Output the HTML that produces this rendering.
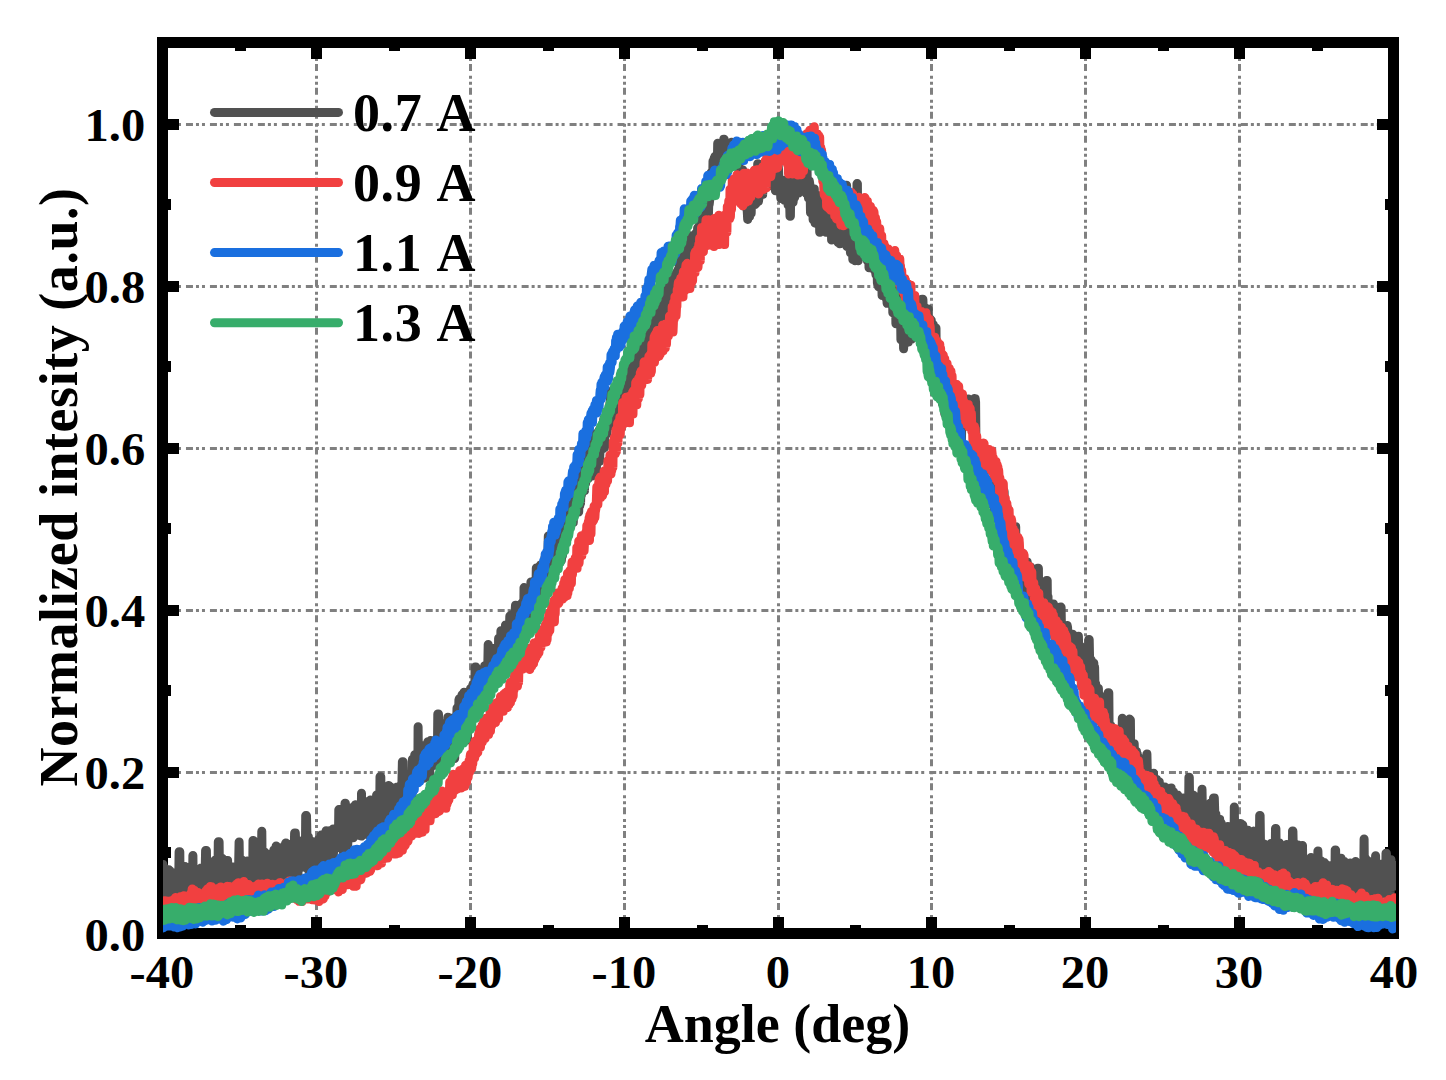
<!DOCTYPE html><html><head><meta charset="utf-8"><title>Normalized intesity vs Angle</title>
<style>html,body{margin:0;padding:0;background:#fff}svg{display:block}text{font-kerning:none;font-family:"Liberation Serif","Times New Roman",serif;font-weight:bold;fill:#000}.tk{font-size:46.5px}.tt{font-size:54px}</style></head><body>
<svg width="1446" height="1080" viewBox="0 0 1446 1080">
<rect width="1446" height="1080" fill="#fff"/>
<g stroke="#808080" stroke-width="3" stroke-dasharray="7 3 3 3 3 4.975" fill="none"><line x1="316.5" y1="934" x2="316.5" y2="42"/><line x1="470.5" y1="934" x2="470.5" y2="42"/><line x1="624.5" y1="934" x2="624.5" y2="42"/><line x1="778.5" y1="934" x2="778.5" y2="42"/><line x1="931.5" y1="934" x2="931.5" y2="42"/><line x1="1085.5" y1="934" x2="1085.5" y2="42"/><line x1="1239.5" y1="934" x2="1239.5" y2="42"/><line x1="162" y1="772.5" x2="1394" y2="772.5"/><line x1="162" y1="610.5" x2="1394" y2="610.5"/><line x1="162" y1="448.5" x2="1394" y2="448.5"/><line x1="162" y1="286.5" x2="1394" y2="286.5"/><line x1="162" y1="124.5" x2="1394" y2="124.5"/></g>
<rect x="162.5" y="42.5" width="1231.0" height="891.0" fill="none" stroke="#000" stroke-width="11"/>
<g stroke="#000" stroke-width="11"><line x1="240.5" y1="933.5" x2="240.5" y2="925.0"/><line x1="240.5" y1="42.5" x2="240.5" y2="51.0"/><line x1="316.5" y1="933.5" x2="316.5" y2="917.0"/><line x1="316.5" y1="42.5" x2="316.5" y2="59.0"/><line x1="394.5" y1="933.5" x2="394.5" y2="925.0"/><line x1="394.5" y1="42.5" x2="394.5" y2="51.0"/><line x1="470.5" y1="933.5" x2="470.5" y2="917.0"/><line x1="470.5" y1="42.5" x2="470.5" y2="59.0"/><line x1="548.5" y1="933.5" x2="548.5" y2="925.0"/><line x1="548.5" y1="42.5" x2="548.5" y2="51.0"/><line x1="624.5" y1="933.5" x2="624.5" y2="917.0"/><line x1="624.5" y1="42.5" x2="624.5" y2="59.0"/><line x1="702.5" y1="933.5" x2="702.5" y2="925.0"/><line x1="702.5" y1="42.5" x2="702.5" y2="51.0"/><line x1="778.5" y1="933.5" x2="778.5" y2="917.0"/><line x1="778.5" y1="42.5" x2="778.5" y2="59.0"/><line x1="855.5" y1="933.5" x2="855.5" y2="925.0"/><line x1="855.5" y1="42.5" x2="855.5" y2="51.0"/><line x1="931.5" y1="933.5" x2="931.5" y2="917.0"/><line x1="931.5" y1="42.5" x2="931.5" y2="59.0"/><line x1="1009.5" y1="933.5" x2="1009.5" y2="925.0"/><line x1="1009.5" y1="42.5" x2="1009.5" y2="51.0"/><line x1="1085.5" y1="933.5" x2="1085.5" y2="917.0"/><line x1="1085.5" y1="42.5" x2="1085.5" y2="59.0"/><line x1="1163.5" y1="933.5" x2="1163.5" y2="925.0"/><line x1="1163.5" y1="42.5" x2="1163.5" y2="51.0"/><line x1="1239.5" y1="933.5" x2="1239.5" y2="917.0"/><line x1="1239.5" y1="42.5" x2="1239.5" y2="59.0"/><line x1="1317.5" y1="933.5" x2="1317.5" y2="925.0"/><line x1="1317.5" y1="42.5" x2="1317.5" y2="51.0"/><line x1="162.5" y1="852.5" x2="171.0" y2="852.5"/><line x1="1393.5" y1="852.5" x2="1385.0" y2="852.5"/><line x1="162.5" y1="772.5" x2="179.0" y2="772.5"/><line x1="1393.5" y1="772.5" x2="1377.0" y2="772.5"/><line x1="162.5" y1="690.5" x2="171.0" y2="690.5"/><line x1="1393.5" y1="690.5" x2="1385.0" y2="690.5"/><line x1="162.5" y1="610.5" x2="179.0" y2="610.5"/><line x1="1393.5" y1="610.5" x2="1377.0" y2="610.5"/><line x1="162.5" y1="528.5" x2="171.0" y2="528.5"/><line x1="1393.5" y1="528.5" x2="1385.0" y2="528.5"/><line x1="162.5" y1="448.5" x2="179.0" y2="448.5"/><line x1="1393.5" y1="448.5" x2="1377.0" y2="448.5"/><line x1="162.5" y1="366.5" x2="171.0" y2="366.5"/><line x1="1393.5" y1="366.5" x2="1385.0" y2="366.5"/><line x1="162.5" y1="286.5" x2="179.0" y2="286.5"/><line x1="1393.5" y1="286.5" x2="1377.0" y2="286.5"/><line x1="162.5" y1="204.5" x2="171.0" y2="204.5"/><line x1="1393.5" y1="204.5" x2="1385.0" y2="204.5"/><line x1="162.5" y1="124.5" x2="179.0" y2="124.5"/><line x1="1393.5" y1="124.5" x2="1377.0" y2="124.5"/></g>
<clipPath id="c"><rect x="163" y="42.5" width="1233" height="892.0"/></clipPath>
<g clip-path="url(#c)"><path d="M162.5,874.4 L162.9,864.4 L163.3,869.7 L163.7,891.5 L164.0,889.3 L164.4,868.1 L164.8,902.4 L165.2,871.7 L165.6,873.4 L166.0,886.8 L166.3,893.8 L166.7,895.3 L167.1,896.6 L167.5,889.6 L167.9,887.7 L168.3,886.3 L168.7,869.7 L169.0,877.9 L169.4,884.8 L169.8,870.8 L170.2,900.6 L170.6,902.7 L171.0,885.2 L171.4,907.1 L171.7,907.4 L172.1,888.7 L172.5,890.4 L172.9,872.8 L173.3,883.7 L173.7,887.9 L174.0,888.3 L174.4,897.7 L174.8,906.7 L175.2,899.5 L175.6,880.0 L176.0,898.6 L176.4,891.7 L176.7,905.4 L177.1,873.2 L177.5,899.0 L177.9,894.6 L178.3,870.8 L178.7,885.1 L179.1,851.8 L179.4,851.8 L179.8,851.8 L180.2,901.0 L180.6,883.6 L181.0,884.6 L181.4,870.4 L181.7,890.0 L182.1,880.7 L182.5,901.4 L182.9,888.7 L183.3,891.3 L183.7,898.0 L184.1,872.4 L184.4,889.4 L184.8,866.4 L185.2,881.5 L185.6,880.9 L186.0,879.6 L186.4,878.0 L186.8,898.3 L187.1,887.1 L187.5,894.8 L187.9,888.6 L188.3,900.6 L188.7,867.3 L189.1,896.7 L189.4,879.4 L189.8,894.0 L190.2,872.0 L190.6,880.2 L191.0,900.6 L191.4,873.2 L191.8,869.6 L192.1,871.4 L192.5,884.4 L192.9,855.5 L193.3,899.1 L193.7,870.9 L194.1,885.6 L194.5,900.2 L194.8,873.3 L195.2,882.7 L195.6,885.5 L196.0,892.8 L196.4,891.3 L196.8,897.7 L197.1,905.3 L197.5,872.8 L197.9,888.5 L198.3,885.3 L198.7,893.9 L199.1,877.1 L199.5,904.9 L199.8,891.2 L200.2,904.2 L200.6,900.6 L201.0,867.9 L201.4,879.8 L201.8,888.5 L202.2,884.6 L202.5,871.0 L202.9,891.2 L203.3,881.7 L203.7,878.1 L204.1,890.7 L204.5,884.3 L204.8,874.8 L205.2,869.1 L205.6,850.4 L206.0,850.4 L206.4,850.4 L206.8,875.2 L207.2,873.0 L207.5,899.0 L207.9,887.8 L208.3,872.2 L208.7,902.8 L209.1,878.7 L209.5,872.0 L209.9,882.5 L210.2,873.9 L210.6,892.8 L211.0,893.6 L211.4,886.8 L211.8,893.6 L212.2,886.8 L212.5,863.2 L212.9,877.4 L213.3,886.1 L213.7,888.4 L214.1,862.0 L214.5,881.2 L214.9,860.3 L215.2,877.9 L215.6,877.6 L216.0,863.0 L216.4,868.8 L216.8,875.0 L217.2,880.8 L217.6,863.1 L217.9,881.0 L218.3,841.7 L218.7,841.7 L219.1,841.7 L219.5,876.4 L219.9,859.9 L220.2,886.9 L220.6,865.4 L221.0,870.3 L221.4,868.6 L221.8,871.8 L222.2,858.5 L222.6,882.9 L222.9,880.3 L223.3,887.8 L223.7,893.7 L224.1,887.4 L224.5,860.3 L224.9,863.4 L225.3,891.7 L225.6,873.0 L226.0,878.0 L226.4,873.9 L226.8,871.7 L227.2,885.4 L227.6,860.4 L227.9,879.7 L228.3,873.7 L228.7,873.9 L229.1,891.7 L229.5,897.0 L229.9,884.0 L230.3,870.9 L230.6,869.3 L231.0,873.0 L231.4,897.2 L231.8,866.8 L232.2,871.3 L232.6,868.5 L233.0,882.2 L233.3,867.2 L233.7,900.6 L234.1,901.1 L234.5,901.3 L234.9,892.2 L235.3,892.3 L235.6,894.5 L236.0,879.6 L236.4,899.5 L236.8,877.8 L237.2,893.7 L237.6,873.6 L238.0,898.7 L238.3,887.2 L238.7,862.6 L239.1,841.9 L239.5,866.7 L239.9,872.5 L240.3,874.1 L240.7,890.2 L241.0,875.3 L241.4,895.8 L241.8,866.4 L242.2,860.3 L242.6,864.1 L243.0,894.9 L243.3,883.7 L243.7,884.4 L244.1,892.1 L244.5,872.2 L244.9,865.5 L245.3,884.0 L245.7,862.5 L246.0,864.8 L246.4,890.5 L246.8,865.8 L247.2,861.1 L247.6,887.3 L248.0,872.7 L248.4,870.0 L248.7,870.8 L249.1,890.4 L249.5,868.5 L249.9,869.6 L250.3,862.1 L250.7,862.7 L251.0,881.0 L251.4,865.6 L251.8,860.1 L252.2,859.0 L252.6,886.8 L253.0,840.4 L253.4,840.4 L253.7,883.9 L254.1,870.1 L254.5,854.9 L254.9,876.3 L255.3,880.6 L255.7,872.3 L256.1,864.1 L256.4,885.1 L256.8,873.8 L257.2,882.7 L257.6,861.8 L258.0,854.7 L258.4,871.8 L258.7,871.5 L259.1,864.5 L259.5,876.5 L259.9,875.0 L260.3,871.7 L260.7,866.9 L261.1,881.6 L261.4,856.0 L261.8,831.2 L262.2,874.0 L262.6,882.9 L263.0,856.9 L263.4,881.4 L263.8,881.4 L264.1,881.6 L264.5,883.7 L264.9,852.3 L265.3,877.0 L265.7,875.8 L266.1,855.8 L266.4,864.2 L266.8,881.0 L267.2,871.5 L267.6,854.2 L268.0,873.6 L268.4,860.4 L268.8,883.6 L269.1,859.0 L269.5,856.8 L269.9,854.6 L270.3,860.1 L270.7,871.5 L271.1,883.1 L271.5,865.5 L271.8,856.3 L272.2,878.0 L272.6,874.9 L273.0,864.4 L273.4,856.0 L273.8,850.0 L274.1,879.6 L274.5,877.4 L274.9,853.7 L275.3,892.6 L275.7,856.8 L276.1,846.1 L276.5,848.2 L276.8,851.7 L277.2,854.1 L277.6,868.7 L278.0,859.1 L278.4,876.4 L278.8,854.0 L279.2,853.8 L279.5,854.9 L279.9,865.1 L280.3,867.5 L280.7,865.8 L281.1,880.6 L281.5,849.3 L281.8,860.7 L282.2,866.3 L282.6,860.0 L283.0,853.1 L283.4,866.1 L283.8,848.9 L284.2,845.7 L284.5,866.3 L284.9,876.0 L285.3,851.9 L285.7,843.0 L286.1,875.6 L286.5,854.1 L286.9,849.9 L287.2,846.4 L287.6,877.3 L288.0,878.6 L288.4,844.2 L288.8,877.7 L289.2,875.4 L289.5,860.2 L289.9,865.2 L290.3,853.4 L290.7,874.8 L291.1,846.8 L291.5,873.4 L291.9,851.8 L292.2,878.3 L292.6,862.5 L293.0,879.2 L293.4,868.2 L293.8,867.8 L294.2,851.7 L294.6,833.0 L294.9,833.0 L295.3,833.0 L295.7,843.0 L296.1,841.5 L296.5,866.8 L296.9,860.9 L297.2,867.0 L297.6,870.6 L298.0,873.7 L298.4,855.3 L298.8,869.6 L299.2,867.3 L299.6,840.9 L299.9,855.2 L300.3,866.6 L300.7,847.8 L301.1,863.1 L301.5,852.9 L301.9,862.2 L302.3,853.2 L302.6,848.9 L303.0,852.4 L303.4,857.8 L303.8,842.4 L304.2,839.2 L304.6,865.5 L304.9,866.8 L305.3,867.6 L305.7,815.6 L306.1,815.6 L306.5,815.6 L306.9,834.6 L307.3,863.9 L307.6,852.5 L308.0,852.9 L308.4,837.0 L308.8,870.9 L309.2,860.8 L309.6,850.2 L310.0,871.0 L310.3,864.9 L310.7,856.6 L311.1,841.3 L311.5,846.6 L311.9,844.5 L312.3,847.7 L312.6,850.4 L313.0,845.4 L313.4,852.2 L313.8,850.3 L314.2,867.2 L314.6,872.5 L315.0,850.0 L315.3,872.6 L315.7,843.7 L316.1,856.1 L316.5,866.1 L316.9,842.4 L317.3,872.2 L317.7,858.0 L318.0,873.7 L318.4,839.5 L318.8,853.7 L319.2,844.3 L319.6,863.6 L320.0,842.8 L320.3,845.8 L320.7,847.3 L321.1,835.1 L321.5,854.6 L321.9,854.9 L322.3,843.7 L322.7,837.9 L323.0,856.8 L323.4,843.6 L323.8,861.0 L324.2,847.5 L324.6,838.9 L325.0,865.6 L325.4,876.4 L325.7,867.1 L326.1,830.8 L326.5,849.4 L326.9,851.5 L327.3,839.5 L327.7,847.1 L328.0,839.2 L328.4,864.0 L328.8,845.4 L329.2,845.3 L329.6,830.7 L330.0,864.8 L330.4,848.7 L330.7,841.4 L331.1,844.0 L331.5,861.7 L331.9,841.4 L332.3,855.1 L332.7,855.5 L333.1,828.9 L333.4,854.5 L333.8,844.4 L334.2,833.0 L334.6,834.3 L335.0,840.0 L335.4,830.1 L335.7,842.7 L336.1,836.5 L336.5,828.6 L336.9,834.0 L337.3,835.3 L337.7,844.2 L338.1,838.2 L338.4,844.4 L338.8,809.6 L339.2,809.6 L339.6,809.6 L340.0,831.9 L340.4,841.8 L340.8,848.4 L341.1,829.8 L341.5,847.0 L341.9,829.0 L342.3,831.2 L342.7,844.0 L343.1,833.8 L343.4,860.0 L343.8,846.4 L344.2,828.4 L344.6,839.0 L345.0,803.3 L345.4,803.3 L345.8,833.8 L346.1,837.0 L346.5,842.5 L346.9,850.8 L347.3,845.7 L347.7,844.8 L348.1,838.6 L348.5,815.7 L348.8,839.3 L349.2,834.5 L349.6,836.4 L350.0,827.2 L350.4,812.0 L350.8,813.0 L351.1,831.3 L351.5,834.2 L351.9,809.4 L352.3,823.3 L352.7,815.1 L353.1,837.7 L353.5,806.7 L353.8,827.1 L354.2,819.3 L354.6,829.9 L355.0,820.8 L355.4,804.8 L355.8,804.7 L356.2,818.1 L356.5,806.9 L356.9,818.8 L357.3,822.2 L357.7,815.8 L358.1,829.1 L358.5,825.0 L358.8,810.4 L359.2,808.2 L359.6,835.6 L360.0,810.1 L360.4,806.9 L360.8,821.3 L361.2,836.1 L361.5,793.3 L361.9,829.6 L362.3,814.7 L362.7,824.9 L363.1,815.0 L363.5,829.2 L363.9,820.8 L364.2,818.8 L364.6,814.6 L365.0,830.8 L365.4,801.6 L365.8,827.1 L366.2,826.1 L366.5,827.6 L366.9,834.6 L367.3,820.7 L367.7,807.2 L368.1,809.6 L368.5,828.9 L368.9,830.9 L369.2,823.6 L369.6,806.2 L370.0,816.7 L370.4,799.9 L370.8,809.9 L371.2,811.0 L371.6,805.1 L371.9,805.5 L372.3,820.6 L372.7,823.5 L373.1,816.3 L373.5,814.0 L373.9,827.1 L374.2,815.6 L374.6,807.9 L375.0,827.1 L375.4,826.8 L375.8,825.2 L376.2,820.9 L376.6,794.9 L376.9,830.5 L377.3,824.4 L377.7,825.1 L378.1,813.1 L378.5,830.6 L378.9,813.6 L379.3,824.7 L379.6,820.5 L380.0,776.7 L380.4,776.7 L380.8,776.7 L381.2,814.6 L381.6,813.9 L381.9,798.5 L382.3,823.1 L382.7,793.7 L383.1,794.4 L383.5,802.6 L383.9,825.8 L384.3,801.9 L384.6,803.9 L385.0,796.8 L385.4,817.6 L385.8,789.0 L386.2,791.1 L386.6,820.1 L387.0,812.2 L387.3,822.8 L387.7,832.5 L388.1,788.6 L388.5,785.5 L388.9,800.0 L389.3,798.0 L389.6,797.4 L390.0,801.5 L390.4,787.0 L390.8,800.2 L391.2,810.6 L391.6,803.9 L392.0,823.0 L392.3,796.1 L392.7,797.5 L393.1,807.9 L393.5,791.4 L393.9,795.0 L394.3,811.0 L394.7,820.9 L395.0,818.7 L395.4,816.6 L395.8,811.9 L396.2,806.1 L396.6,787.3 L397.0,811.4 L397.3,787.0 L397.7,794.6 L398.1,787.3 L398.5,803.9 L398.9,818.4 L399.3,787.8 L399.7,807.8 L400.0,811.1 L400.4,785.5 L400.8,789.5 L401.2,807.4 L401.6,805.0 L402.0,779.1 L402.4,761.7 L402.7,761.7 L403.1,761.7 L403.5,782.0 L403.9,808.2 L404.3,792.9 L404.7,811.1 L405.0,791.5 L405.4,780.2 L405.8,809.1 L406.2,801.7 L406.6,782.8 L407.0,788.6 L407.4,799.4 L407.7,786.7 L408.1,792.5 L408.5,775.8 L408.9,796.0 L409.3,777.0 L409.7,780.2 L410.1,774.8 L410.4,787.4 L410.8,773.2 L411.2,772.9 L411.6,783.5 L412.0,796.0 L412.4,759.2 L412.7,767.4 L413.1,785.3 L413.5,763.8 L413.9,779.5 L414.3,771.0 L414.7,754.8 L415.1,769.2 L415.4,774.2 L415.8,772.7 L416.2,780.7 L416.6,775.0 L417.0,772.7 L417.4,776.0 L417.8,779.7 L418.1,726.7 L418.5,773.0 L418.9,752.9 L419.3,745.6 L419.7,769.6 L420.1,757.8 L420.4,759.9 L420.8,776.1 L421.2,774.2 L421.6,745.5 L422.0,761.0 L422.4,748.4 L422.8,776.2 L423.1,756.3 L423.5,745.9 L423.9,745.8 L424.3,778.2 L424.7,758.6 L425.1,764.4 L425.5,749.7 L425.8,775.8 L426.2,768.5 L426.6,747.8 L427.0,760.6 L427.4,761.3 L427.8,741.8 L428.1,766.3 L428.5,776.6 L428.9,763.0 L429.3,771.6 L429.7,774.1 L430.1,755.4 L430.5,740.6 L430.8,754.4 L431.2,751.5 L431.6,763.5 L432.0,754.0 L432.4,746.7 L432.8,752.4 L433.2,743.8 L433.5,752.7 L433.9,765.5 L434.3,750.4 L434.7,753.5 L435.1,765.1 L435.5,747.5 L435.8,739.6 L436.2,765.0 L436.6,749.1 L437.0,741.6 L437.4,753.6 L437.8,714.0 L438.2,714.0 L438.5,714.0 L438.9,741.0 L439.3,745.0 L439.7,761.2 L440.1,733.7 L440.5,729.0 L440.9,759.5 L441.2,753.4 L441.6,755.7 L442.0,729.5 L442.4,726.5 L442.8,758.8 L443.2,747.4 L443.5,752.1 L443.9,741.2 L444.3,723.6 L444.7,755.2 L445.1,750.8 L445.5,738.4 L445.9,736.6 L446.2,727.6 L446.6,738.7 L447.0,749.4 L447.4,741.2 L447.8,717.3 L448.2,725.7 L448.6,749.2 L448.9,722.7 L449.3,741.0 L449.7,722.8 L450.1,751.1 L450.5,717.9 L450.9,743.8 L451.2,731.9 L451.6,723.1 L452.0,727.9 L452.4,740.1 L452.8,740.2 L453.2,733.8 L453.6,741.6 L453.9,758.5 L454.3,758.5 L454.7,758.5 L455.1,727.5 L455.5,717.8 L455.9,728.3 L456.3,736.7 L456.6,724.8 L457.0,708.0 L457.4,726.1 L457.8,720.0 L458.2,706.3 L458.6,718.8 L458.9,700.1 L459.3,698.6 L459.7,721.1 L460.1,704.6 L460.5,722.4 L460.9,726.3 L461.3,714.7 L461.6,707.9 L462.0,694.8 L462.4,724.0 L462.8,702.4 L463.2,711.1 L463.6,724.0 L464.0,692.3 L464.3,702.6 L464.7,723.7 L465.1,694.3 L465.5,724.4 L465.9,724.8 L466.3,715.9 L466.6,693.3 L467.0,740.0 L467.4,740.0 L467.8,705.2 L468.2,725.2 L468.6,706.0 L469.0,709.8 L469.3,705.7 L469.7,699.0 L470.1,700.9 L470.5,688.6 L470.9,719.6 L471.3,694.5 L471.7,708.9 L472.0,694.2 L472.4,689.5 L472.8,685.0 L473.2,711.3 L473.6,703.3 L474.0,683.9 L474.3,682.6 L474.7,703.1 L475.1,667.0 L475.5,667.0 L475.9,667.0 L476.3,685.7 L476.7,695.6 L477.0,695.6 L477.4,697.0 L477.8,694.3 L478.2,704.2 L478.6,706.2 L479.0,679.3 L479.4,685.5 L479.7,680.6 L480.1,674.8 L480.5,695.4 L480.9,694.5 L481.3,692.0 L481.7,690.2 L482.0,672.3 L482.4,685.9 L482.8,686.9 L483.2,674.3 L483.6,690.1 L484.0,692.0 L484.4,669.0 L484.7,665.7 L485.1,682.0 L485.5,668.5 L485.9,690.3 L486.3,675.8 L486.7,668.6 L487.1,680.1 L487.4,676.1 L487.8,665.8 L488.2,644.4 L488.6,681.9 L489.0,661.0 L489.4,684.1 L489.7,650.8 L490.1,679.0 L490.5,676.6 L490.9,678.3 L491.3,648.7 L491.7,674.8 L492.1,662.7 L492.4,648.2 L492.8,649.5 L493.2,683.0 L493.6,664.5 L494.0,661.0 L494.4,656.8 L494.8,669.6 L495.1,669.2 L495.5,680.5 L495.9,678.5 L496.3,658.4 L496.7,675.1 L497.1,669.5 L497.4,663.4 L497.8,672.1 L498.2,672.7 L498.6,638.3 L499.0,655.6 L499.4,663.1 L499.8,643.3 L500.1,668.2 L500.5,658.4 L500.9,630.8 L501.3,632.4 L501.7,641.3 L502.1,660.7 L502.5,651.9 L502.8,668.5 L503.2,654.2 L503.6,660.7 L504.0,656.2 L504.4,636.7 L504.8,655.6 L505.1,653.0 L505.5,624.9 L505.9,645.5 L506.3,645.0 L506.7,653.6 L507.1,626.7 L507.5,630.5 L507.8,634.6 L508.2,631.3 L508.6,649.8 L509.0,643.2 L509.4,630.5 L509.8,616.1 L510.2,620.4 L510.5,626.1 L510.9,629.9 L511.3,647.7 L511.7,614.6 L512.1,644.6 L512.5,641.8 L512.8,620.2 L513.2,615.0 L513.6,615.2 L514.0,626.8 L514.4,636.4 L514.8,641.0 L515.2,610.2 L515.5,605.2 L515.9,632.1 L516.3,608.9 L516.7,625.6 L517.1,628.6 L517.5,621.0 L517.9,639.1 L518.2,622.8 L518.6,631.7 L519.0,612.9 L519.4,620.5 L519.8,606.9 L520.2,605.6 L520.5,626.9 L520.9,628.2 L521.3,603.7 L521.7,619.8 L522.1,634.7 L522.5,636.7 L522.9,601.7 L523.2,616.8 L523.6,635.7 L524.0,587.6 L524.4,618.5 L524.8,620.7 L525.2,601.3 L525.6,600.9 L525.9,630.6 L526.3,628.6 L526.7,618.0 L527.1,601.1 L527.5,607.7 L527.9,602.8 L528.2,607.4 L528.6,619.8 L529.0,595.9 L529.4,624.1 L529.8,597.3 L530.2,614.2 L530.6,602.2 L530.9,582.0 L531.3,596.6 L531.7,612.7 L532.1,597.3 L532.5,587.2 L532.9,608.0 L533.3,599.4 L533.6,606.8 L534.0,586.6 L534.4,591.5 L534.8,586.3 L535.2,593.2 L535.6,579.0 L535.9,595.9 L536.3,568.1 L536.7,605.0 L537.1,605.0 L537.5,583.0 L537.9,568.3 L538.3,589.0 L538.6,569.8 L539.0,588.4 L539.4,572.4 L539.8,586.7 L540.2,576.9 L540.6,564.9 L541.0,596.6 L541.3,568.6 L541.7,578.0 L542.1,583.5 L542.5,584.0 L542.9,593.6 L543.3,586.1 L543.6,572.3 L544.0,591.2 L544.4,569.8 L544.8,558.5 L545.2,557.0 L545.6,559.7 L546.0,562.1 L546.3,584.7 L546.7,554.8 L547.1,582.1 L547.5,556.5 L547.9,555.1 L548.3,536.0 L548.7,536.0 L549.0,577.9 L549.4,565.6 L549.8,573.6 L550.2,579.1 L550.6,578.6 L551.0,553.5 L551.3,548.3 L551.7,576.2 L552.1,580.4 L552.5,570.8 L552.9,575.2 L553.3,572.7 L553.7,557.8 L554.0,563.3 L554.4,562.9 L554.8,570.8 L555.2,553.6 L555.6,566.8 L556.0,562.0 L556.4,558.6 L556.7,541.7 L557.1,565.0 L557.5,546.7 L557.9,560.8 L558.3,538.4 L558.7,555.7 L559.0,550.8 L559.4,536.1 L559.8,542.3 L560.2,562.1 L560.6,559.1 L561.0,526.6 L561.4,560.2 L561.7,548.6 L562.1,522.8 L562.5,555.4 L562.9,548.4 L563.3,545.1 L563.7,509.9 L564.1,509.9 L564.4,526.7 L564.8,535.0 L565.2,541.0 L565.6,513.9 L566.0,512.8 L566.4,520.3 L566.7,534.4 L567.1,518.6 L567.5,514.4 L567.9,520.7 L568.3,503.9 L568.7,520.2 L569.1,514.9 L569.4,528.6 L569.8,511.5 L570.2,503.7 L570.6,504.6 L571.0,521.3 L571.4,494.2 L571.8,503.8 L572.1,514.3 L572.5,514.4 L572.9,500.9 L573.3,522.4 L573.7,504.8 L574.1,501.2 L574.4,507.7 L574.8,493.8 L575.2,507.5 L575.6,477.2 L576.0,477.2 L576.4,488.0 L576.8,508.6 L577.1,493.6 L577.5,502.7 L577.9,482.2 L578.3,480.4 L578.7,512.0 L579.1,475.4 L579.5,487.8 L579.8,505.3 L580.2,488.3 L580.6,502.9 L581.0,483.3 L581.4,495.0 L581.8,486.9 L582.1,487.7 L582.5,475.5 L582.9,466.2 L583.3,460.7 L583.7,481.4 L584.1,471.4 L584.5,490.7 L584.8,476.5 L585.2,454.3 L585.6,483.5 L586.0,455.2 L586.4,461.9 L586.8,473.9 L587.2,455.6 L587.5,472.5 L587.9,450.0 L588.3,478.5 L588.7,476.4 L589.1,453.1 L589.5,463.5 L589.8,474.0 L590.2,460.6 L590.6,468.1 L591.0,458.9 L591.4,451.7 L591.8,447.6 L592.2,476.0 L592.5,456.3 L592.9,441.8 L593.3,460.4 L593.7,434.1 L594.1,434.1 L594.5,434.1 L594.9,455.1 L595.2,443.4 L595.6,446.1 L596.0,442.4 L596.4,470.8 L596.8,446.1 L597.2,463.7 L597.5,460.1 L597.9,456.6 L598.3,445.5 L598.7,442.5 L599.1,430.1 L599.5,461.4 L599.9,453.4 L600.2,446.1 L600.6,428.6 L601.0,437.1 L601.4,437.2 L601.8,427.2 L602.2,430.0 L602.6,442.1 L602.9,448.7 L603.3,434.6 L603.7,419.0 L604.1,428.4 L604.5,447.3 L604.9,432.8 L605.2,434.0 L605.6,426.4 L606.0,425.7 L606.4,412.1 L606.8,433.6 L607.2,430.5 L607.6,422.4 L607.9,411.8 L608.3,417.3 L608.7,424.7 L609.1,411.2 L609.5,421.7 L609.9,403.1 L610.3,426.1 L610.6,391.5 L611.0,403.9 L611.4,421.9 L611.8,401.3 L612.2,408.7 L612.6,411.3 L612.9,425.5 L613.3,399.6 L613.7,424.6 L614.1,391.9 L614.5,394.2 L614.9,414.1 L615.3,420.0 L615.6,392.4 L616.0,406.4 L616.4,418.5 L616.8,404.6 L617.2,413.1 L617.6,407.0 L618.0,398.5 L618.3,388.4 L618.7,392.1 L619.1,414.3 L619.5,402.5 L619.9,401.6 L620.3,383.5 L620.6,414.9 L621.0,398.9 L621.4,372.3 L621.8,401.2 L622.2,405.4 L622.6,394.0 L623.0,401.5 L623.3,378.9 L623.7,407.9 L624.1,402.7 L624.5,406.2 L624.9,382.9 L625.3,396.8 L625.7,373.9 L626.0,372.8 L626.4,369.9 L626.8,392.6 L627.2,400.1 L627.6,384.5 L628.0,362.3 L628.3,367.9 L628.7,391.6 L629.1,367.4 L629.5,358.1 L629.9,354.5 L630.3,361.7 L630.7,354.8 L631.0,354.0 L631.4,369.4 L631.8,377.2 L632.2,353.6 L632.6,373.3 L633.0,337.0 L633.4,340.7 L633.7,355.3 L634.1,355.9 L634.5,340.4 L634.9,363.6 L635.3,338.1 L635.7,341.0 L636.0,360.2 L636.4,361.1 L636.8,368.0 L637.2,340.0 L637.6,365.9 L638.0,372.3 L638.4,341.3 L638.7,351.6 L639.1,349.4 L639.5,347.4 L639.9,371.9 L640.3,370.2 L640.7,355.8 L641.1,371.3 L641.4,355.1 L641.8,346.7 L642.2,349.0 L642.6,350.1 L643.0,369.7 L643.4,362.2 L643.7,338.1 L644.1,365.0 L644.5,350.0 L644.9,366.6 L645.3,334.6 L645.7,361.0 L646.1,351.8 L646.4,322.8 L646.8,322.8 L647.2,322.8 L647.6,337.7 L648.0,350.6 L648.4,359.3 L648.8,336.5 L649.1,326.1 L649.5,358.7 L649.9,330.7 L650.3,350.4 L650.7,339.2 L651.1,336.2 L651.4,332.1 L651.8,317.8 L652.2,327.4 L652.6,336.8 L653.0,324.2 L653.4,332.0 L653.8,332.9 L654.1,333.2 L654.5,327.2 L654.9,333.1 L655.3,332.8 L655.7,334.8 L656.1,323.0 L656.5,326.7 L656.8,306.5 L657.2,305.2 L657.6,322.2 L658.0,311.7 L658.4,300.8 L658.8,318.7 L659.1,310.7 L659.5,313.7 L659.9,286.5 L660.3,286.5 L660.7,321.4 L661.1,291.0 L661.5,300.4 L661.8,294.9 L662.2,300.0 L662.6,291.0 L663.0,309.7 L663.4,295.6 L663.8,310.5 L664.2,301.0 L664.5,294.1 L664.9,310.1 L665.3,314.4 L665.7,288.3 L666.1,287.2 L666.5,291.7 L666.8,303.3 L667.2,291.1 L667.6,310.9 L668.0,289.9 L668.4,292.3 L668.8,290.6 L669.2,296.1 L669.5,303.2 L669.9,284.9 L670.3,293.4 L670.7,282.9 L671.1,296.1 L671.5,305.5 L671.9,289.4 L672.2,286.3 L672.6,275.2 L673.0,275.6 L673.4,303.8 L673.8,277.9 L674.2,294.9 L674.5,278.8 L674.9,288.8 L675.3,289.5 L675.7,282.7 L676.1,280.2 L676.5,273.1 L676.9,273.9 L677.2,271.5 L677.6,280.8 L678.0,269.8 L678.4,280.3 L678.8,269.8 L679.2,273.6 L679.6,248.5 L679.9,248.5 L680.3,248.5 L680.7,277.2 L681.1,270.3 L681.5,280.5 L681.9,259.5 L682.2,250.2 L682.6,268.3 L683.0,276.3 L683.4,257.7 L683.8,274.2 L684.2,247.3 L684.6,274.0 L684.9,265.5 L685.3,260.5 L685.7,273.1 L686.1,265.5 L686.5,266.8 L686.9,251.4 L687.3,241.8 L687.6,263.6 L688.0,248.6 L688.4,271.2 L688.8,255.9 L689.2,260.6 L689.6,235.7 L689.9,246.8 L690.3,249.4 L690.7,270.7 L691.1,265.3 L691.5,246.9 L691.9,240.5 L692.3,253.1 L692.6,243.2 L693.0,238.5 L693.4,246.2 L693.8,248.8 L694.2,262.5 L694.6,256.1 L695.0,245.8 L695.3,233.8 L695.7,254.0 L696.1,249.0 L696.5,260.1 L696.9,235.2 L697.3,242.1 L697.6,228.0 L698.0,245.6 L698.4,228.8 L698.8,226.2 L699.2,231.5 L699.6,239.4 L700.0,230.4 L700.3,217.1 L700.7,235.0 L701.1,237.2 L701.5,223.0 L701.9,229.8 L702.3,209.1 L702.7,207.6 L703.0,202.2 L703.4,204.8 L703.8,210.7 L704.2,225.8 L704.6,203.0 L705.0,205.7 L705.3,233.9 L705.7,233.9 L706.1,199.5 L706.5,216.9 L706.9,203.0 L707.3,207.2 L707.7,212.1 L708.0,211.0 L708.4,215.3 L708.8,202.0 L709.2,204.3 L709.6,200.7 L710.0,183.9 L710.4,187.8 L710.7,185.4 L711.1,172.6 L711.5,196.4 L711.9,184.0 L712.3,195.6 L712.7,182.5 L713.0,161.1 L713.4,188.8 L713.8,163.7 L714.2,158.0 L714.6,168.2 L715.0,156.4 L715.4,167.0 L715.7,168.7 L716.1,162.5 L716.5,172.3 L716.9,167.8 L717.3,167.2 L717.7,143.2 L718.1,165.4 L718.4,169.4 L718.8,145.7 L719.2,173.8 L719.6,146.0 L720.0,150.5 L720.4,154.4 L720.7,146.4 L721.1,145.2 L721.5,149.5 L721.9,150.9 L722.3,148.5 L722.7,146.9 L723.1,149.6 L723.4,150.5 L723.8,139.2 L724.2,139.2 L724.6,152.9 L725.0,149.8 L725.4,148.5 L725.8,150.7 L726.1,145.8 L726.5,145.7 L726.9,153.5 L727.3,146.0 L727.7,152.0 L728.1,149.0 L728.4,152.4 L728.8,149.7 L729.2,152.7 L729.6,148.2 L730.0,147.2 L730.4,152.2 L730.8,152.8 L731.1,149.6 L731.5,142.3 L731.9,149.5 L732.3,153.8 L732.7,146.6 L733.1,153.9 L733.5,152.2 L733.8,153.9 L734.2,148.2 L734.6,150.2 L735.0,153.4 L735.4,151.3 L735.8,147.6 L736.1,147.6 L736.5,153.9 L736.9,151.3 L737.3,145.3 L737.7,147.3 L738.1,150.2 L738.5,146.6 L738.8,153.2 L739.2,176.7 L739.6,170.8 L740.0,172.5 L740.4,170.8 L740.8,193.2 L741.2,192.1 L741.5,189.1 L741.9,191.4 L742.3,176.5 L742.7,169.9 L743.1,182.1 L743.5,205.9 L743.8,198.3 L744.2,182.1 L744.6,179.3 L745.0,192.2 L745.4,201.9 L745.8,202.7 L746.2,194.2 L746.5,187.4 L746.9,206.2 L747.3,212.3 L747.7,219.4 L748.1,214.9 L748.5,190.5 L748.9,198.3 L749.2,185.3 L749.6,216.4 L750.0,205.5 L750.4,189.9 L750.8,193.6 L751.2,213.1 L751.5,200.6 L751.9,191.8 L752.3,189.6 L752.7,197.0 L753.1,174.4 L753.5,174.4 L753.9,194.3 L754.2,184.7 L754.6,190.0 L755.0,204.5 L755.4,198.3 L755.8,203.6 L756.2,198.5 L756.6,197.5 L756.9,189.4 L757.3,192.4 L757.7,163.7 L758.1,174.4 L758.5,201.1 L758.9,197.9 L759.2,173.4 L759.6,182.2 L760.0,184.6 L760.4,189.6 L760.8,179.4 L761.2,189.6 L761.6,167.3 L761.9,167.7 L762.3,184.5 L762.7,194.4 L763.1,164.2 L763.5,184.0 L763.9,171.2 L764.3,163.6 L764.6,165.0 L765.0,161.9 L765.4,174.0 L765.8,161.1 L766.2,173.5 L766.6,179.5 L766.9,171.4 L767.3,175.9 L767.7,160.9 L768.1,158.5 L768.5,181.9 L768.9,180.7 L769.3,172.8 L769.6,170.3 L770.0,153.3 L770.4,153.6 L770.8,152.7 L771.2,160.7 L771.6,162.3 L772.0,176.4 L772.3,173.2 L772.7,186.2 L773.1,158.1 L773.5,177.9 L773.9,185.3 L774.3,178.0 L774.6,178.6 L775.0,165.5 L775.4,190.7 L775.8,183.6 L776.2,151.0 L776.6,151.0 L777.0,151.0 L777.3,174.9 L777.7,186.8 L778.1,164.9 L778.5,169.4 L778.9,178.7 L779.3,191.5 L779.7,190.4 L780.0,185.6 L780.4,188.2 L780.8,198.4 L781.2,187.3 L781.6,186.9 L782.0,193.1 L782.3,190.3 L782.7,192.8 L783.1,192.1 L783.5,184.6 L783.9,189.4 L784.3,200.1 L784.7,180.3 L785.0,190.8 L785.4,193.4 L785.8,185.0 L786.2,183.7 L786.6,180.5 L787.0,182.0 L787.4,187.0 L787.7,185.4 L788.1,205.1 L788.5,186.5 L788.9,201.7 L789.3,201.4 L789.7,205.7 L790.0,216.3 L790.4,216.3 L790.8,185.2 L791.2,181.2 L791.6,179.4 L792.0,201.1 L792.4,182.6 L792.7,175.1 L793.1,202.1 L793.5,196.4 L793.9,193.9 L794.3,187.1 L794.7,197.0 L795.1,184.1 L795.4,189.9 L795.8,178.1 L796.2,181.5 L796.6,175.3 L797.0,189.5 L797.4,172.7 L797.7,171.1 L798.1,170.9 L798.5,192.9 L798.9,162.3 L799.3,174.7 L799.7,184.6 L800.1,178.7 L800.4,175.4 L800.8,174.7 L801.2,183.3 L801.6,181.8 L802.0,177.6 L802.4,162.5 L802.8,174.0 L803.1,188.0 L803.5,174.1 L803.9,183.0 L804.3,190.0 L804.7,157.4 L805.1,152.7 L805.4,152.7 L805.8,181.8 L806.2,193.4 L806.6,165.6 L807.0,165.7 L807.4,192.7 L807.8,186.1 L808.1,189.3 L808.5,198.2 L808.9,183.1 L809.3,180.9 L809.7,183.7 L810.1,188.7 L810.5,212.8 L810.8,206.7 L811.2,198.0 L811.6,192.5 L812.0,204.4 L812.4,203.3 L812.8,190.7 L813.1,219.7 L813.5,212.1 L813.9,212.4 L814.3,188.9 L814.7,216.1 L815.1,223.2 L815.5,211.2 L815.8,203.3 L816.2,220.6 L816.6,196.8 L817.0,218.9 L817.4,201.3 L817.8,220.0 L818.2,195.4 L818.5,219.2 L818.9,201.5 L819.3,198.6 L819.7,232.2 L820.1,232.2 L820.5,209.3 L820.8,212.8 L821.2,214.1 L821.6,204.0 L822.0,215.4 L822.4,214.8 L822.8,215.6 L823.2,217.1 L823.5,219.2 L823.9,228.2 L824.3,223.9 L824.7,225.5 L825.1,226.5 L825.5,208.7 L825.9,232.3 L826.2,229.8 L826.6,219.0 L827.0,226.6 L827.4,229.5 L827.8,225.3 L828.2,221.3 L828.5,215.7 L828.9,205.8 L829.3,210.6 L829.7,225.6 L830.1,225.2 L830.5,226.8 L830.9,233.3 L831.2,209.2 L831.6,240.1 L832.0,236.0 L832.4,220.9 L832.8,223.7 L833.2,234.5 L833.6,211.9 L833.9,230.2 L834.3,223.8 L834.7,203.9 L835.1,203.9 L835.5,203.9 L835.9,230.3 L836.2,213.4 L836.6,211.4 L837.0,212.6 L837.4,215.3 L837.8,235.8 L838.2,242.7 L838.6,228.3 L838.9,241.8 L839.3,210.8 L839.7,243.8 L840.1,232.7 L840.5,236.9 L840.9,243.5 L841.3,226.9 L841.6,241.9 L842.0,213.6 L842.4,221.4 L842.8,233.0 L843.2,217.0 L843.6,219.0 L843.9,235.5 L844.3,217.9 L844.7,215.6 L845.1,226.7 L845.5,236.5 L845.9,217.8 L846.3,185.2 L846.6,185.2 L847.0,246.6 L847.4,219.6 L847.8,227.0 L848.2,242.7 L848.6,231.8 L849.0,212.4 L849.3,212.4 L849.7,241.3 L850.1,246.9 L850.5,252.9 L850.9,243.4 L851.3,221.9 L851.6,249.7 L852.0,242.1 L852.4,225.1 L852.8,259.5 L853.2,250.4 L853.6,233.2 L854.0,259.5 L854.3,231.6 L854.7,235.9 L855.1,260.7 L855.5,245.6 L855.9,247.2 L856.3,242.6 L856.7,256.3 L857.0,183.6 L857.4,183.6 L857.8,256.9 L858.2,260.8 L858.6,235.2 L859.0,235.3 L859.3,252.9 L859.7,240.9 L860.1,247.5 L860.5,254.2 L860.9,251.1 L861.3,228.9 L861.7,249.7 L862.0,240.7 L862.4,227.2 L862.8,249.4 L863.2,231.5 L863.6,255.5 L864.0,233.9 L864.4,231.4 L864.7,230.7 L865.1,226.2 L865.5,219.2 L865.9,219.2 L866.3,251.5 L866.7,243.8 L867.0,255.5 L867.4,260.9 L867.8,249.4 L868.2,240.6 L868.6,239.8 L869.0,267.8 L869.4,237.2 L869.7,263.1 L870.1,263.1 L870.5,245.6 L870.9,244.5 L871.3,251.0 L871.7,266.2 L872.1,262.9 L872.4,250.8 L872.8,268.4 L873.2,253.7 L873.6,255.2 L874.0,266.9 L874.4,252.6 L874.7,270.8 L875.1,258.6 L875.5,263.1 L875.9,274.6 L876.3,268.0 L876.7,265.7 L877.1,268.2 L877.4,283.1 L877.8,245.9 L878.2,245.9 L878.6,286.9 L879.0,256.2 L879.4,271.4 L879.8,286.2 L880.1,262.9 L880.5,277.3 L880.9,268.6 L881.3,265.9 L881.7,277.3 L882.1,295.6 L882.4,270.0 L882.8,275.6 L883.2,269.0 L883.6,292.1 L884.0,275.0 L884.4,272.7 L884.8,291.7 L885.1,290.6 L885.5,293.8 L885.9,265.7 L886.3,298.6 L886.7,295.2 L887.1,303.3 L887.5,280.4 L887.8,292.4 L888.2,287.7 L888.6,297.8 L889.0,295.1 L889.4,281.4 L889.8,291.5 L890.1,287.3 L890.5,293.9 L890.9,290.1 L891.3,279.2 L891.7,302.5 L892.1,295.0 L892.5,290.4 L892.8,312.8 L893.2,283.6 L893.6,300.9 L894.0,311.1 L894.4,294.5 L894.8,294.0 L895.2,301.9 L895.5,293.3 L895.9,323.7 L896.3,309.7 L896.7,303.7 L897.1,298.9 L897.5,310.3 L897.8,313.2 L898.2,322.0 L898.6,316.6 L899.0,318.2 L899.4,306.7 L899.8,310.3 L900.2,314.4 L900.5,308.6 L900.9,339.8 L901.3,316.3 L901.7,328.5 L902.1,319.5 L902.5,336.7 L902.9,304.8 L903.2,320.1 L903.6,348.8 L904.0,340.5 L904.4,334.0 L904.8,321.6 L905.2,342.2 L905.5,322.7 L905.9,343.0 L906.3,340.8 L906.7,331.8 L907.1,328.3 L907.5,320.2 L907.9,320.1 L908.2,342.1 L908.6,324.0 L909.0,327.0 L909.4,334.8 L909.8,320.1 L910.2,314.8 L910.6,328.5 L910.9,312.2 L911.3,339.3 L911.7,337.3 L912.1,315.7 L912.5,331.6 L912.9,321.6 L913.2,324.6 L913.6,336.9 L914.0,315.5 L914.4,315.7 L914.8,336.2 L915.2,331.6 L915.6,311.8 L915.9,307.5 L916.3,308.7 L916.7,321.7 L917.1,326.5 L917.5,323.9 L917.9,333.7 L918.3,323.0 L918.6,332.9 L919.0,335.5 L919.4,328.0 L919.8,339.3 L920.2,324.8 L920.6,316.5 L920.9,317.9 L921.3,306.4 L921.7,309.4 L922.1,299.3 L922.5,299.3 L922.9,299.3 L923.3,313.3 L923.6,331.7 L924.0,323.4 L924.4,307.5 L924.8,320.8 L925.2,323.9 L925.6,313.5 L926.0,329.8 L926.3,311.2 L926.7,339.8 L927.1,332.3 L927.5,334.7 L927.9,332.6 L928.3,309.0 L928.6,342.1 L929.0,333.1 L929.4,324.0 L929.8,320.4 L930.2,319.0 L930.6,334.1 L931.0,341.2 L931.3,320.2 L931.7,347.2 L932.1,350.7 L932.5,346.4 L932.9,338.9 L933.3,324.8 L933.7,334.4 L934.0,342.2 L934.4,345.8 L934.8,341.6 L935.2,346.0 L935.6,358.4 L936.0,328.0 L936.3,367.8 L936.7,349.7 L937.1,357.5 L937.5,354.1 L937.9,382.9 L938.3,354.6 L938.7,374.7 L939.0,357.3 L939.4,371.0 L939.8,374.8 L940.2,367.3 L940.6,376.0 L941.0,376.1 L941.4,396.1 L941.7,381.8 L942.1,392.1 L942.5,403.8 L942.9,403.5 L943.3,392.7 L943.7,401.8 L944.0,385.2 L944.4,409.1 L944.8,414.0 L945.2,380.0 L945.6,405.3 L946.0,399.1 L946.4,411.1 L946.7,412.3 L947.1,406.4 L947.5,393.4 L947.9,420.8 L948.3,393.2 L948.7,388.6 L949.1,404.7 L949.4,412.5 L949.8,417.7 L950.2,420.0 L950.6,415.1 L951.0,396.5 L951.4,427.1 L951.7,399.5 L952.1,404.1 L952.5,436.1 L952.9,436.1 L953.3,402.9 L953.7,405.6 L954.1,418.8 L954.4,399.6 L954.8,423.3 L955.2,416.1 L955.6,427.8 L956.0,409.4 L956.4,430.0 L956.8,427.4 L957.1,407.1 L957.5,417.3 L957.9,412.3 L958.3,410.7 L958.7,416.3 L959.1,431.9 L959.4,414.8 L959.8,436.7 L960.2,432.2 L960.6,426.8 L961.0,439.7 L961.4,441.2 L961.8,422.7 L962.1,407.9 L962.5,404.3 L962.9,398.7 L963.3,400.0 L963.7,403.2 L964.1,407.4 L964.5,407.8 L964.8,405.4 L965.2,406.9 L965.6,399.2 L966.0,403.2 L966.4,402.9 L966.8,400.4 L967.1,403.8 L967.5,403.8 L967.9,407.7 L968.3,398.9 L968.7,401.2 L969.1,399.9 L969.5,400.4 L969.8,401.4 L970.2,401.9 L970.6,407.6 L971.0,401.5 L971.4,403.0 L971.8,399.9 L972.2,400.4 L972.5,400.4 L972.9,403.8 L973.3,401.2 L973.7,401.0 L974.1,403.4 L974.5,398.4 L974.8,406.7 L975.2,398.8 L975.6,402.3 L976.0,451.3 L976.4,468.5 L976.8,478.4 L977.2,479.1 L977.5,481.4 L977.9,474.5 L978.3,489.5 L978.7,484.0 L979.1,485.1 L979.5,478.1 L979.9,493.9 L980.2,500.9 L980.6,498.5 L981.0,495.1 L981.4,470.6 L981.8,475.9 L982.2,474.8 L982.5,485.9 L982.9,498.4 L983.3,485.6 L983.7,471.5 L984.1,484.8 L984.5,480.8 L984.9,490.6 L985.2,499.2 L985.6,482.6 L986.0,488.3 L986.4,493.9 L986.8,497.8 L987.2,482.8 L987.6,497.5 L987.9,488.9 L988.3,501.4 L988.7,484.5 L989.1,499.1 L989.5,496.0 L989.9,480.5 L990.2,489.0 L990.6,489.0 L991.0,503.9 L991.4,486.2 L991.8,503.1 L992.2,482.0 L992.6,486.1 L992.9,495.2 L993.3,489.4 L993.7,500.1 L994.1,493.6 L994.5,516.1 L994.9,485.5 L995.3,475.0 L995.6,475.0 L996.0,514.0 L996.4,502.3 L996.8,496.0 L997.2,518.9 L997.6,490.1 L997.9,513.1 L998.3,490.4 L998.7,500.2 L999.1,510.7 L999.5,515.8 L999.9,525.7 L1000.3,526.1 L1000.6,506.8 L1001.0,502.0 L1001.4,497.9 L1001.8,518.4 L1002.2,498.4 L1002.6,522.2 L1003.0,499.3 L1003.3,500.7 L1003.7,529.1 L1004.1,491.6 L1004.5,510.6 L1004.9,511.2 L1005.3,506.7 L1005.6,518.3 L1006.0,519.8 L1006.4,525.3 L1006.8,507.8 L1007.2,507.3 L1007.6,535.4 L1008.0,514.3 L1008.3,533.6 L1008.7,538.2 L1009.1,538.7 L1009.5,525.9 L1009.9,537.4 L1010.3,540.0 L1010.7,546.5 L1011.0,539.5 L1011.4,524.5 L1011.8,553.3 L1012.2,537.6 L1012.6,534.7 L1013.0,556.3 L1013.3,549.0 L1013.7,528.2 L1014.1,526.4 L1014.5,533.2 L1014.9,559.5 L1015.3,539.1 L1015.7,526.8 L1016.0,563.5 L1016.4,553.5 L1016.8,538.6 L1017.2,541.7 L1017.6,560.9 L1018.0,574.0 L1018.4,544.4 L1018.7,542.3 L1019.1,560.8 L1019.5,572.3 L1019.9,561.8 L1020.3,557.2 L1020.7,565.9 L1021.0,571.4 L1021.4,575.9 L1021.8,574.9 L1022.2,584.8 L1022.6,578.2 L1023.0,553.5 L1023.4,589.0 L1023.7,563.5 L1024.1,562.0 L1024.5,576.9 L1024.9,570.7 L1025.3,585.2 L1025.7,569.7 L1026.1,569.2 L1026.4,569.2 L1026.8,578.8 L1027.2,561.9 L1027.6,566.4 L1028.0,577.9 L1028.4,574.6 L1028.7,590.4 L1029.1,566.5 L1029.5,578.3 L1029.9,569.6 L1030.3,592.2 L1030.7,567.0 L1031.1,599.4 L1031.4,584.4 L1031.8,600.3 L1032.2,597.8 L1032.6,577.0 L1033.0,603.1 L1033.4,591.9 L1033.8,599.3 L1034.1,575.2 L1034.5,604.1 L1034.9,595.4 L1035.3,576.7 L1035.7,583.6 L1036.1,583.7 L1036.4,573.8 L1036.8,610.3 L1037.2,587.3 L1037.6,568.2 L1038.0,568.2 L1038.4,568.2 L1038.8,613.9 L1039.1,614.4 L1039.5,589.7 L1039.9,596.5 L1040.3,610.2 L1040.7,620.3 L1041.1,601.8 L1041.5,619.0 L1041.8,595.8 L1042.2,611.5 L1042.6,595.0 L1043.0,622.2 L1043.4,608.1 L1043.8,623.3 L1044.1,598.9 L1044.5,607.8 L1044.9,620.6 L1045.3,594.2 L1045.7,604.9 L1046.1,618.0 L1046.5,580.4 L1046.8,580.4 L1047.2,580.4 L1047.6,621.1 L1048.0,596.3 L1048.4,631.0 L1048.8,606.7 L1049.2,623.6 L1049.5,619.0 L1049.9,611.7 L1050.3,634.1 L1050.7,627.8 L1051.1,632.6 L1051.5,609.5 L1051.8,628.9 L1052.2,619.0 L1052.6,625.7 L1053.0,629.5 L1053.4,603.9 L1053.8,620.3 L1054.2,615.7 L1054.5,614.5 L1054.9,610.8 L1055.3,632.1 L1055.7,639.5 L1056.1,625.6 L1056.5,637.2 L1056.9,643.3 L1057.2,610.7 L1057.6,622.2 L1058.0,630.7 L1058.4,641.7 L1058.8,619.3 L1059.2,628.6 L1059.5,642.7 L1059.9,613.2 L1060.3,614.8 L1060.7,607.1 L1061.1,607.1 L1061.5,632.2 L1061.9,641.3 L1062.2,628.7 L1062.6,647.6 L1063.0,630.9 L1063.4,651.7 L1063.8,654.2 L1064.2,628.7 L1064.6,643.1 L1064.9,630.5 L1065.3,628.1 L1065.7,626.6 L1066.1,635.3 L1066.5,627.4 L1066.9,634.9 L1067.2,625.6 L1067.6,627.7 L1068.0,660.2 L1068.4,652.8 L1068.8,649.1 L1069.2,655.0 L1069.6,658.7 L1069.9,633.6 L1070.3,665.9 L1070.7,660.8 L1071.1,640.3 L1071.5,660.9 L1071.9,660.2 L1072.3,634.3 L1072.6,642.4 L1073.0,654.4 L1073.4,666.4 L1073.8,661.9 L1074.2,635.8 L1074.6,643.2 L1074.9,670.3 L1075.3,646.9 L1075.7,659.6 L1076.1,647.2 L1076.5,663.4 L1076.9,670.0 L1077.3,674.6 L1077.6,665.0 L1078.0,644.7 L1078.4,636.2 L1078.8,652.6 L1079.2,651.1 L1079.6,672.7 L1080.0,667.8 L1080.3,648.7 L1080.7,646.5 L1081.1,667.9 L1081.5,656.6 L1081.9,651.9 L1082.3,650.6 L1082.6,677.7 L1083.0,665.3 L1083.4,676.0 L1083.8,674.0 L1084.2,674.9 L1084.6,682.2 L1085.0,692.3 L1085.3,664.8 L1085.7,667.6 L1086.1,662.2 L1086.5,687.9 L1086.9,684.7 L1087.3,671.2 L1087.7,658.2 L1088.0,675.4 L1088.4,685.3 L1088.8,639.4 L1089.2,639.4 L1089.6,659.7 L1090.0,658.5 L1090.3,676.8 L1090.7,682.5 L1091.1,659.9 L1091.5,663.3 L1091.9,661.3 L1092.3,679.0 L1092.7,683.6 L1093.0,686.0 L1093.4,663.5 L1093.8,662.9 L1094.2,684.8 L1094.6,667.3 L1095.0,687.5 L1095.4,686.8 L1095.7,684.0 L1096.1,698.7 L1096.5,698.8 L1096.9,700.7 L1097.3,702.8 L1097.7,695.0 L1098.0,712.3 L1098.4,688.4 L1098.8,712.6 L1099.2,704.0 L1099.6,698.3 L1100.0,718.8 L1100.4,710.4 L1100.7,706.3 L1101.1,708.2 L1101.5,696.8 L1101.9,702.2 L1102.3,728.2 L1102.7,702.5 L1103.1,714.1 L1103.4,710.4 L1103.8,730.9 L1104.2,720.2 L1104.6,712.6 L1105.0,709.9 L1105.4,710.5 L1105.7,733.6 L1106.1,711.7 L1106.5,722.9 L1106.9,720.4 L1107.3,714.6 L1107.7,732.6 L1108.1,692.7 L1108.4,692.7 L1108.8,692.7 L1109.2,738.5 L1109.6,734.4 L1110.0,749.5 L1110.4,729.0 L1110.8,725.8 L1111.1,754.9 L1111.5,734.5 L1111.9,737.9 L1112.3,764.1 L1112.7,732.4 L1113.1,750.3 L1113.4,759.4 L1113.8,769.5 L1114.2,741.9 L1114.6,759.5 L1115.0,753.8 L1115.4,766.5 L1115.8,751.6 L1116.1,760.0 L1116.5,744.8 L1116.9,750.4 L1117.3,748.3 L1117.7,765.9 L1118.1,772.8 L1118.5,741.7 L1118.8,739.4 L1119.2,750.1 L1119.6,739.5 L1120.0,747.5 L1120.4,751.0 L1120.8,758.0 L1121.1,760.3 L1121.5,755.2 L1121.9,765.3 L1122.3,718.3 L1122.7,754.5 L1123.1,772.5 L1123.5,758.6 L1123.8,762.7 L1124.2,749.4 L1124.6,742.5 L1125.0,749.9 L1125.4,748.1 L1125.8,749.9 L1126.2,763.4 L1126.5,758.9 L1126.9,741.3 L1127.3,737.2 L1127.7,766.0 L1128.1,772.4 L1128.5,736.4 L1128.8,740.4 L1129.2,750.2 L1129.6,719.0 L1130.0,719.5 L1130.4,720.1 L1130.8,765.5 L1131.2,758.5 L1131.5,750.5 L1131.9,768.5 L1132.3,750.4 L1132.7,768.2 L1133.1,752.0 L1133.5,749.2 L1133.9,764.4 L1134.2,743.7 L1134.6,758.3 L1135.0,754.6 L1135.4,783.5 L1135.8,781.1 L1136.2,759.4 L1136.5,751.6 L1136.9,764.3 L1137.3,754.3 L1137.7,787.2 L1138.1,756.3 L1138.5,757.4 L1138.9,767.7 L1139.2,776.3 L1139.6,766.9 L1140.0,785.5 L1140.4,770.8 L1140.8,771.0 L1141.2,778.0 L1141.6,789.9 L1141.9,800.8 L1142.3,794.3 L1142.7,770.8 L1143.1,795.1 L1143.5,800.7 L1143.9,794.7 L1144.2,784.8 L1144.6,782.8 L1145.0,772.4 L1145.4,774.0 L1145.8,770.3 L1146.2,774.1 L1146.6,790.9 L1146.9,753.9 L1147.3,771.5 L1147.7,799.1 L1148.1,783.8 L1148.5,797.2 L1148.9,776.1 L1149.3,799.5 L1149.6,791.2 L1150.0,799.1 L1150.4,775.0 L1150.8,784.5 L1151.2,784.6 L1151.6,797.0 L1151.9,802.8 L1152.3,777.4 L1152.7,781.3 L1153.1,782.7 L1153.5,773.2 L1153.9,790.2 L1154.3,805.1 L1154.6,789.1 L1155.0,802.0 L1155.4,794.0 L1155.8,796.6 L1156.2,793.1 L1156.6,779.6 L1157.0,783.9 L1157.3,828.3 L1157.7,828.3 L1158.1,782.5 L1158.5,786.1 L1158.9,795.0 L1159.3,782.1 L1159.6,797.8 L1160.0,812.8 L1160.4,806.7 L1160.8,792.3 L1161.2,803.1 L1161.6,801.9 L1162.0,803.2 L1162.3,811.7 L1162.7,815.9 L1163.1,818.0 L1163.5,794.7 L1163.9,808.6 L1164.3,804.4 L1164.7,787.0 L1165.0,799.3 L1165.4,792.9 L1165.8,795.1 L1166.2,788.0 L1166.6,821.9 L1167.0,810.0 L1167.3,788.7 L1167.7,807.3 L1168.1,789.1 L1168.5,818.1 L1168.9,823.0 L1169.3,791.2 L1169.7,809.5 L1170.0,805.8 L1170.4,789.5 L1170.8,816.7 L1171.2,788.0 L1171.6,809.6 L1172.0,815.2 L1172.4,815.7 L1172.7,805.1 L1173.1,807.4 L1173.5,791.9 L1173.9,824.3 L1174.3,825.1 L1174.7,821.7 L1175.0,805.1 L1175.4,799.0 L1175.8,811.1 L1176.2,806.8 L1176.6,806.4 L1177.0,846.9 L1177.4,822.9 L1177.7,795.0 L1178.1,821.0 L1178.5,798.1 L1178.9,816.1 L1179.3,826.9 L1179.7,835.8 L1180.1,827.9 L1180.4,824.1 L1180.8,819.5 L1181.2,818.9 L1181.6,814.9 L1182.0,817.5 L1182.4,834.1 L1182.7,824.7 L1183.1,798.0 L1183.5,833.5 L1183.9,806.3 L1184.3,815.9 L1184.7,806.9 L1185.1,821.0 L1185.4,819.3 L1185.8,813.3 L1186.2,798.1 L1186.6,820.1 L1187.0,829.1 L1187.4,830.7 L1187.8,798.4 L1188.1,820.1 L1188.5,827.6 L1188.9,777.3 L1189.3,777.3 L1189.7,809.4 L1190.1,826.6 L1190.4,817.1 L1190.8,822.7 L1191.2,832.2 L1191.6,796.1 L1192.0,815.5 L1192.4,827.8 L1192.8,799.0 L1193.1,795.1 L1193.5,801.6 L1193.9,823.1 L1194.3,825.5 L1194.7,813.0 L1195.1,811.0 L1195.5,800.0 L1195.8,796.7 L1196.2,799.0 L1196.6,820.8 L1197.0,811.8 L1197.4,829.7 L1197.8,814.8 L1198.1,832.1 L1198.5,830.5 L1198.9,830.2 L1199.3,823.6 L1199.7,823.5 L1200.1,808.7 L1200.5,833.1 L1200.8,832.2 L1201.2,811.8 L1201.6,811.6 L1202.0,789.3 L1202.4,810.3 L1202.8,812.6 L1203.2,817.0 L1203.5,809.9 L1203.9,835.2 L1204.3,830.3 L1204.7,810.1 L1205.1,831.3 L1205.5,818.6 L1205.8,829.2 L1206.2,823.0 L1206.6,807.9 L1207.0,814.5 L1207.4,822.9 L1207.8,829.5 L1208.2,809.3 L1208.5,815.0 L1208.9,823.4 L1209.3,807.2 L1209.7,814.0 L1210.1,803.2 L1210.5,815.6 L1210.9,807.0 L1211.2,820.6 L1211.6,814.9 L1212.0,810.4 L1212.4,839.6 L1212.8,825.3 L1213.2,820.8 L1213.5,798.0 L1213.9,798.0 L1214.3,798.0 L1214.7,810.7 L1215.1,833.1 L1215.5,830.3 L1215.9,814.2 L1216.2,834.3 L1216.6,818.8 L1217.0,835.3 L1217.4,839.3 L1217.8,842.2 L1218.2,845.3 L1218.6,837.7 L1218.9,849.0 L1219.3,824.2 L1219.7,819.3 L1220.1,853.5 L1220.5,855.7 L1220.9,858.1 L1221.2,822.9 L1221.6,856.0 L1222.0,833.0 L1222.4,847.6 L1222.8,851.8 L1223.2,850.1 L1223.6,833.3 L1223.9,859.2 L1224.3,827.1 L1224.7,838.7 L1225.1,851.9 L1225.5,853.3 L1225.9,836.4 L1226.3,837.4 L1226.6,849.3 L1227.0,848.6 L1227.4,843.5 L1227.8,826.4 L1228.2,840.8 L1228.6,829.3 L1228.9,837.1 L1229.3,840.3 L1229.7,843.1 L1230.1,836.0 L1230.5,843.4 L1230.9,834.4 L1231.3,855.2 L1231.6,849.7 L1232.0,828.4 L1232.4,846.6 L1232.8,829.2 L1233.2,825.4 L1233.6,839.2 L1234.0,857.5 L1234.3,806.9 L1234.7,835.9 L1235.1,850.3 L1235.5,828.3 L1235.9,842.7 L1236.3,858.9 L1236.6,858.4 L1237.0,852.0 L1237.4,837.3 L1237.8,829.2 L1238.2,856.5 L1238.6,859.3 L1239.0,836.2 L1239.3,844.6 L1239.7,843.4 L1240.1,829.1 L1240.5,825.4 L1240.9,823.6 L1241.3,830.8 L1241.7,860.8 L1242.0,855.3 L1242.4,876.0 L1242.8,825.0 L1243.2,858.9 L1243.6,842.7 L1244.0,847.7 L1244.3,847.7 L1244.7,853.4 L1245.1,853.9 L1245.5,855.7 L1245.9,861.5 L1246.3,844.7 L1246.7,849.3 L1247.0,839.2 L1247.4,842.3 L1247.8,830.3 L1248.2,854.0 L1248.6,833.3 L1249.0,852.6 L1249.4,842.2 L1249.7,836.9 L1250.1,852.6 L1250.5,850.9 L1250.9,843.8 L1251.3,864.0 L1251.7,848.1 L1252.0,865.2 L1252.4,860.5 L1252.8,845.4 L1253.2,832.0 L1253.6,831.1 L1254.0,859.6 L1254.4,864.2 L1254.7,850.2 L1255.1,853.6 L1255.5,856.5 L1255.9,842.1 L1256.3,844.9 L1256.7,851.0 L1257.1,849.0 L1257.4,850.8 L1257.8,847.5 L1258.2,838.2 L1258.6,837.8 L1259.0,836.8 L1259.4,841.5 L1259.7,815.4 L1260.1,815.4 L1260.5,845.0 L1260.9,864.0 L1261.3,852.4 L1261.7,873.9 L1262.1,868.6 L1262.4,861.4 L1262.8,874.2 L1263.2,860.7 L1263.6,868.2 L1264.0,844.1 L1264.4,865.0 L1264.8,862.8 L1265.1,846.8 L1265.5,856.1 L1265.9,875.7 L1266.3,869.3 L1266.7,854.3 L1267.1,870.1 L1267.4,868.2 L1267.8,853.9 L1268.2,858.9 L1268.6,867.5 L1269.0,856.3 L1269.4,853.2 L1269.8,875.9 L1270.1,866.7 L1270.5,865.3 L1270.9,843.4 L1271.3,875.1 L1271.7,863.6 L1272.1,869.6 L1272.5,850.5 L1272.8,846.1 L1273.2,875.4 L1273.6,844.7 L1274.0,851.3 L1274.4,869.8 L1274.8,843.1 L1275.1,867.2 L1275.5,828.5 L1275.9,828.5 L1276.3,861.2 L1276.7,859.5 L1277.1,844.8 L1277.5,847.5 L1277.8,858.9 L1278.2,878.3 L1278.6,864.1 L1279.0,866.4 L1279.4,842.9 L1279.8,855.2 L1280.2,865.9 L1280.5,867.5 L1280.9,851.8 L1281.3,877.5 L1281.7,849.9 L1282.1,855.6 L1282.5,864.7 L1282.8,854.3 L1283.2,866.6 L1283.6,876.7 L1284.0,866.4 L1284.4,880.6 L1284.8,879.3 L1285.2,865.6 L1285.5,850.7 L1285.9,874.5 L1286.3,863.0 L1286.7,844.6 L1287.1,850.3 L1287.5,847.3 L1287.9,856.0 L1288.2,859.4 L1288.6,859.9 L1289.0,859.5 L1289.4,864.8 L1289.8,868.9 L1290.2,873.6 L1290.5,880.1 L1290.9,868.0 L1291.3,852.3 L1291.7,860.3 L1292.1,874.9 L1292.5,831.0 L1292.9,831.0 L1293.2,845.1 L1293.6,855.9 L1294.0,859.7 L1294.4,865.3 L1294.8,849.7 L1295.2,881.4 L1295.6,881.3 L1295.9,862.0 L1296.3,870.7 L1296.7,866.8 L1297.1,861.7 L1297.5,880.9 L1297.9,845.1 L1298.2,857.2 L1298.6,880.0 L1299.0,856.1 L1299.4,864.7 L1299.8,859.7 L1300.2,858.5 L1300.6,849.6 L1300.9,884.0 L1301.3,851.1 L1301.7,871.7 L1302.1,845.4 L1302.5,845.4 L1302.9,878.2 L1303.3,858.4 L1303.6,873.3 L1304.0,891.5 L1304.4,867.0 L1304.8,875.9 L1305.2,864.1 L1305.6,894.1 L1305.9,863.0 L1306.3,862.1 L1306.7,896.2 L1307.1,878.1 L1307.5,891.6 L1307.9,875.7 L1308.3,892.2 L1308.6,861.2 L1309.0,887.8 L1309.4,868.9 L1309.8,869.1 L1310.2,881.5 L1310.6,885.0 L1311.0,857.6 L1311.3,890.9 L1311.7,882.4 L1312.1,879.5 L1312.5,869.5 L1312.9,877.8 L1313.3,887.7 L1313.6,870.0 L1314.0,864.0 L1314.4,864.8 L1314.8,873.4 L1315.2,880.7 L1315.6,892.4 L1316.0,872.6 L1316.3,869.2 L1316.7,876.7 L1317.1,857.0 L1317.5,886.4 L1317.9,850.9 L1318.3,867.3 L1318.7,860.8 L1319.0,860.2 L1319.4,887.2 L1319.8,861.2 L1320.2,881.5 L1320.6,871.3 L1321.0,861.1 L1321.3,875.2 L1321.7,876.1 L1322.1,896.1 L1322.5,876.0 L1322.9,889.8 L1323.3,884.4 L1323.7,885.1 L1324.0,862.5 L1324.4,875.9 L1324.8,872.9 L1325.2,894.5 L1325.6,889.6 L1326.0,867.6 L1326.4,896.9 L1326.7,864.7 L1327.1,884.6 L1327.5,885.7 L1327.9,880.5 L1328.3,882.8 L1328.7,881.4 L1329.0,882.8 L1329.4,871.7 L1329.8,887.9 L1330.2,891.9 L1330.6,881.5 L1331.0,894.7 L1331.4,880.6 L1331.7,878.5 L1332.1,867.1 L1332.5,892.9 L1332.9,881.4 L1333.3,866.2 L1333.7,882.9 L1334.1,863.4 L1334.4,867.8 L1334.8,893.9 L1335.2,849.9 L1335.6,849.9 L1336.0,875.6 L1336.4,870.1 L1336.7,858.1 L1337.1,870.4 L1337.5,875.5 L1337.9,864.1 L1338.3,880.0 L1338.7,896.2 L1339.1,886.0 L1339.4,873.5 L1339.8,859.6 L1340.2,872.7 L1340.6,885.4 L1341.0,858.3 L1341.4,881.5 L1341.8,888.4 L1342.1,876.2 L1342.5,884.6 L1342.9,893.9 L1343.3,871.0 L1343.7,872.2 L1344.1,861.6 L1344.4,894.1 L1344.8,864.4 L1345.2,868.8 L1345.6,889.9 L1346.0,881.3 L1346.4,875.7 L1346.8,888.1 L1347.1,896.4 L1347.5,868.7 L1347.9,894.8 L1348.3,882.3 L1348.7,884.5 L1349.1,866.5 L1349.5,879.5 L1349.8,884.6 L1350.2,863.1 L1350.6,914.9 L1351.0,872.2 L1351.4,890.9 L1351.8,870.4 L1352.1,870.3 L1352.5,867.1 L1352.9,880.2 L1353.3,890.2 L1353.7,874.2 L1354.1,863.3 L1354.5,886.2 L1354.8,897.0 L1355.2,890.5 L1355.6,861.4 L1356.0,897.1 L1356.4,895.1 L1356.8,893.5 L1357.2,863.2 L1357.5,882.8 L1357.9,871.1 L1358.3,870.7 L1358.7,881.2 L1359.1,869.9 L1359.5,880.3 L1359.8,877.3 L1360.2,886.5 L1360.6,898.3 L1361.0,875.5 L1361.4,888.0 L1361.8,887.7 L1362.2,864.5 L1362.5,884.5 L1362.9,894.4 L1363.3,874.1 L1363.7,877.4 L1364.1,839.0 L1364.5,884.3 L1364.9,873.8 L1365.2,886.3 L1365.6,858.8 L1366.0,865.8 L1366.4,877.0 L1366.8,861.0 L1367.2,894.9 L1367.5,887.6 L1367.9,861.0 L1368.3,876.7 L1368.7,889.8 L1369.1,874.5 L1369.5,868.4 L1369.9,873.4 L1370.2,895.0 L1370.6,895.5 L1371.0,881.4 L1371.4,896.8 L1371.8,894.5 L1372.2,873.3 L1372.6,881.5 L1372.9,895.3 L1373.3,865.1 L1373.7,885.0 L1374.1,865.6 L1374.5,876.7 L1374.9,876.6 L1375.2,884.5 L1375.6,855.8 L1376.0,891.8 L1376.4,891.5 L1376.8,868.1 L1377.2,894.3 L1377.6,887.5 L1377.9,873.8 L1378.3,889.9 L1378.7,888.7 L1379.1,867.9 L1379.5,895.1 L1379.9,893.7 L1380.3,868.9 L1380.6,892.6 L1381.0,890.5 L1381.4,869.2 L1381.8,890.5 L1382.2,864.1 L1382.6,870.6 L1382.9,869.3 L1383.3,893.1 L1383.7,893.2 L1384.1,872.3 L1384.5,868.9 L1384.9,891.5 L1385.3,891.8 L1385.6,890.2 L1386.0,853.3 L1386.4,853.3 L1386.8,879.2 L1387.2,874.1 L1387.6,895.9 L1388.0,890.3 L1388.3,892.9 L1388.7,886.7 L1389.1,889.8 L1389.5,861.0 L1389.9,882.7 L1390.3,891.7 L1390.6,871.4 L1391.0,859.8 L1391.4,866.8 L1391.8,872.5 L1392.2,883.1 L1392.6,882.5 L1393.0,886.6 L1393.3,867.2 L1393.7,867.3 L1394.1,879.5 L1394.5,865.2" fill="none" stroke="#515151" stroke-width="9" stroke-linejoin="round" stroke-linecap="round"/><path d="M162.5,908.7 L162.9,904.8 L163.3,915.4 L163.7,912.3 L164.0,900.8 L164.4,916.1 L164.8,914.8 L165.2,901.8 L165.6,904.3 L166.0,908.0 L166.3,900.9 L166.7,912.8 L167.1,916.3 L167.5,901.5 L167.9,904.6 L168.3,910.0 L168.7,905.6 L169.0,914.8 L169.4,910.6 L169.8,905.9 L170.2,900.9 L170.6,910.5 L171.0,915.0 L171.4,914.4 L171.7,910.4 L172.1,904.5 L172.5,903.0 L172.9,903.2 L173.3,899.8 L173.7,903.3 L174.0,903.3 L174.4,904.6 L174.8,903.2 L175.2,902.0 L175.6,897.4 L176.0,911.9 L176.4,903.3 L176.7,912.7 L177.1,911.2 L177.5,897.9 L177.9,907.4 L178.3,904.4 L178.7,911.0 L179.1,905.4 L179.4,914.1 L179.8,903.7 L180.2,896.8 L180.6,901.6 L181.0,902.0 L181.4,904.1 L181.7,908.4 L182.1,900.1 L182.5,907.1 L182.9,907.9 L183.3,903.8 L183.7,895.8 L184.1,900.0 L184.4,900.8 L184.8,910.5 L185.2,897.7 L185.6,904.5 L186.0,900.3 L186.4,901.3 L186.8,897.0 L187.1,910.8 L187.5,909.5 L187.9,905.8 L188.3,907.0 L188.7,897.7 L189.1,907.5 L189.4,907.5 L189.8,899.0 L190.2,907.1 L190.6,893.4 L191.0,901.6 L191.4,901.8 L191.8,896.2 L192.1,889.1 L192.5,901.8 L192.9,902.9 L193.3,900.3 L193.7,893.0 L194.1,890.3 L194.5,904.7 L194.8,907.0 L195.2,902.0 L195.6,901.9 L196.0,894.2 L196.4,895.9 L196.8,895.1 L197.1,902.1 L197.5,901.8 L197.9,892.6 L198.3,909.5 L198.7,910.4 L199.1,910.9 L199.5,896.4 L199.8,902.2 L200.2,899.0 L200.6,899.7 L201.0,896.6 L201.4,901.6 L201.8,905.2 L202.2,909.1 L202.5,903.5 L202.9,907.3 L203.3,893.5 L203.7,896.3 L204.1,904.8 L204.5,900.3 L204.8,900.7 L205.2,897.9 L205.6,891.1 L206.0,903.1 L206.4,896.4 L206.8,897.9 L207.2,889.0 L207.5,902.2 L207.9,893.9 L208.3,904.1 L208.7,895.6 L209.1,887.8 L209.5,892.0 L209.9,904.4 L210.2,886.4 L210.6,894.5 L211.0,893.5 L211.4,886.7 L211.8,893.2 L212.2,899.8 L212.5,895.8 L212.9,889.7 L213.3,896.2 L213.7,900.5 L214.1,896.5 L214.5,901.9 L214.9,902.2 L215.2,901.8 L215.6,894.7 L216.0,898.0 L216.4,900.5 L216.8,889.9 L217.2,892.2 L217.6,888.4 L217.9,900.7 L218.3,892.1 L218.7,898.7 L219.1,894.3 L219.5,895.2 L219.9,892.7 L220.2,893.2 L220.6,886.9 L221.0,892.6 L221.4,897.7 L221.8,889.4 L222.2,901.0 L222.6,889.4 L222.9,893.1 L223.3,898.9 L223.7,889.8 L224.1,901.7 L224.5,903.3 L224.9,899.1 L225.3,894.8 L225.6,892.5 L226.0,898.5 L226.4,893.8 L226.8,886.5 L227.2,886.3 L227.6,891.4 L227.9,899.0 L228.3,895.6 L228.7,889.2 L229.1,887.6 L229.5,886.5 L229.9,897.0 L230.3,898.1 L230.6,898.3 L231.0,890.1 L231.4,887.0 L231.8,894.3 L232.2,896.6 L232.6,892.4 L233.0,897.0 L233.3,894.0 L233.7,900.9 L234.1,902.2 L234.5,896.2 L234.9,898.5 L235.3,900.4 L235.6,885.1 L236.0,889.9 L236.4,895.4 L236.8,883.9 L237.2,900.0 L237.6,895.1 L238.0,884.7 L238.3,882.7 L238.7,885.6 L239.1,896.6 L239.5,889.2 L239.9,898.1 L240.3,898.0 L240.7,882.8 L241.0,898.6 L241.4,896.8 L241.8,896.6 L242.2,885.5 L242.6,887.0 L243.0,894.9 L243.3,891.5 L243.7,881.6 L244.1,895.5 L244.5,898.3 L244.9,887.8 L245.3,898.2 L245.7,890.1 L246.0,896.1 L246.4,900.4 L246.8,889.1 L247.2,887.6 L247.6,895.9 L248.0,899.2 L248.4,884.4 L248.7,898.2 L249.1,898.4 L249.5,896.3 L249.9,898.9 L250.3,899.0 L250.7,886.4 L251.0,902.1 L251.4,888.2 L251.8,893.9 L252.2,903.3 L252.6,901.2 L253.0,891.9 L253.4,893.5 L253.7,899.3 L254.1,898.3 L254.5,886.4 L254.9,889.8 L255.3,891.1 L255.7,886.1 L256.1,898.8 L256.4,896.9 L256.8,887.4 L257.2,894.6 L257.6,894.4 L258.0,887.5 L258.4,884.0 L258.7,885.9 L259.1,888.0 L259.5,893.8 L259.9,888.8 L260.3,897.5 L260.7,896.9 L261.1,897.8 L261.4,888.9 L261.8,884.0 L262.2,887.6 L262.6,896.8 L263.0,889.4 L263.4,895.0 L263.8,886.0 L264.1,892.2 L264.5,896.5 L264.9,895.6 L265.3,899.2 L265.7,893.9 L266.1,894.2 L266.4,892.0 L266.8,888.2 L267.2,883.2 L267.6,885.2 L268.0,889.8 L268.4,893.8 L268.8,897.4 L269.1,889.6 L269.5,899.5 L269.9,899.7 L270.3,888.9 L270.7,897.9 L271.1,885.4 L271.5,888.8 L271.8,891.7 L272.2,884.2 L272.6,899.4 L273.0,896.5 L273.4,893.0 L273.8,884.6 L274.1,901.1 L274.5,891.5 L274.9,885.6 L275.3,899.9 L275.7,889.4 L276.1,889.5 L276.5,895.4 L276.8,892.0 L277.2,884.3 L277.6,892.8 L278.0,892.7 L278.4,890.6 L278.8,900.4 L279.2,886.0 L279.5,900.1 L279.9,882.7 L280.3,882.6 L280.7,885.0 L281.1,883.4 L281.5,888.6 L281.8,894.3 L282.2,888.7 L282.6,887.3 L283.0,897.4 L283.4,885.8 L283.8,894.7 L284.2,891.0 L284.5,895.6 L284.9,895.4 L285.3,884.4 L285.7,886.5 L286.1,899.4 L286.5,886.0 L286.9,882.7 L287.2,886.5 L287.6,886.5 L288.0,894.2 L288.4,885.9 L288.8,891.6 L289.2,881.1 L289.5,885.0 L289.9,891.8 L290.3,881.1 L290.7,882.9 L291.1,893.3 L291.5,893.0 L291.9,896.6 L292.2,882.5 L292.6,895.1 L293.0,891.6 L293.4,883.2 L293.8,891.4 L294.2,892.0 L294.6,896.3 L294.9,896.9 L295.3,887.6 L295.7,896.3 L296.1,881.5 L296.5,899.5 L296.9,894.5 L297.2,897.4 L297.6,884.6 L298.0,887.8 L298.4,900.0 L298.8,901.3 L299.2,901.1 L299.6,889.2 L299.9,889.2 L300.3,891.5 L300.7,894.2 L301.1,894.6 L301.5,892.4 L301.9,901.5 L302.3,888.8 L302.6,889.2 L303.0,890.9 L303.4,898.8 L303.8,898.9 L304.2,884.4 L304.6,884.9 L304.9,888.4 L305.3,887.4 L305.7,893.3 L306.1,885.2 L306.5,888.5 L306.9,892.9 L307.3,888.1 L307.6,899.1 L308.0,893.2 L308.4,884.8 L308.8,891.5 L309.2,890.0 L309.6,889.9 L310.0,882.7 L310.3,896.5 L310.7,887.6 L311.1,892.0 L311.5,896.1 L311.9,899.7 L312.3,889.3 L312.6,897.3 L313.0,890.0 L313.4,892.9 L313.8,893.6 L314.2,884.8 L314.6,900.0 L315.0,891.4 L315.3,894.4 L315.7,899.5 L316.1,895.2 L316.5,886.6 L316.9,899.1 L317.3,890.1 L317.7,897.8 L318.0,893.1 L318.4,892.6 L318.8,901.5 L319.2,887.8 L319.6,895.7 L320.0,898.6 L320.3,898.5 L320.7,883.9 L321.1,884.5 L321.5,893.0 L321.9,896.4 L322.3,887.6 L322.7,899.2 L323.0,883.5 L323.4,898.6 L323.8,897.0 L324.2,891.0 L324.6,888.1 L325.0,896.0 L325.4,890.2 L325.7,876.8 L326.1,880.1 L326.5,892.9 L326.9,877.1 L327.3,884.3 L327.7,874.3 L328.0,886.4 L328.4,886.0 L328.8,878.8 L329.2,882.0 L329.6,885.7 L330.0,881.0 L330.4,878.9 L330.7,885.1 L331.1,875.6 L331.5,877.1 L331.9,877.1 L332.3,878.8 L332.7,886.9 L333.1,877.9 L333.4,887.7 L333.8,888.4 L334.2,881.5 L334.6,887.8 L335.0,888.6 L335.4,879.9 L335.7,872.7 L336.1,890.1 L336.5,882.9 L336.9,889.8 L337.3,881.7 L337.7,881.3 L338.1,883.2 L338.4,891.9 L338.8,879.6 L339.2,883.4 L339.6,882.3 L340.0,880.5 L340.4,876.0 L340.8,884.8 L341.1,875.9 L341.5,889.6 L341.9,884.5 L342.3,889.5 L342.7,885.6 L343.1,875.3 L343.4,873.6 L343.8,882.6 L344.2,885.9 L344.6,884.4 L345.0,872.7 L345.4,880.7 L345.8,884.4 L346.1,871.6 L346.5,877.1 L346.9,878.1 L347.3,868.7 L347.7,871.3 L348.1,884.7 L348.5,866.6 L348.8,876.1 L349.2,881.1 L349.6,867.2 L350.0,876.4 L350.4,871.6 L350.8,870.5 L351.1,881.3 L351.5,866.7 L351.9,875.0 L352.3,884.8 L352.7,876.2 L353.1,886.3 L353.5,868.4 L353.8,874.6 L354.2,880.3 L354.6,872.5 L355.0,872.8 L355.4,874.7 L355.8,883.6 L356.2,886.2 L356.5,871.6 L356.9,870.5 L357.3,880.3 L357.7,879.1 L358.1,878.1 L358.5,879.8 L358.8,866.5 L359.2,873.5 L359.6,869.4 L360.0,870.8 L360.4,879.9 L360.8,879.8 L361.2,877.9 L361.5,870.9 L361.9,867.8 L362.3,860.2 L362.7,861.3 L363.1,863.7 L363.5,869.8 L363.9,869.9 L364.2,862.7 L364.6,869.2 L365.0,861.0 L365.4,861.5 L365.8,872.9 L366.2,859.8 L366.5,873.2 L366.9,868.8 L367.3,856.1 L367.7,862.0 L368.1,857.9 L368.5,856.2 L368.9,868.5 L369.2,858.1 L369.6,865.8 L370.0,871.5 L370.4,870.4 L370.8,869.8 L371.2,859.9 L371.6,859.5 L371.9,855.4 L372.3,865.5 L372.7,856.2 L373.1,865.4 L373.5,864.2 L373.9,857.3 L374.2,862.1 L374.6,850.2 L375.0,863.0 L375.4,864.2 L375.8,851.5 L376.2,851.3 L376.6,864.7 L376.9,861.0 L377.3,857.5 L377.7,865.8 L378.1,860.0 L378.5,852.1 L378.9,852.1 L379.3,863.9 L379.6,860.6 L380.0,861.2 L380.4,853.0 L380.8,863.4 L381.2,846.8 L381.6,863.2 L381.9,854.9 L382.3,851.2 L382.7,846.1 L383.1,852.2 L383.5,847.4 L383.9,853.2 L384.3,858.7 L384.6,854.3 L385.0,850.3 L385.4,851.3 L385.8,845.9 L386.2,850.0 L386.6,852.4 L387.0,849.2 L387.3,848.8 L387.7,858.0 L388.1,851.3 L388.5,846.0 L388.9,842.7 L389.3,847.9 L389.6,841.4 L390.0,845.8 L390.4,848.0 L390.8,850.2 L391.2,839.2 L391.6,836.7 L392.0,840.4 L392.3,850.2 L392.7,840.6 L393.1,844.3 L393.5,836.1 L393.9,853.9 L394.3,838.9 L394.7,844.9 L395.0,837.2 L395.4,842.3 L395.8,854.1 L396.2,840.9 L396.6,844.0 L397.0,849.7 L397.3,851.7 L397.7,846.2 L398.1,843.0 L398.5,844.4 L398.9,853.2 L399.3,850.4 L399.7,839.7 L400.0,842.1 L400.4,838.1 L400.8,844.4 L401.2,847.2 L401.6,836.4 L402.0,847.5 L402.4,850.2 L402.7,843.7 L403.1,841.6 L403.5,845.6 L403.9,830.5 L404.3,844.2 L404.7,845.8 L405.0,834.9 L405.4,844.6 L405.8,841.2 L406.2,838.0 L406.6,840.1 L407.0,832.1 L407.4,841.7 L407.7,831.1 L408.1,840.8 L408.5,830.9 L408.9,822.4 L409.3,825.5 L409.7,821.9 L410.1,829.3 L410.4,836.5 L410.8,831.9 L411.2,823.7 L411.6,835.8 L412.0,824.9 L412.4,831.1 L412.7,819.0 L413.1,829.7 L413.5,830.0 L413.9,830.8 L414.3,825.3 L414.7,816.8 L415.1,824.6 L415.4,820.4 L415.8,824.5 L416.2,833.2 L416.6,823.2 L417.0,823.0 L417.4,822.7 L417.8,828.4 L418.1,828.9 L418.5,827.6 L418.9,833.4 L419.3,830.8 L419.7,828.3 L420.1,823.7 L420.4,815.7 L420.8,819.8 L421.2,823.4 L421.6,819.2 L422.0,824.4 L422.4,832.2 L422.8,819.3 L423.1,818.8 L423.5,819.5 L423.9,815.2 L424.3,816.1 L424.7,814.6 L425.1,829.6 L425.5,810.0 L425.8,817.4 L426.2,816.5 L426.6,815.4 L427.0,821.5 L427.4,820.2 L427.8,808.2 L428.1,813.1 L428.5,805.2 L428.9,819.4 L429.3,811.2 L429.7,810.2 L430.1,820.8 L430.5,808.4 L430.8,812.6 L431.2,811.0 L431.6,815.3 L432.0,806.6 L432.4,804.6 L432.8,799.9 L433.2,800.7 L433.5,797.7 L433.9,797.5 L434.3,802.8 L434.7,810.9 L435.1,805.1 L435.5,813.7 L435.8,803.6 L436.2,808.4 L436.6,803.3 L437.0,798.5 L437.4,811.9 L437.8,795.1 L438.2,811.7 L438.5,802.3 L438.9,807.6 L439.3,811.1 L439.7,802.0 L440.1,806.2 L440.5,809.5 L440.9,794.0 L441.2,805.3 L441.6,791.1 L442.0,797.5 L442.4,802.4 L442.8,808.2 L443.2,792.1 L443.5,807.2 L443.9,793.7 L444.3,798.7 L444.7,800.2 L445.1,807.7 L445.5,800.5 L445.9,808.3 L446.2,792.6 L446.6,793.1 L447.0,804.1 L447.4,795.8 L447.8,801.9 L448.2,790.4 L448.6,800.4 L448.9,800.0 L449.3,796.9 L449.7,782.1 L450.1,784.4 L450.5,792.0 L450.9,783.1 L451.2,791.0 L451.6,793.5 L452.0,778.1 L452.4,794.8 L452.8,778.5 L453.2,774.3 L453.6,791.4 L453.9,774.8 L454.3,775.9 L454.7,790.4 L455.1,781.7 L455.5,785.0 L455.9,782.1 L456.3,781.7 L456.6,781.3 L457.0,789.2 L457.4,783.7 L457.8,783.1 L458.2,775.6 L458.6,774.6 L458.9,773.4 L459.3,775.7 L459.7,770.4 L460.1,777.3 L460.5,782.3 L460.9,788.0 L461.3,773.9 L461.6,777.3 L462.0,785.5 L462.4,778.1 L462.8,769.0 L463.2,775.9 L463.6,781.8 L464.0,771.3 L464.3,779.4 L464.7,786.4 L465.1,784.3 L465.5,765.3 L465.9,782.5 L466.3,767.3 L466.6,782.1 L467.0,773.0 L467.4,775.0 L467.8,772.7 L468.2,776.9 L468.6,769.2 L469.0,760.7 L469.3,764.6 L469.7,771.8 L470.1,756.7 L470.5,754.2 L470.9,761.8 L471.3,762.7 L471.7,768.7 L472.0,766.5 L472.4,759.1 L472.8,763.7 L473.2,744.7 L473.6,750.5 L474.0,756.5 L474.3,749.9 L474.7,757.8 L475.1,741.0 L475.5,749.0 L475.9,744.0 L476.3,754.0 L476.7,746.8 L477.0,740.7 L477.4,746.5 L477.8,752.3 L478.2,742.7 L478.6,734.1 L479.0,740.9 L479.4,729.1 L479.7,737.2 L480.1,729.6 L480.5,747.0 L480.9,733.4 L481.3,735.3 L481.7,737.8 L482.0,725.3 L482.4,741.8 L482.8,732.5 L483.2,735.4 L483.6,720.7 L484.0,723.7 L484.4,735.5 L484.7,736.6 L485.1,738.4 L485.5,734.7 L485.9,718.3 L486.3,719.1 L486.7,720.2 L487.1,728.4 L487.4,726.1 L487.8,723.5 L488.2,717.8 L488.6,734.5 L489.0,730.1 L489.4,720.8 L489.7,729.7 L490.1,712.0 L490.5,730.9 L490.9,710.2 L491.3,725.9 L491.7,725.8 L492.1,720.2 L492.4,714.9 L492.8,706.9 L493.2,717.0 L493.6,707.0 L494.0,706.4 L494.4,703.5 L494.8,716.3 L495.1,713.2 L495.5,722.5 L495.9,714.0 L496.3,714.1 L496.7,718.5 L497.1,702.5 L497.4,714.1 L497.8,716.7 L498.2,716.6 L498.6,718.3 L499.0,702.3 L499.4,707.0 L499.8,706.9 L500.1,709.0 L500.5,696.5 L500.9,709.0 L501.3,706.6 L501.7,701.6 L502.1,696.1 L502.5,697.2 L502.8,696.3 L503.2,711.3 L503.6,694.3 L504.0,696.6 L504.4,707.2 L504.8,696.5 L505.1,692.9 L505.5,697.2 L505.9,696.7 L506.3,693.6 L506.7,691.7 L507.1,692.9 L507.5,707.5 L507.8,703.8 L508.2,705.0 L508.6,696.5 L509.0,704.6 L509.4,693.1 L509.8,684.1 L510.2,682.2 L510.5,702.4 L510.9,687.2 L511.3,698.2 L511.7,681.3 L512.1,698.9 L512.5,696.2 L512.8,690.1 L513.2,696.0 L513.6,680.4 L514.0,689.9 L514.4,677.8 L514.8,671.8 L515.2,681.6 L515.5,680.5 L515.9,667.7 L516.3,682.1 L516.7,668.3 L517.1,671.1 L517.5,685.9 L517.9,678.4 L518.2,667.9 L518.6,682.2 L519.0,663.1 L519.4,660.8 L519.8,663.2 L520.2,661.2 L520.5,665.3 L520.9,659.9 L521.3,666.9 L521.7,667.4 L522.1,660.1 L522.5,665.0 L522.9,668.1 L523.2,669.0 L523.6,664.7 L524.0,665.5 L524.4,656.7 L524.8,655.7 L525.2,654.8 L525.6,653.4 L525.9,664.0 L526.3,663.5 L526.7,652.6 L527.1,667.5 L527.5,655.4 L527.9,659.3 L528.2,655.9 L528.6,654.9 L529.0,655.3 L529.4,664.9 L529.8,669.5 L530.2,647.9 L530.6,648.9 L530.9,657.4 L531.3,653.4 L531.7,666.1 L532.1,657.2 L532.5,653.7 L532.9,650.8 L533.3,661.3 L533.6,663.5 L534.0,643.0 L534.4,645.0 L534.8,659.6 L535.2,644.2 L535.6,643.7 L535.9,657.4 L536.3,642.5 L536.7,651.5 L537.1,651.9 L537.5,654.9 L537.9,643.9 L538.3,642.3 L538.6,643.7 L539.0,652.4 L539.4,635.5 L539.8,645.9 L540.2,646.6 L540.6,637.2 L541.0,647.2 L541.3,629.9 L541.7,635.5 L542.1,631.7 L542.5,641.6 L542.9,639.0 L543.3,642.4 L543.6,641.7 L544.0,637.1 L544.4,627.6 L544.8,633.5 L545.2,625.2 L545.6,641.6 L546.0,636.8 L546.3,642.0 L546.7,620.6 L547.1,639.5 L547.5,627.2 L547.9,623.1 L548.3,633.1 L548.7,614.0 L549.0,613.0 L549.4,629.4 L549.8,630.6 L550.2,617.3 L550.6,619.2 L551.0,616.1 L551.3,614.8 L551.7,606.0 L552.1,609.6 L552.5,619.5 L552.9,608.2 L553.3,614.1 L553.7,600.7 L554.0,611.6 L554.4,621.9 L554.8,599.6 L555.2,613.9 L555.6,600.0 L556.0,603.9 L556.4,599.4 L556.7,598.3 L557.1,593.0 L557.5,593.6 L557.9,597.1 L558.3,603.7 L558.7,598.6 L559.0,602.7 L559.4,600.1 L559.8,596.0 L560.2,595.9 L560.6,598.1 L561.0,597.0 L561.4,596.1 L561.7,598.2 L562.1,588.0 L562.5,599.2 L562.9,594.8 L563.3,596.4 L563.7,583.1 L564.1,593.1 L564.4,597.1 L564.8,579.4 L565.2,588.4 L565.6,579.2 L566.0,590.7 L566.4,589.9 L566.7,584.3 L567.1,595.7 L567.5,573.2 L567.9,593.0 L568.3,573.4 L568.7,578.9 L569.1,575.5 L569.4,588.1 L569.8,570.5 L570.2,578.0 L570.6,580.0 L571.0,584.1 L571.4,583.4 L571.8,565.6 L572.1,561.9 L572.5,574.3 L572.9,565.6 L573.3,565.0 L573.7,568.6 L574.1,567.6 L574.4,564.7 L574.8,568.7 L575.2,557.9 L575.6,564.8 L576.0,561.5 L576.4,568.1 L576.8,547.4 L577.1,568.3 L577.5,551.4 L577.9,551.4 L578.3,557.9 L578.7,541.1 L579.1,563.1 L579.5,555.8 L579.8,552.9 L580.2,544.1 L580.6,544.2 L581.0,540.3 L581.4,535.7 L581.8,555.7 L582.1,541.3 L582.5,544.3 L582.9,536.2 L583.3,539.3 L583.7,542.9 L584.1,550.8 L584.5,542.3 L584.8,538.4 L585.2,540.5 L585.6,539.0 L586.0,531.6 L586.4,539.0 L586.8,525.5 L587.2,537.3 L587.5,534.8 L587.9,534.2 L588.3,521.6 L588.7,528.0 L589.1,517.6 L589.5,540.5 L589.8,515.0 L590.2,532.9 L590.6,513.5 L591.0,533.7 L591.4,511.5 L591.8,515.5 L592.2,512.5 L592.5,518.4 L592.9,516.9 L593.3,521.2 L593.7,520.0 L594.1,506.0 L594.5,511.4 L594.9,517.5 L595.2,512.2 L595.6,510.3 L596.0,507.9 L596.4,499.7 L596.8,486.8 L597.2,494.1 L597.5,489.0 L597.9,504.3 L598.3,488.3 L598.7,483.1 L599.1,479.0 L599.5,485.5 L599.9,487.2 L600.2,477.0 L600.6,497.7 L601.0,479.7 L601.4,480.9 L601.8,480.0 L602.2,488.8 L602.6,495.6 L602.9,493.5 L603.3,479.2 L603.7,488.1 L604.1,471.0 L604.5,491.7 L604.9,472.8 L605.2,480.5 L605.6,484.3 L606.0,484.3 L606.4,480.5 L606.8,478.9 L607.2,481.6 L607.6,481.0 L607.9,460.5 L608.3,473.6 L608.7,467.0 L609.1,463.7 L609.5,472.1 L609.9,455.0 L610.3,470.6 L610.6,471.8 L611.0,474.1 L611.4,466.7 L611.8,470.5 L612.2,454.0 L612.6,454.0 L612.9,467.2 L613.3,441.2 L613.7,445.6 L614.1,449.0 L614.5,437.0 L614.9,446.2 L615.3,453.6 L615.6,435.7 L616.0,429.3 L616.4,451.4 L616.8,437.6 L617.2,443.3 L617.6,423.3 L618.0,442.9 L618.3,422.1 L618.7,436.6 L619.1,423.4 L619.5,420.5 L619.9,417.0 L620.3,434.3 L620.6,421.2 L621.0,429.2 L621.4,427.6 L621.8,425.2 L622.2,424.4 L622.6,402.4 L623.0,411.8 L623.3,419.5 L623.7,412.6 L624.1,423.7 L624.5,418.9 L624.9,407.4 L625.3,405.3 L625.7,407.4 L626.0,397.2 L626.4,397.2 L626.8,401.0 L627.2,410.7 L627.6,402.8 L628.0,416.7 L628.3,399.9 L628.7,416.8 L629.1,396.4 L629.5,422.8 L629.9,401.2 L630.3,408.6 L630.7,399.3 L631.0,406.6 L631.4,397.5 L631.8,400.2 L632.2,401.3 L632.6,392.0 L633.0,414.1 L633.4,390.8 L633.7,400.9 L634.1,394.6 L634.5,394.6 L634.9,401.1 L635.3,396.2 L635.7,382.5 L636.0,394.4 L636.4,381.3 L636.8,405.0 L637.2,388.1 L637.6,383.6 L638.0,390.8 L638.4,398.4 L638.7,377.9 L639.1,378.0 L639.5,387.4 L639.9,394.3 L640.3,372.7 L640.7,373.4 L641.1,371.0 L641.4,370.6 L641.8,385.2 L642.2,374.5 L642.6,378.1 L643.0,379.5 L643.4,378.4 L643.7,371.0 L644.1,361.8 L644.5,376.3 L644.9,379.2 L645.3,371.7 L645.7,370.9 L646.1,376.4 L646.4,368.7 L646.8,367.5 L647.2,364.1 L647.6,379.4 L648.0,364.8 L648.4,370.4 L648.8,356.3 L649.1,362.8 L649.5,356.2 L649.9,355.1 L650.3,370.8 L650.7,373.4 L651.1,353.0 L651.4,371.2 L651.8,344.2 L652.2,349.6 L652.6,355.4 L653.0,347.0 L653.4,361.0 L653.8,345.7 L654.1,336.9 L654.5,362.2 L654.9,334.9 L655.3,351.8 L655.7,349.0 L656.1,333.1 L656.5,336.7 L656.8,347.7 L657.2,330.5 L657.6,356.9 L658.0,338.8 L658.4,342.8 L658.8,331.6 L659.1,356.1 L659.5,347.3 L659.9,342.7 L660.3,354.0 L660.7,337.2 L661.1,331.0 L661.5,328.8 L661.8,350.1 L662.2,339.3 L662.6,325.1 L663.0,351.0 L663.4,332.3 L663.8,343.7 L664.2,325.3 L664.5,333.3 L664.9,324.3 L665.3,347.9 L665.7,331.1 L666.1,335.7 L666.5,344.2 L666.8,334.8 L667.2,324.6 L667.6,328.6 L668.0,327.5 L668.4,336.1 L668.8,328.8 L669.2,329.9 L669.5,315.9 L669.9,316.0 L670.3,327.7 L670.7,324.7 L671.1,329.6 L671.5,320.6 L671.9,331.9 L672.2,306.4 L672.6,321.2 L673.0,332.0 L673.4,322.5 L673.8,302.1 L674.2,319.2 L674.5,315.4 L674.9,296.8 L675.3,300.7 L675.7,311.6 L676.1,315.8 L676.5,307.5 L676.9,306.4 L677.2,289.4 L677.6,298.1 L678.0,285.5 L678.4,282.2 L678.8,284.1 L679.2,296.3 L679.6,295.5 L679.9,289.6 L680.3,284.4 L680.7,278.1 L681.1,277.9 L681.5,291.7 L681.9,278.2 L682.2,287.9 L682.6,275.3 L683.0,297.0 L683.4,271.6 L683.8,275.3 L684.2,291.2 L684.6,287.8 L684.9,285.7 L685.3,279.2 L685.7,267.0 L686.1,264.6 L686.5,275.1 L686.9,289.2 L687.3,263.3 L687.6,263.4 L688.0,288.9 L688.4,271.3 L688.8,270.8 L689.2,270.3 L689.6,267.8 L689.9,288.6 L690.3,279.0 L690.7,277.4 L691.1,267.3 L691.5,282.9 L691.9,276.3 L692.3,278.0 L692.6,280.6 L693.0,267.1 L693.4,274.3 L693.8,265.0 L694.2,272.2 L694.6,253.5 L695.0,272.7 L695.3,251.8 L695.7,254.0 L696.1,267.9 L696.5,260.2 L696.9,259.3 L697.3,256.0 L697.6,248.4 L698.0,267.1 L698.4,261.3 L698.8,244.1 L699.2,261.4 L699.6,238.1 L700.0,251.7 L700.3,260.7 L700.7,237.0 L701.1,251.7 L701.5,227.6 L701.9,228.8 L702.3,228.9 L702.7,227.8 L703.0,251.4 L703.4,251.8 L703.8,239.6 L704.2,238.0 L704.6,237.5 L705.0,231.1 L705.3,224.7 L705.7,224.3 L706.1,219.7 L706.5,227.1 L706.9,220.6 L707.3,243.7 L707.7,245.4 L708.0,232.5 L708.4,219.7 L708.8,235.0 L709.2,243.7 L709.6,243.5 L710.0,240.6 L710.4,221.7 L710.7,238.0 L711.1,222.3 L711.5,219.8 L711.9,224.8 L712.3,220.2 L712.7,240.3 L713.0,241.9 L713.4,240.1 L713.8,246.6 L714.2,218.6 L714.6,240.6 L715.0,227.8 L715.4,238.2 L715.7,230.0 L716.1,232.8 L716.5,223.8 L716.9,239.4 L717.3,236.3 L717.7,240.8 L718.1,234.9 L718.4,219.2 L718.8,215.3 L719.2,244.6 L719.6,219.6 L720.0,223.5 L720.4,244.0 L720.7,242.0 L721.1,221.0 L721.5,241.7 L721.9,219.9 L722.3,231.1 L722.7,217.3 L723.1,231.9 L723.4,243.4 L723.8,228.9 L724.2,233.6 L724.6,244.6 L725.0,221.0 L725.4,217.3 L725.8,214.1 L726.1,222.5 L726.5,222.6 L726.9,232.3 L727.3,206.4 L727.7,211.0 L728.1,210.7 L728.4,207.5 L728.8,200.5 L729.2,213.5 L729.6,218.6 L730.0,189.3 L730.4,216.7 L730.8,207.0 L731.1,197.7 L731.5,209.3 L731.9,198.8 L732.3,179.5 L732.7,185.5 L733.1,185.5 L733.5,201.9 L733.8,188.3 L734.2,197.4 L734.6,189.0 L735.0,189.1 L735.4,188.2 L735.8,191.9 L736.1,178.0 L736.5,188.3 L736.9,174.8 L737.3,192.4 L737.7,199.0 L738.1,192.8 L738.5,177.4 L738.8,193.9 L739.2,179.9 L739.6,184.4 L740.0,198.6 L740.4,201.1 L740.8,203.8 L741.2,193.4 L741.5,185.8 L741.9,197.8 L742.3,176.7 L742.7,205.7 L743.1,181.2 L743.5,199.7 L743.8,173.3 L744.2,201.0 L744.6,175.0 L745.0,191.4 L745.4,194.8 L745.8,202.5 L746.2,196.6 L746.5,191.4 L746.9,174.3 L747.3,173.1 L747.7,200.4 L748.1,184.9 L748.5,201.1 L748.9,198.6 L749.2,182.4 L749.6,185.6 L750.0,174.0 L750.4,173.7 L750.8,196.9 L751.2,181.9 L751.5,176.2 L751.9,176.9 L752.3,182.9 L752.7,184.0 L753.1,181.6 L753.5,186.1 L753.9,181.0 L754.2,170.2 L754.6,186.8 L755.0,183.6 L755.4,183.7 L755.8,170.0 L756.2,189.5 L756.6,183.4 L756.9,173.5 L757.3,184.3 L757.7,169.7 L758.1,179.8 L758.5,193.9 L758.9,185.6 L759.2,192.7 L759.6,183.6 L760.0,186.1 L760.4,187.0 L760.8,171.3 L761.2,168.9 L761.6,172.9 L761.9,172.4 L762.3,168.0 L762.7,166.7 L763.1,189.6 L763.5,166.5 L763.9,189.2 L764.3,184.8 L764.6,167.6 L765.0,187.5 L765.4,160.4 L765.8,160.0 L766.2,187.9 L766.6,166.5 L766.9,156.1 L767.3,167.2 L767.7,166.4 L768.1,164.0 L768.5,164.4 L768.9,162.8 L769.3,158.9 L769.6,149.2 L770.0,176.0 L770.4,170.3 L770.8,176.7 L771.2,173.8 L771.6,168.8 L772.0,145.9 L772.3,163.9 L772.7,154.0 L773.1,162.7 L773.5,141.3 L773.9,166.6 L774.3,159.9 L774.6,160.3 L775.0,164.6 L775.4,168.4 L775.8,157.5 L776.2,163.0 L776.6,168.1 L777.0,140.2 L777.3,157.3 L777.7,167.5 L778.1,147.9 L778.5,151.8 L778.9,144.7 L779.3,154.7 L779.7,161.5 L780.0,145.5 L780.4,153.3 L780.8,138.0 L781.2,155.2 L781.6,158.5 L782.0,159.8 L782.3,157.8 L782.7,158.7 L783.1,149.9 L783.5,155.2 L783.9,136.3 L784.3,161.0 L784.7,137.9 L785.0,157.8 L785.4,153.9 L785.8,139.7 L786.2,146.6 L786.6,142.3 L787.0,156.5 L787.4,164.2 L787.7,153.3 L788.1,153.2 L788.5,173.9 L788.9,172.2 L789.3,145.5 L789.7,152.7 L790.0,149.6 L790.4,170.0 L790.8,145.2 L791.2,166.6 L791.6,171.8 L792.0,164.8 L792.4,165.0 L792.7,174.0 L793.1,148.4 L793.5,147.3 L793.9,168.3 L794.3,156.8 L794.7,146.3 L795.1,161.7 L795.4,157.4 L795.8,166.2 L796.2,159.4 L796.6,164.7 L797.0,148.9 L797.4,170.6 L797.7,175.1 L798.1,147.5 L798.5,170.9 L798.9,159.0 L799.3,154.0 L799.7,166.3 L800.1,147.2 L800.4,166.4 L800.8,170.9 L801.2,174.8 L801.6,147.8 L802.0,169.0 L802.4,146.8 L802.8,160.6 L803.1,144.9 L803.5,171.0 L803.9,145.5 L804.3,140.4 L804.7,147.6 L805.1,164.8 L805.4,135.9 L805.8,141.0 L806.2,158.9 L806.6,133.8 L807.0,161.1 L807.4,158.8 L807.8,161.5 L808.1,142.0 L808.5,147.2 L808.9,156.7 L809.3,143.0 L809.7,130.2 L810.1,154.9 L810.5,136.8 L810.8,151.4 L811.2,140.3 L811.6,145.5 L812.0,147.7 L812.4,156.4 L812.8,138.7 L813.1,143.4 L813.5,135.8 L813.9,152.2 L814.3,126.8 L814.7,158.1 L815.1,152.7 L815.5,138.7 L815.8,155.4 L816.2,151.8 L816.6,144.6 L817.0,137.0 L817.4,134.0 L817.8,152.0 L818.2,141.9 L818.5,162.9 L818.9,136.1 L819.3,143.9 L819.7,137.4 L820.1,160.7 L820.5,153.4 L820.8,147.7 L821.2,173.3 L821.6,150.2 L822.0,157.6 L822.4,158.2 L822.8,181.5 L823.2,165.6 L823.5,175.4 L823.9,191.7 L824.3,194.8 L824.7,174.3 L825.1,191.1 L825.5,197.2 L825.9,196.0 L826.2,187.6 L826.6,206.3 L827.0,207.0 L827.4,193.1 L827.8,186.8 L828.2,194.8 L828.5,187.1 L828.9,208.5 L829.3,206.9 L829.7,206.7 L830.1,207.3 L830.5,210.1 L830.9,193.5 L831.2,209.2 L831.6,204.2 L832.0,202.0 L832.4,185.4 L832.8,205.9 L833.2,194.6 L833.6,205.8 L833.9,191.4 L834.3,204.4 L834.7,216.0 L835.1,200.7 L835.5,206.6 L835.9,209.4 L836.2,209.3 L836.6,219.0 L837.0,197.3 L837.4,203.8 L837.8,201.9 L838.2,204.6 L838.6,211.4 L838.9,209.9 L839.3,210.4 L839.7,197.6 L840.1,215.8 L840.5,222.5 L840.9,225.0 L841.3,217.7 L841.6,210.5 L842.0,210.3 L842.4,205.8 L842.8,208.0 L843.2,225.8 L843.6,216.1 L843.9,216.4 L844.3,223.9 L844.7,208.5 L845.1,202.4 L845.5,224.4 L845.9,208.8 L846.3,220.6 L846.6,199.5 L847.0,205.4 L847.4,220.0 L847.8,205.5 L848.2,213.5 L848.6,214.3 L849.0,199.8 L849.3,207.9 L849.7,191.9 L850.1,192.5 L850.5,194.3 L850.9,207.8 L851.3,192.6 L851.6,218.1 L852.0,196.6 L852.4,209.7 L852.8,194.2 L853.2,220.2 L853.6,203.8 L854.0,220.2 L854.3,213.9 L854.7,206.4 L855.1,220.2 L855.5,203.8 L855.9,209.9 L856.3,218.9 L856.7,209.4 L857.0,212.2 L857.4,224.7 L857.8,203.7 L858.2,203.6 L858.6,197.8 L859.0,197.2 L859.3,215.4 L859.7,207.3 L860.1,208.8 L860.5,226.1 L860.9,205.3 L861.3,219.2 L861.7,214.0 L862.0,207.8 L862.4,210.7 L862.8,217.2 L863.2,198.5 L863.6,222.4 L864.0,207.0 L864.4,220.0 L864.7,197.5 L865.1,197.9 L865.5,205.6 L865.9,201.0 L866.3,205.1 L866.7,208.9 L867.0,206.2 L867.4,201.3 L867.8,222.6 L868.2,206.8 L868.6,224.2 L869.0,216.1 L869.4,220.6 L869.7,212.3 L870.1,213.4 L870.5,206.5 L870.9,209.4 L871.3,234.2 L871.7,231.9 L872.1,237.1 L872.4,217.6 L872.8,229.3 L873.2,210.6 L873.6,234.3 L874.0,212.0 L874.4,218.6 L874.7,219.4 L875.1,225.3 L875.5,218.0 L875.9,239.3 L876.3,221.1 L876.7,221.8 L877.1,231.4 L877.4,230.9 L877.8,245.0 L878.2,238.1 L878.6,236.4 L879.0,245.9 L879.4,255.2 L879.8,228.8 L880.1,234.3 L880.5,249.1 L880.9,245.4 L881.3,245.2 L881.7,235.7 L882.1,249.5 L882.4,245.8 L882.8,244.5 L883.2,266.9 L883.6,253.3 L884.0,243.7 L884.4,247.9 L884.8,245.8 L885.1,269.4 L885.5,251.6 L885.9,267.0 L886.3,249.5 L886.7,252.5 L887.1,265.4 L887.5,259.3 L887.8,263.1 L888.2,249.0 L888.6,260.9 L889.0,275.6 L889.4,262.1 L889.8,277.8 L890.1,274.5 L890.5,263.9 L890.9,264.7 L891.3,276.6 L891.7,268.6 L892.1,270.1 L892.5,269.9 L892.8,265.2 L893.2,277.3 L893.6,277.3 L894.0,271.5 L894.4,257.4 L894.8,250.6 L895.2,256.3 L895.5,276.8 L895.9,255.0 L896.3,255.8 L896.7,255.5 L897.1,259.5 L897.5,273.9 L897.8,267.7 L898.2,270.3 L898.6,283.4 L899.0,269.2 L899.4,278.3 L899.8,258.9 L900.2,268.7 L900.5,265.8 L900.9,290.2 L901.3,271.8 L901.7,270.5 L902.1,282.2 L902.5,290.2 L902.9,284.9 L903.2,284.5 L903.6,289.2 L904.0,293.6 L904.4,284.1 L904.8,278.4 L905.2,297.6 L905.5,280.3 L905.9,305.3 L906.3,287.5 L906.7,298.8 L907.1,294.7 L907.5,300.9 L907.9,309.8 L908.2,307.9 L908.6,284.3 L909.0,301.4 L909.4,286.0 L909.8,298.6 L910.2,287.6 L910.6,301.0 L910.9,285.3 L911.3,300.6 L911.7,307.5 L912.1,310.8 L912.5,314.9 L912.9,314.6 L913.2,299.1 L913.6,309.5 L914.0,295.7 L914.4,316.2 L914.8,295.5 L915.2,318.0 L915.6,316.6 L915.9,315.9 L916.3,319.4 L916.7,316.2 L917.1,306.4 L917.5,329.0 L917.9,325.4 L918.3,332.2 L918.6,312.4 L919.0,332.4 L919.4,322.1 L919.8,312.4 L920.2,328.7 L920.6,334.9 L920.9,330.7 L921.3,311.4 L921.7,335.8 L922.1,313.5 L922.5,335.1 L922.9,333.9 L923.3,316.4 L923.6,320.2 L924.0,329.5 L924.4,318.8 L924.8,334.9 L925.2,314.0 L925.6,323.0 L926.0,312.8 L926.3,323.2 L926.7,324.5 L927.1,316.9 L927.5,325.6 L927.9,340.7 L928.3,326.8 L928.6,337.1 L929.0,328.4 L929.4,319.4 L929.8,331.9 L930.2,326.6 L930.6,341.2 L931.0,352.0 L931.3,352.2 L931.7,354.1 L932.1,349.2 L932.5,348.5 L932.9,348.0 L933.3,339.3 L933.7,337.4 L934.0,338.0 L934.4,339.3 L934.8,337.1 L935.2,341.7 L935.6,349.9 L936.0,351.7 L936.3,361.6 L936.7,364.4 L937.1,341.2 L937.5,362.0 L937.9,342.7 L938.3,357.1 L938.7,367.8 L939.0,346.9 L939.4,351.1 L939.8,344.4 L940.2,358.4 L940.6,348.5 L941.0,361.7 L941.4,369.6 L941.7,366.4 L942.1,360.0 L942.5,354.5 L942.9,357.5 L943.3,355.1 L943.7,367.2 L944.0,370.5 L944.4,369.6 L944.8,359.1 L945.2,375.8 L945.6,385.1 L946.0,376.4 L946.4,370.1 L946.7,366.0 L947.1,363.7 L947.5,371.5 L947.9,368.7 L948.3,369.5 L948.7,370.4 L949.1,377.1 L949.4,368.6 L949.8,371.1 L950.2,396.8 L950.6,394.6 L951.0,371.5 L951.4,381.4 L951.7,396.6 L952.1,376.0 L952.5,399.5 L952.9,387.9 L953.3,393.0 L953.7,396.6 L954.1,398.6 L954.4,403.5 L954.8,396.3 L955.2,404.6 L955.6,391.0 L956.0,400.0 L956.4,388.4 L956.8,384.5 L957.1,386.6 L957.5,391.2 L957.9,390.5 L958.3,410.0 L958.7,386.4 L959.1,398.0 L959.4,399.8 L959.8,397.3 L960.2,411.5 L960.6,404.6 L961.0,414.7 L961.4,393.6 L961.8,405.8 L962.1,416.4 L962.5,394.2 L962.9,405.6 L963.3,401.6 L963.7,401.0 L964.1,404.5 L964.5,411.9 L964.8,417.0 L965.2,424.0 L965.6,409.3 L966.0,424.1 L966.4,417.8 L966.8,404.2 L967.1,404.3 L967.5,406.8 L967.9,424.2 L968.3,404.5 L968.7,427.1 L969.1,407.1 L969.5,412.6 L969.8,407.7 L970.2,408.4 L970.6,421.8 L971.0,428.6 L971.4,413.5 L971.8,431.3 L972.2,432.3 L972.5,427.4 L972.9,440.4 L973.3,433.5 L973.7,443.7 L974.1,436.9 L974.5,426.6 L974.8,428.0 L975.2,428.9 L975.6,437.1 L976.0,438.1 L976.4,447.8 L976.8,436.4 L977.2,458.0 L977.5,458.4 L977.9,460.9 L978.3,454.4 L978.7,465.0 L979.1,448.7 L979.5,463.4 L979.9,450.4 L980.2,454.2 L980.6,450.8 L981.0,450.5 L981.4,448.1 L981.8,456.2 L982.2,453.4 L982.5,461.8 L982.9,455.0 L983.3,465.9 L983.7,442.9 L984.1,443.8 L984.5,466.9 L984.9,468.7 L985.2,458.5 L985.6,455.0 L986.0,456.2 L986.4,459.9 L986.8,452.4 L987.2,458.4 L987.6,458.5 L987.9,469.0 L988.3,455.0 L988.7,469.2 L989.1,449.6 L989.5,460.2 L989.9,464.1 L990.2,456.7 L990.6,451.4 L991.0,470.7 L991.4,465.3 L991.8,450.8 L992.2,454.3 L992.6,467.5 L992.9,469.1 L993.3,458.0 L993.7,478.0 L994.1,477.8 L994.5,466.8 L994.9,467.6 L995.3,468.4 L995.6,463.9 L996.0,461.5 L996.4,474.8 L996.8,477.6 L997.2,465.1 L997.6,482.0 L997.9,466.9 L998.3,472.7 L998.7,470.4 L999.1,477.2 L999.5,492.4 L999.9,478.0 L1000.3,484.7 L1000.6,493.9 L1001.0,497.2 L1001.4,494.3 L1001.8,499.3 L1002.2,500.6 L1002.6,484.1 L1003.0,483.0 L1003.3,483.6 L1003.7,496.6 L1004.1,498.3 L1004.5,513.1 L1004.9,513.3 L1005.3,498.3 L1005.6,504.8 L1006.0,506.3 L1006.4,503.1 L1006.8,503.0 L1007.2,507.1 L1007.6,526.5 L1008.0,514.8 L1008.3,509.2 L1008.7,511.5 L1009.1,510.0 L1009.5,522.6 L1009.9,523.9 L1010.3,537.7 L1010.7,526.7 L1011.0,526.7 L1011.4,519.1 L1011.8,521.1 L1012.2,542.9 L1012.6,542.1 L1013.0,537.3 L1013.3,528.9 L1013.7,545.7 L1014.1,531.9 L1014.5,537.8 L1014.9,532.0 L1015.3,546.3 L1015.7,545.7 L1016.0,554.9 L1016.4,544.3 L1016.8,538.5 L1017.2,545.6 L1017.6,546.3 L1018.0,537.4 L1018.4,541.9 L1018.7,554.2 L1019.1,539.6 L1019.5,546.2 L1019.9,558.0 L1020.3,561.7 L1020.7,551.5 L1021.0,556.9 L1021.4,555.8 L1021.8,568.4 L1022.2,554.0 L1022.6,552.9 L1023.0,565.1 L1023.4,569.1 L1023.7,554.1 L1024.1,555.2 L1024.5,577.1 L1024.9,567.9 L1025.3,571.3 L1025.7,576.0 L1026.1,571.2 L1026.4,568.3 L1026.8,576.6 L1027.2,578.7 L1027.6,565.6 L1028.0,571.0 L1028.4,580.0 L1028.7,584.1 L1029.1,579.2 L1029.5,566.6 L1029.9,569.9 L1030.3,585.8 L1030.7,576.9 L1031.1,592.3 L1031.4,571.5 L1031.8,571.8 L1032.2,590.3 L1032.6,588.3 L1033.0,590.3 L1033.4,594.1 L1033.8,583.0 L1034.1,591.3 L1034.5,601.2 L1034.9,597.3 L1035.3,588.1 L1035.7,588.4 L1036.1,606.3 L1036.4,594.8 L1036.8,593.9 L1037.2,594.9 L1037.6,595.5 L1038.0,593.2 L1038.4,604.8 L1038.8,593.3 L1039.1,603.7 L1039.5,613.3 L1039.9,600.0 L1040.3,607.9 L1040.7,601.6 L1041.1,608.6 L1041.5,606.5 L1041.8,605.9 L1042.2,603.0 L1042.6,613.2 L1043.0,604.8 L1043.4,615.6 L1043.8,602.7 L1044.1,616.6 L1044.5,621.2 L1044.9,622.8 L1045.3,610.5 L1045.7,617.9 L1046.1,612.5 L1046.5,619.3 L1046.8,616.9 L1047.2,607.3 L1047.6,606.5 L1048.0,627.9 L1048.4,607.3 L1048.8,618.4 L1049.2,613.6 L1049.5,609.8 L1049.9,627.9 L1050.3,624.0 L1050.7,612.8 L1051.1,622.2 L1051.5,613.9 L1051.8,615.7 L1052.2,612.3 L1052.6,620.3 L1053.0,634.4 L1053.4,615.3 L1053.8,632.7 L1054.2,634.2 L1054.5,630.1 L1054.9,634.8 L1055.3,637.2 L1055.7,626.3 L1056.1,620.6 L1056.5,636.3 L1056.9,634.1 L1057.2,628.4 L1057.6,636.9 L1058.0,633.0 L1058.4,623.7 L1058.8,642.6 L1059.2,633.4 L1059.5,641.4 L1059.9,628.9 L1060.3,642.6 L1060.7,629.3 L1061.1,639.1 L1061.5,627.3 L1061.9,640.6 L1062.2,637.8 L1062.6,647.1 L1063.0,643.7 L1063.4,641.0 L1063.8,630.5 L1064.2,638.0 L1064.6,633.5 L1064.9,633.3 L1065.3,651.6 L1065.7,647.0 L1066.1,635.8 L1066.5,638.3 L1066.9,643.6 L1067.2,648.3 L1067.6,647.2 L1068.0,659.2 L1068.4,657.7 L1068.8,653.7 L1069.2,659.7 L1069.6,658.7 L1069.9,646.6 L1070.3,648.5 L1070.7,650.2 L1071.1,655.0 L1071.5,647.9 L1071.9,664.8 L1072.3,656.9 L1072.6,662.4 L1073.0,651.5 L1073.4,666.1 L1073.8,669.6 L1074.2,658.6 L1074.6,658.5 L1074.9,661.4 L1075.3,660.7 L1075.7,674.9 L1076.1,666.2 L1076.5,668.3 L1076.9,660.6 L1077.3,673.1 L1077.6,677.2 L1078.0,676.6 L1078.4,672.5 L1078.8,662.5 L1079.2,669.6 L1079.6,669.6 L1080.0,676.0 L1080.3,678.2 L1080.7,666.9 L1081.1,678.6 L1081.5,686.7 L1081.9,672.8 L1082.3,686.6 L1082.6,683.3 L1083.0,679.4 L1083.4,675.6 L1083.8,695.3 L1084.2,682.1 L1084.6,694.6 L1085.0,684.6 L1085.3,686.1 L1085.7,689.0 L1086.1,692.0 L1086.5,690.5 L1086.9,682.4 L1087.3,696.8 L1087.7,695.0 L1088.0,703.0 L1088.4,698.6 L1088.8,706.8 L1089.2,688.6 L1089.6,701.8 L1090.0,689.7 L1090.3,708.3 L1090.7,697.6 L1091.1,699.7 L1091.5,699.1 L1091.9,696.9 L1092.3,713.6 L1092.7,699.7 L1093.0,716.1 L1093.4,710.6 L1093.8,699.3 L1094.2,705.9 L1094.6,698.3 L1095.0,700.4 L1095.4,710.6 L1095.7,714.1 L1096.1,716.0 L1096.5,720.0 L1096.9,705.6 L1097.3,703.9 L1097.7,720.5 L1098.0,711.0 L1098.4,703.7 L1098.8,708.1 L1099.2,713.2 L1099.6,701.9 L1100.0,713.6 L1100.4,716.3 L1100.7,712.7 L1101.1,716.4 L1101.5,715.8 L1101.9,714.0 L1102.3,723.7 L1102.7,712.8 L1103.1,714.0 L1103.4,712.1 L1103.8,723.2 L1104.2,728.6 L1104.6,715.4 L1105.0,723.9 L1105.4,720.4 L1105.7,728.6 L1106.1,728.3 L1106.5,731.4 L1106.9,727.8 L1107.3,725.8 L1107.7,736.0 L1108.1,735.6 L1108.4,733.6 L1108.8,729.7 L1109.2,737.9 L1109.6,745.6 L1110.0,736.8 L1110.4,738.8 L1110.8,727.8 L1111.1,737.1 L1111.5,749.0 L1111.9,736.4 L1112.3,748.5 L1112.7,742.3 L1113.1,749.4 L1113.4,737.2 L1113.8,746.0 L1114.2,729.5 L1114.6,745.2 L1115.0,728.5 L1115.4,729.5 L1115.8,737.9 L1116.1,739.0 L1116.5,740.6 L1116.9,732.9 L1117.3,744.8 L1117.7,741.4 L1118.1,748.1 L1118.5,740.7 L1118.8,746.3 L1119.2,731.3 L1119.6,741.9 L1120.0,747.5 L1120.4,747.2 L1120.8,749.9 L1121.1,752.8 L1121.5,754.5 L1121.9,741.3 L1122.3,755.2 L1122.7,740.6 L1123.1,738.6 L1123.5,740.4 L1123.8,756.6 L1124.2,744.1 L1124.6,748.8 L1125.0,741.8 L1125.4,756.0 L1125.8,749.7 L1126.2,749.9 L1126.5,759.2 L1126.9,750.8 L1127.3,748.3 L1127.7,746.8 L1128.1,746.0 L1128.5,763.8 L1128.8,748.6 L1129.2,758.0 L1129.6,749.0 L1130.0,762.2 L1130.4,757.6 L1130.8,757.3 L1131.2,751.5 L1131.5,753.5 L1131.9,749.9 L1132.3,767.3 L1132.7,762.1 L1133.1,753.3 L1133.5,764.4 L1133.9,752.4 L1134.2,764.3 L1134.6,757.6 L1135.0,771.2 L1135.4,754.2 L1135.8,771.9 L1136.2,766.7 L1136.5,768.1 L1136.9,770.8 L1137.3,766.9 L1137.7,768.0 L1138.1,763.4 L1138.5,760.8 L1138.9,765.6 L1139.2,768.3 L1139.6,780.3 L1140.0,781.1 L1140.4,786.5 L1140.8,785.9 L1141.2,772.6 L1141.6,788.5 L1141.9,784.9 L1142.3,783.3 L1142.7,788.5 L1143.1,785.2 L1143.5,787.3 L1143.9,784.3 L1144.2,789.3 L1144.6,792.7 L1145.0,774.9 L1145.4,778.8 L1145.8,778.5 L1146.2,789.4 L1146.6,775.3 L1146.9,777.5 L1147.3,786.2 L1147.7,788.6 L1148.1,778.3 L1148.5,794.1 L1148.9,783.0 L1149.3,777.1 L1149.6,776.6 L1150.0,776.6 L1150.4,787.2 L1150.8,796.0 L1151.2,789.7 L1151.6,791.8 L1151.9,786.1 L1152.3,783.6 L1152.7,778.9 L1153.1,792.9 L1153.5,792.4 L1153.9,798.6 L1154.3,784.1 L1154.6,791.6 L1155.0,797.7 L1155.4,793.0 L1155.8,793.9 L1156.2,787.7 L1156.6,800.0 L1157.0,794.9 L1157.3,796.7 L1157.7,804.2 L1158.1,804.1 L1158.5,802.7 L1158.9,799.5 L1159.3,797.8 L1159.6,794.6 L1160.0,791.9 L1160.4,808.9 L1160.8,791.5 L1161.2,803.3 L1161.6,796.3 L1162.0,805.7 L1162.3,798.0 L1162.7,799.2 L1163.1,813.0 L1163.5,796.3 L1163.9,813.4 L1164.3,804.9 L1164.7,810.7 L1165.0,803.4 L1165.4,811.9 L1165.8,803.5 L1166.2,800.3 L1166.6,803.9 L1167.0,799.2 L1167.3,808.5 L1167.7,802.8 L1168.1,807.5 L1168.5,798.5 L1168.9,815.1 L1169.3,800.0 L1169.7,817.7 L1170.0,801.2 L1170.4,816.9 L1170.8,805.0 L1171.2,817.3 L1171.6,804.1 L1172.0,815.6 L1172.4,819.1 L1172.7,803.7 L1173.1,810.1 L1173.5,805.3 L1173.9,806.8 L1174.3,821.2 L1174.7,821.6 L1175.0,809.8 L1175.4,807.7 L1175.8,821.4 L1176.2,808.0 L1176.6,825.7 L1177.0,811.4 L1177.4,814.6 L1177.7,819.8 L1178.1,820.4 L1178.5,822.4 L1178.9,819.4 L1179.3,819.4 L1179.7,826.6 L1180.1,830.1 L1180.4,820.3 L1180.8,827.5 L1181.2,829.8 L1181.6,827.4 L1182.0,830.0 L1182.4,816.3 L1182.7,828.2 L1183.1,821.5 L1183.5,834.6 L1183.9,822.1 L1184.3,816.7 L1184.7,821.2 L1185.1,821.5 L1185.4,828.8 L1185.8,828.0 L1186.2,819.9 L1186.6,833.5 L1187.0,828.6 L1187.4,824.5 L1187.8,832.6 L1188.1,830.4 L1188.5,839.4 L1188.9,827.1 L1189.3,837.7 L1189.7,836.3 L1190.1,837.5 L1190.4,828.3 L1190.8,835.2 L1191.2,823.9 L1191.6,828.2 L1192.0,826.1 L1192.4,831.2 L1192.8,840.4 L1193.1,839.0 L1193.5,838.6 L1193.9,842.4 L1194.3,837.6 L1194.7,831.6 L1195.1,837.3 L1195.5,844.5 L1195.8,833.5 L1196.2,829.1 L1196.6,838.9 L1197.0,845.4 L1197.4,834.0 L1197.8,837.8 L1198.1,832.5 L1198.5,836.5 L1198.9,831.5 L1199.3,848.4 L1199.7,836.1 L1200.1,837.2 L1200.5,834.0 L1200.8,845.1 L1201.2,838.1 L1201.6,844.4 L1202.0,835.2 L1202.4,848.6 L1202.8,847.3 L1203.2,832.3 L1203.5,836.5 L1203.9,846.2 L1204.3,845.1 L1204.7,842.9 L1205.1,846.9 L1205.5,848.9 L1205.8,832.9 L1206.2,847.7 L1206.6,837.4 L1207.0,838.0 L1207.4,837.9 L1207.8,846.4 L1208.2,848.0 L1208.5,840.5 L1208.9,833.2 L1209.3,844.9 L1209.7,848.2 L1210.1,842.6 L1210.5,848.9 L1210.9,846.1 L1211.2,838.8 L1211.6,848.7 L1212.0,845.1 L1212.4,841.8 L1212.8,851.5 L1213.2,852.2 L1213.5,836.7 L1213.9,838.9 L1214.3,838.9 L1214.7,845.2 L1215.1,846.7 L1215.5,854.6 L1215.9,852.4 L1216.2,855.1 L1216.6,847.4 L1217.0,849.6 L1217.4,855.1 L1217.8,856.9 L1218.2,848.0 L1218.6,856.6 L1218.9,859.4 L1219.3,855.6 L1219.7,844.8 L1220.1,847.9 L1220.5,851.0 L1220.9,857.1 L1221.2,852.9 L1221.6,862.2 L1222.0,856.8 L1222.4,854.5 L1222.8,862.6 L1223.2,853.8 L1223.6,857.1 L1223.9,865.2 L1224.3,863.8 L1224.7,857.9 L1225.1,850.6 L1225.5,867.1 L1225.9,857.9 L1226.3,863.6 L1226.6,862.0 L1227.0,852.2 L1227.4,858.2 L1227.8,865.0 L1228.2,862.1 L1228.6,852.2 L1228.9,854.6 L1229.3,863.3 L1229.7,861.5 L1230.1,862.8 L1230.5,868.8 L1230.9,853.2 L1231.3,867.3 L1231.6,867.4 L1232.0,869.5 L1232.4,853.5 L1232.8,854.0 L1233.2,859.5 L1233.6,861.8 L1234.0,861.1 L1234.3,865.4 L1234.7,855.8 L1235.1,862.4 L1235.5,857.0 L1235.9,860.2 L1236.3,860.5 L1236.6,860.8 L1237.0,859.0 L1237.4,858.4 L1237.8,861.1 L1238.2,868.2 L1238.6,869.7 L1239.0,871.5 L1239.3,859.3 L1239.7,866.8 L1240.1,876.5 L1240.5,865.4 L1240.9,860.6 L1241.3,859.7 L1241.7,859.6 L1242.0,861.0 L1242.4,874.3 L1242.8,868.1 L1243.2,864.6 L1243.6,866.0 L1244.0,871.7 L1244.3,878.0 L1244.7,861.9 L1245.1,864.2 L1245.5,862.7 L1245.9,872.0 L1246.3,874.5 L1246.7,863.1 L1247.0,866.8 L1247.4,866.5 L1247.8,878.6 L1248.2,877.5 L1248.6,865.1 L1249.0,863.1 L1249.4,873.2 L1249.7,863.5 L1250.1,876.7 L1250.5,869.1 L1250.9,873.5 L1251.3,870.1 L1251.7,876.8 L1252.0,873.6 L1252.4,872.6 L1252.8,870.9 L1253.2,878.5 L1253.6,871.4 L1254.0,879.4 L1254.4,865.6 L1254.7,880.1 L1255.1,883.4 L1255.5,881.0 L1255.9,875.9 L1256.3,878.8 L1256.7,875.4 L1257.1,886.3 L1257.4,881.2 L1257.8,879.1 L1258.2,871.8 L1258.6,874.2 L1259.0,880.8 L1259.4,886.4 L1259.7,890.2 L1260.1,880.6 L1260.5,882.1 L1260.9,883.9 L1261.3,879.3 L1261.7,884.2 L1262.1,878.2 L1262.4,887.3 L1262.8,886.3 L1263.2,875.0 L1263.6,881.0 L1264.0,873.7 L1264.4,890.3 L1264.8,873.8 L1265.1,890.0 L1265.5,877.0 L1265.9,880.1 L1266.3,888.7 L1266.7,885.1 L1267.1,881.5 L1267.4,879.9 L1267.8,881.1 L1268.2,889.7 L1268.6,871.5 L1269.0,883.7 L1269.4,876.7 L1269.8,873.0 L1270.1,872.3 L1270.5,887.4 L1270.9,874.3 L1271.3,881.7 L1271.7,879.3 L1272.1,887.4 L1272.5,889.7 L1272.8,881.7 L1273.2,875.7 L1273.6,884.9 L1274.0,874.8 L1274.4,879.5 L1274.8,892.6 L1275.1,875.7 L1275.5,891.3 L1275.9,889.3 L1276.3,883.0 L1276.7,875.9 L1277.1,891.0 L1277.5,887.9 L1277.8,892.6 L1278.2,891.8 L1278.6,885.4 L1279.0,882.5 L1279.4,883.5 L1279.8,891.8 L1280.2,884.3 L1280.5,883.7 L1280.9,874.3 L1281.3,885.6 L1281.7,879.8 L1282.1,882.6 L1282.5,877.0 L1282.8,880.3 L1283.2,873.0 L1283.6,879.7 L1284.0,885.4 L1284.4,884.1 L1284.8,876.3 L1285.2,885.7 L1285.5,875.4 L1285.9,884.7 L1286.3,875.6 L1286.7,890.9 L1287.1,879.5 L1287.5,886.5 L1287.9,891.2 L1288.2,884.9 L1288.6,895.4 L1289.0,893.3 L1289.4,881.6 L1289.8,888.2 L1290.2,892.1 L1290.5,896.2 L1290.9,896.3 L1291.3,895.4 L1291.7,891.4 L1292.1,899.8 L1292.5,896.5 L1292.9,892.6 L1293.2,884.3 L1293.6,884.8 L1294.0,883.5 L1294.4,896.7 L1294.8,898.5 L1295.2,884.8 L1295.6,887.5 L1295.9,896.0 L1296.3,892.4 L1296.7,883.1 L1297.1,884.9 L1297.5,882.4 L1297.9,890.4 L1298.2,895.8 L1298.6,889.2 L1299.0,896.9 L1299.4,896.8 L1299.8,897.2 L1300.2,894.1 L1300.6,895.7 L1300.9,894.0 L1301.3,885.9 L1301.7,886.4 L1302.1,898.6 L1302.5,883.3 L1302.9,884.2 L1303.3,882.1 L1303.6,895.6 L1304.0,886.2 L1304.4,889.7 L1304.8,887.2 L1305.2,883.8 L1305.6,899.6 L1305.9,885.8 L1306.3,885.8 L1306.7,890.1 L1307.1,894.9 L1307.5,892.6 L1307.9,900.3 L1308.3,889.2 L1308.6,893.0 L1309.0,892.8 L1309.4,890.7 L1309.8,902.2 L1310.2,903.5 L1310.6,902.4 L1311.0,903.2 L1311.3,890.0 L1311.7,902.6 L1312.1,898.1 L1312.5,892.9 L1312.9,900.3 L1313.3,888.0 L1313.6,887.9 L1314.0,897.7 L1314.4,894.0 L1314.8,890.2 L1315.2,886.4 L1315.6,891.7 L1316.0,896.1 L1316.3,903.6 L1316.7,892.2 L1317.1,891.5 L1317.5,890.5 L1317.9,896.5 L1318.3,886.6 L1318.7,891.4 L1319.0,895.1 L1319.4,897.5 L1319.8,901.3 L1320.2,888.6 L1320.6,895.8 L1321.0,885.7 L1321.3,895.4 L1321.7,895.6 L1322.1,886.6 L1322.5,894.1 L1322.9,882.8 L1323.3,890.6 L1323.7,883.8 L1324.0,898.9 L1324.4,900.4 L1324.8,901.2 L1325.2,885.6 L1325.6,893.3 L1326.0,888.8 L1326.4,892.9 L1326.7,884.9 L1327.1,888.2 L1327.5,894.6 L1327.9,900.3 L1328.3,896.8 L1328.7,896.9 L1329.0,897.7 L1329.4,891.3 L1329.8,889.2 L1330.2,889.5 L1330.6,901.4 L1331.0,902.1 L1331.4,893.0 L1331.7,892.1 L1332.1,891.3 L1332.5,889.3 L1332.9,899.9 L1333.3,905.1 L1333.7,899.7 L1334.1,900.7 L1334.4,904.7 L1334.8,894.1 L1335.2,897.2 L1335.6,895.1 L1336.0,890.5 L1336.4,896.0 L1336.7,890.3 L1337.1,891.7 L1337.5,897.1 L1337.9,895.5 L1338.3,898.3 L1338.7,899.9 L1339.1,893.5 L1339.4,895.9 L1339.8,900.1 L1340.2,894.7 L1340.6,896.6 L1341.0,904.2 L1341.4,892.3 L1341.8,896.7 L1342.1,888.8 L1342.5,889.4 L1342.9,904.0 L1343.3,901.4 L1343.7,893.6 L1344.1,902.9 L1344.4,891.6 L1344.8,894.7 L1345.2,889.7 L1345.6,901.0 L1346.0,895.0 L1346.4,896.8 L1346.8,895.6 L1347.1,891.0 L1347.5,902.3 L1347.9,905.0 L1348.3,894.9 L1348.7,907.5 L1349.1,900.7 L1349.5,894.3 L1349.8,896.2 L1350.2,899.5 L1350.6,912.4 L1351.0,894.8 L1351.4,904.8 L1351.8,907.9 L1352.1,912.2 L1352.5,910.9 L1352.9,912.9 L1353.3,903.7 L1353.7,907.2 L1354.1,908.9 L1354.5,899.3 L1354.8,913.0 L1355.2,906.8 L1355.6,899.8 L1356.0,899.2 L1356.4,901.2 L1356.8,904.3 L1357.2,910.8 L1357.5,906.1 L1357.9,899.7 L1358.3,898.5 L1358.7,901.4 L1359.1,896.0 L1359.5,902.0 L1359.8,896.6 L1360.2,895.3 L1360.6,908.6 L1361.0,908.8 L1361.4,893.1 L1361.8,905.8 L1362.2,902.8 L1362.5,903.2 L1362.9,895.3 L1363.3,910.8 L1363.7,902.1 L1364.1,902.8 L1364.5,909.8 L1364.9,903.6 L1365.2,895.9 L1365.6,911.4 L1366.0,907.9 L1366.4,901.6 L1366.8,903.1 L1367.2,899.5 L1367.5,907.6 L1367.9,912.0 L1368.3,907.8 L1368.7,899.7 L1369.1,907.2 L1369.5,908.2 L1369.9,901.3 L1370.2,905.0 L1370.6,913.4 L1371.0,909.0 L1371.4,899.4 L1371.8,915.7 L1372.2,902.4 L1372.6,910.8 L1372.9,902.8 L1373.3,913.5 L1373.7,904.7 L1374.1,900.9 L1374.5,915.4 L1374.9,898.8 L1375.2,914.2 L1375.6,915.8 L1376.0,900.9 L1376.4,906.5 L1376.8,915.3 L1377.2,904.0 L1377.6,906.9 L1377.9,898.2 L1378.3,898.6 L1378.7,900.5 L1379.1,907.0 L1379.5,901.6 L1379.9,903.1 L1380.3,911.7 L1380.6,903.1 L1381.0,911.6 L1381.4,909.3 L1381.8,915.8 L1382.2,915.0 L1382.6,908.6 L1382.9,902.7 L1383.3,903.7 L1383.7,915.5 L1384.1,908.6 L1384.5,913.0 L1384.9,914.9 L1385.3,911.9 L1385.6,906.1 L1386.0,901.6 L1386.4,916.6 L1386.8,912.9 L1387.2,904.4 L1387.6,908.7 L1388.0,910.6 L1388.3,902.7 L1388.7,916.7 L1389.1,899.4 L1389.5,911.5 L1389.9,900.7 L1390.3,900.6 L1390.6,900.2 L1391.0,903.9 L1391.4,903.0 L1391.8,913.8 L1392.2,906.4 L1392.6,902.6 L1393.0,908.8 L1393.3,901.1 L1393.7,903.3 L1394.1,901.2 L1394.5,897.7" fill="none" stroke="#F14040" stroke-width="9" stroke-linejoin="round" stroke-linecap="round"/><path d="M162.5,926.5 L162.9,928.0 L163.3,917.3 L163.7,920.2 L164.0,918.0 L164.4,916.9 L164.8,920.0 L165.2,925.3 L165.6,917.8 L166.0,922.3 L166.3,918.7 L166.7,926.2 L167.1,910.9 L167.5,923.4 L167.9,910.1 L168.3,913.3 L168.7,919.9 L169.0,917.1 L169.4,922.7 L169.8,926.1 L170.2,918.3 L170.6,925.2 L171.0,923.5 L171.4,925.4 L171.7,917.5 L172.1,915.7 L172.5,911.0 L172.9,922.8 L173.3,913.2 L173.7,917.5 L174.0,927.0 L174.4,921.5 L174.8,911.8 L175.2,916.1 L175.6,917.2 L176.0,917.0 L176.4,912.9 L176.7,919.7 L177.1,926.3 L177.5,927.7 L177.9,919.4 L178.3,925.8 L178.7,913.6 L179.1,913.0 L179.4,919.8 L179.8,919.0 L180.2,926.9 L180.6,915.7 L181.0,922.0 L181.4,916.5 L181.7,921.7 L182.1,915.3 L182.5,926.2 L182.9,912.0 L183.3,916.5 L183.7,921.8 L184.1,920.6 L184.4,923.7 L184.8,918.8 L185.2,912.4 L185.6,919.1 L186.0,921.3 L186.4,919.0 L186.8,919.5 L187.1,919.2 L187.5,917.5 L187.9,914.0 L188.3,913.9 L188.7,924.9 L189.1,910.0 L189.4,919.5 L189.8,918.0 L190.2,916.8 L190.6,910.4 L191.0,924.5 L191.4,911.4 L191.8,914.0 L192.1,916.2 L192.5,918.3 L192.9,916.0 L193.3,913.2 L193.7,917.2 L194.1,909.4 L194.5,915.2 L194.8,917.0 L195.2,909.6 L195.6,923.9 L196.0,909.6 L196.4,916.3 L196.8,921.9 L197.1,912.7 L197.5,919.8 L197.9,915.9 L198.3,914.8 L198.7,907.6 L199.1,912.2 L199.5,915.8 L199.8,912.6 L200.2,912.4 L200.6,920.5 L201.0,916.7 L201.4,920.0 L201.8,920.9 L202.2,917.4 L202.5,922.2 L202.9,919.8 L203.3,919.8 L203.7,913.9 L204.1,915.8 L204.5,921.0 L204.8,906.7 L205.2,910.7 L205.6,911.9 L206.0,912.6 L206.4,911.3 L206.8,919.9 L207.2,911.2 L207.5,917.2 L207.9,919.9 L208.3,918.5 L208.7,909.7 L209.1,916.4 L209.5,908.8 L209.9,906.8 L210.2,907.5 L210.6,914.8 L211.0,913.4 L211.4,912.7 L211.8,921.0 L212.2,910.0 L212.5,909.1 L212.9,918.8 L213.3,916.5 L213.7,911.6 L214.1,906.3 L214.5,915.8 L214.9,907.2 L215.2,920.2 L215.6,912.2 L216.0,916.2 L216.4,906.9 L216.8,917.9 L217.2,919.4 L217.6,914.8 L217.9,908.6 L218.3,909.0 L218.7,915.5 L219.1,909.2 L219.5,918.6 L219.9,913.8 L220.2,906.9 L220.6,918.5 L221.0,917.3 L221.4,915.4 L221.8,917.9 L222.2,912.7 L222.6,914.6 L222.9,911.8 L223.3,921.2 L223.7,908.3 L224.1,915.1 L224.5,920.4 L224.9,911.3 L225.3,918.4 L225.6,917.7 L226.0,908.8 L226.4,919.7 L226.8,905.2 L227.2,916.3 L227.6,910.2 L227.9,917.8 L228.3,903.2 L228.7,903.5 L229.1,908.1 L229.5,914.3 L229.9,912.5 L230.3,908.8 L230.6,913.6 L231.0,908.5 L231.4,903.2 L231.8,915.5 L232.2,913.4 L232.6,902.1 L233.0,903.8 L233.3,917.3 L233.7,916.3 L234.1,907.6 L234.5,904.7 L234.9,902.7 L235.3,916.7 L235.6,911.3 L236.0,910.8 L236.4,905.5 L236.8,911.6 L237.2,918.9 L237.6,918.4 L238.0,911.4 L238.3,917.2 L238.7,910.9 L239.1,909.4 L239.5,910.6 L239.9,909.2 L240.3,918.1 L240.7,906.8 L241.0,917.3 L241.4,909.5 L241.8,914.9 L242.2,910.4 L242.6,903.5 L243.0,902.6 L243.3,901.6 L243.7,904.5 L244.1,906.9 L244.5,902.2 L244.9,914.0 L245.3,914.5 L245.7,900.6 L246.0,903.2 L246.4,908.1 L246.8,911.1 L247.2,899.5 L247.6,911.8 L248.0,911.3 L248.4,900.0 L248.7,903.0 L249.1,901.5 L249.5,900.0 L249.9,899.7 L250.3,908.8 L250.7,911.2 L251.0,905.8 L251.4,908.6 L251.8,909.2 L252.2,905.2 L252.6,899.8 L253.0,905.3 L253.4,908.4 L253.7,910.5 L254.1,899.7 L254.5,902.5 L254.9,909.0 L255.3,899.1 L255.7,910.7 L256.1,910.4 L256.4,906.9 L256.8,898.8 L257.2,902.8 L257.6,900.0 L258.0,896.4 L258.4,895.0 L258.7,897.4 L259.1,903.9 L259.5,902.1 L259.9,910.9 L260.3,909.7 L260.7,903.9 L261.1,905.8 L261.4,902.6 L261.8,911.1 L262.2,895.7 L262.6,903.3 L263.0,908.5 L263.4,900.7 L263.8,901.7 L264.1,899.5 L264.5,894.8 L264.9,903.7 L265.3,910.8 L265.7,907.3 L266.1,903.9 L266.4,906.3 L266.8,902.4 L267.2,899.8 L267.6,901.4 L268.0,908.9 L268.4,909.2 L268.8,908.9 L269.1,897.9 L269.5,902.3 L269.9,899.8 L270.3,902.1 L270.7,897.2 L271.1,892.1 L271.5,898.1 L271.8,904.5 L272.2,895.9 L272.6,904.0 L273.0,896.0 L273.4,897.6 L273.8,906.5 L274.1,903.4 L274.5,902.4 L274.9,899.7 L275.3,891.2 L275.7,893.7 L276.1,897.3 L276.5,898.3 L276.8,904.3 L277.2,901.1 L277.6,890.1 L278.0,898.1 L278.4,899.5 L278.8,888.4 L279.2,899.7 L279.5,890.0 L279.9,896.6 L280.3,896.7 L280.7,897.0 L281.1,897.8 L281.5,897.8 L281.8,897.3 L282.2,894.1 L282.6,894.2 L283.0,900.9 L283.4,894.5 L283.8,887.2 L284.2,887.9 L284.5,897.6 L284.9,895.9 L285.3,888.6 L285.7,888.2 L286.1,897.4 L286.5,892.8 L286.9,889.4 L287.2,886.4 L287.6,888.1 L288.0,886.5 L288.4,882.3 L288.8,882.3 L289.2,893.1 L289.5,882.0 L289.9,892.7 L290.3,895.9 L290.7,883.2 L291.1,881.0 L291.5,894.3 L291.9,883.6 L292.2,894.7 L292.6,881.1 L293.0,888.4 L293.4,888.0 L293.8,881.0 L294.2,891.0 L294.6,887.0 L294.9,894.1 L295.3,892.8 L295.7,886.8 L296.1,881.2 L296.5,889.1 L296.9,894.9 L297.2,890.9 L297.6,886.3 L298.0,893.2 L298.4,891.6 L298.8,890.1 L299.2,879.7 L299.6,886.3 L299.9,890.8 L300.3,884.1 L300.7,883.4 L301.1,882.5 L301.5,880.3 L301.9,882.8 L302.3,891.0 L302.6,881.8 L303.0,881.4 L303.4,882.9 L303.8,888.6 L304.2,887.5 L304.6,880.5 L304.9,877.9 L305.3,889.3 L305.7,877.9 L306.1,882.9 L306.5,879.9 L306.9,877.2 L307.3,888.5 L307.6,877.7 L308.0,877.2 L308.4,881.5 L308.8,884.8 L309.2,879.4 L309.6,879.1 L310.0,882.0 L310.3,879.9 L310.7,876.3 L311.1,875.3 L311.5,872.6 L311.9,871.9 L312.3,887.4 L312.6,872.7 L313.0,872.8 L313.4,870.6 L313.8,873.6 L314.2,870.7 L314.6,869.9 L315.0,883.5 L315.3,883.6 L315.7,876.2 L316.1,870.1 L316.5,876.2 L316.9,876.3 L317.3,870.3 L317.7,874.5 L318.0,870.2 L318.4,873.5 L318.8,874.5 L319.2,874.6 L319.6,869.4 L320.0,880.2 L320.3,876.5 L320.7,880.4 L321.1,871.1 L321.5,875.2 L321.9,867.0 L322.3,876.0 L322.7,866.4 L323.0,876.2 L323.4,865.6 L323.8,866.2 L324.2,876.2 L324.6,872.1 L325.0,879.7 L325.4,870.7 L325.7,869.7 L326.1,873.4 L326.5,874.0 L326.9,873.0 L327.3,868.1 L327.7,877.7 L328.0,867.0 L328.4,868.8 L328.8,873.8 L329.2,864.1 L329.6,870.4 L330.0,871.4 L330.4,871.0 L330.7,874.0 L331.1,870.8 L331.5,878.0 L331.9,869.4 L332.3,873.7 L332.7,868.2 L333.1,869.1 L333.4,862.5 L333.8,866.5 L334.2,878.2 L334.6,876.0 L335.0,869.7 L335.4,868.7 L335.7,869.7 L336.1,865.4 L336.5,862.1 L336.9,876.5 L337.3,867.0 L337.7,872.4 L338.1,870.4 L338.4,860.8 L338.8,875.0 L339.2,872.2 L339.6,866.8 L340.0,862.3 L340.4,858.5 L340.8,857.6 L341.1,857.9 L341.5,860.0 L341.9,865.2 L342.3,867.8 L342.7,858.1 L343.1,859.8 L343.4,860.2 L343.8,858.8 L344.2,856.1 L344.6,861.9 L345.0,866.4 L345.4,870.2 L345.8,866.4 L346.1,859.5 L346.5,864.3 L346.9,867.1 L347.3,868.2 L347.7,869.8 L348.1,861.0 L348.5,859.5 L348.8,854.6 L349.2,857.3 L349.6,867.3 L350.0,866.2 L350.4,853.2 L350.8,864.0 L351.1,859.5 L351.5,854.8 L351.9,857.1 L352.3,866.6 L352.7,859.2 L353.1,857.9 L353.5,857.5 L353.8,864.2 L354.2,849.8 L354.6,857.2 L355.0,854.1 L355.4,852.3 L355.8,860.6 L356.2,864.2 L356.5,854.2 L356.9,849.3 L357.3,849.5 L357.7,849.6 L358.1,860.8 L358.5,849.6 L358.8,863.0 L359.2,859.7 L359.6,851.0 L360.0,863.2 L360.4,851.8 L360.8,851.5 L361.2,849.5 L361.5,850.3 L361.9,852.4 L362.3,861.3 L362.7,862.0 L363.1,862.4 L363.5,858.4 L363.9,858.2 L364.2,846.7 L364.6,848.7 L365.0,861.0 L365.4,854.4 L365.8,848.6 L366.2,854.8 L366.5,852.2 L366.9,845.7 L367.3,844.5 L367.7,856.3 L368.1,845.1 L368.5,850.8 L368.9,857.3 L369.2,852.2 L369.6,842.1 L370.0,853.2 L370.4,853.0 L370.8,839.3 L371.2,847.4 L371.6,838.8 L371.9,848.7 L372.3,851.8 L372.7,837.1 L373.1,846.4 L373.5,835.6 L373.9,839.5 L374.2,836.4 L374.6,844.5 L375.0,837.5 L375.4,835.3 L375.8,837.0 L376.2,832.5 L376.6,832.3 L376.9,837.5 L377.3,830.9 L377.7,834.4 L378.1,830.8 L378.5,843.2 L378.9,840.3 L379.3,842.6 L379.6,844.4 L380.0,833.6 L380.4,828.2 L380.8,833.6 L381.2,827.7 L381.6,830.0 L381.9,833.1 L382.3,836.5 L382.7,839.6 L383.1,826.7 L383.5,826.8 L383.9,827.2 L384.3,836.3 L384.6,829.0 L385.0,832.2 L385.4,827.1 L385.8,831.1 L386.2,839.9 L386.6,835.1 L387.0,834.7 L387.3,833.2 L387.7,832.5 L388.1,837.5 L388.5,828.8 L388.9,821.1 L389.3,826.0 L389.6,832.2 L390.0,819.1 L390.4,820.1 L390.8,819.4 L391.2,831.6 L391.6,821.3 L392.0,827.0 L392.3,818.8 L392.7,825.3 L393.1,826.9 L393.5,814.3 L393.9,815.7 L394.3,818.7 L394.7,821.0 L395.0,819.1 L395.4,817.1 L395.8,820.5 L396.2,820.4 L396.6,822.2 L397.0,815.7 L397.3,820.8 L397.7,818.1 L398.1,819.7 L398.5,808.8 L398.9,814.9 L399.3,820.6 L399.7,820.4 L400.0,808.9 L400.4,805.6 L400.8,816.8 L401.2,810.4 L401.6,811.0 L402.0,811.0 L402.4,805.8 L402.7,803.1 L403.1,801.8 L403.5,810.9 L403.9,803.5 L404.3,810.1 L404.7,808.6 L405.0,804.9 L405.4,800.2 L405.8,800.7 L406.2,807.2 L406.6,798.8 L407.0,803.2 L407.4,802.3 L407.7,789.8 L408.1,792.4 L408.5,798.2 L408.9,788.5 L409.3,784.1 L409.7,785.5 L410.1,796.6 L410.4,787.3 L410.8,790.8 L411.2,789.7 L411.6,793.2 L412.0,793.5 L412.4,778.7 L412.7,786.8 L413.1,791.1 L413.5,785.5 L413.9,785.0 L414.3,789.5 L414.7,779.1 L415.1,780.4 L415.4,778.2 L415.8,775.6 L416.2,774.4 L416.6,771.8 L417.0,776.2 L417.4,770.9 L417.8,770.1 L418.1,782.8 L418.5,778.7 L418.9,776.4 L419.3,776.0 L419.7,781.4 L420.1,775.5 L420.4,768.0 L420.8,771.8 L421.2,768.2 L421.6,766.8 L422.0,766.9 L422.4,776.3 L422.8,769.1 L423.1,762.1 L423.5,767.7 L423.9,756.6 L424.3,755.9 L424.7,762.5 L425.1,753.7 L425.5,766.0 L425.8,760.7 L426.2,752.6 L426.6,766.1 L427.0,758.3 L427.4,759.3 L427.8,759.3 L428.1,758.0 L428.5,754.6 L428.9,748.8 L429.3,763.2 L429.7,761.1 L430.1,751.6 L430.5,753.5 L430.8,749.9 L431.2,747.3 L431.6,747.2 L432.0,755.3 L432.4,756.7 L432.8,749.5 L433.2,758.4 L433.5,748.7 L433.9,747.7 L434.3,749.5 L434.7,742.8 L435.1,755.7 L435.5,756.1 L435.8,740.1 L436.2,741.2 L436.6,754.5 L437.0,742.4 L437.4,744.4 L437.8,751.6 L438.2,746.8 L438.5,743.4 L438.9,743.0 L439.3,749.7 L439.7,752.7 L440.1,751.5 L440.5,748.3 L440.9,746.9 L441.2,748.6 L441.6,746.1 L442.0,749.9 L442.4,744.5 L442.8,745.0 L443.2,745.2 L443.5,743.5 L443.9,734.9 L444.3,735.6 L444.7,746.3 L445.1,746.0 L445.5,737.4 L445.9,744.7 L446.2,731.6 L446.6,738.2 L447.0,727.2 L447.4,736.9 L447.8,733.2 L448.2,740.6 L448.6,738.0 L448.9,737.0 L449.3,723.4 L449.7,721.8 L450.1,727.3 L450.5,727.0 L450.9,724.2 L451.2,729.1 L451.6,720.3 L452.0,731.8 L452.4,719.8 L452.8,734.8 L453.2,724.9 L453.6,724.2 L453.9,721.6 L454.3,731.2 L454.7,728.1 L455.1,717.9 L455.5,729.9 L455.9,728.0 L456.3,722.9 L456.6,715.7 L457.0,726.6 L457.4,729.0 L457.8,729.6 L458.2,714.4 L458.6,726.5 L458.9,717.7 L459.3,728.6 L459.7,721.9 L460.1,718.6 L460.5,715.3 L460.9,716.3 L461.3,719.2 L461.6,722.8 L462.0,717.7 L462.4,716.2 L462.8,718.0 L463.2,720.1 L463.6,706.6 L464.0,717.5 L464.3,713.5 L464.7,711.1 L465.1,715.3 L465.5,703.8 L465.9,713.6 L466.3,701.3 L466.6,714.3 L467.0,713.6 L467.4,704.5 L467.8,703.5 L468.2,704.2 L468.6,695.7 L469.0,698.0 L469.3,696.1 L469.7,696.5 L470.1,695.2 L470.5,694.9 L470.9,693.0 L471.3,694.8 L471.7,704.1 L472.0,697.9 L472.4,694.1 L472.8,696.9 L473.2,696.3 L473.6,698.9 L474.0,700.7 L474.3,687.4 L474.7,696.0 L475.1,701.1 L475.5,694.6 L475.9,682.8 L476.3,698.8 L476.7,681.2 L477.0,694.0 L477.4,695.8 L477.8,678.4 L478.2,690.0 L478.6,676.9 L479.0,688.3 L479.4,686.0 L479.7,674.6 L480.1,686.4 L480.5,676.3 L480.9,675.5 L481.3,682.7 L481.7,687.3 L482.0,675.2 L482.4,685.9 L482.8,682.0 L483.2,684.7 L483.6,672.6 L484.0,683.3 L484.4,678.7 L484.7,676.5 L485.1,683.5 L485.5,678.3 L485.9,675.8 L486.3,671.2 L486.7,680.7 L487.1,682.1 L487.4,681.8 L487.8,678.0 L488.2,681.8 L488.6,679.9 L489.0,675.6 L489.4,673.5 L489.7,673.3 L490.1,674.1 L490.5,682.5 L490.9,672.9 L491.3,680.2 L491.7,668.7 L492.1,667.3 L492.4,677.4 L492.8,665.2 L493.2,670.1 L493.6,667.8 L494.0,667.2 L494.4,667.7 L494.8,676.2 L495.1,667.8 L495.5,660.5 L495.9,662.5 L496.3,668.3 L496.7,658.4 L497.1,659.1 L497.4,666.4 L497.8,658.7 L498.2,668.2 L498.6,669.6 L499.0,662.8 L499.4,656.7 L499.8,658.0 L500.1,663.9 L500.5,660.0 L500.9,654.5 L501.3,654.5 L501.7,650.0 L502.1,663.3 L502.5,652.5 L502.8,653.0 L503.2,659.0 L503.6,646.6 L504.0,653.9 L504.4,650.8 L504.8,644.1 L505.1,651.3 L505.5,648.4 L505.9,649.2 L506.3,644.0 L506.7,646.2 L507.1,654.8 L507.5,655.8 L507.8,640.6 L508.2,642.6 L508.6,653.0 L509.0,639.5 L509.4,642.5 L509.8,642.6 L510.2,639.4 L510.5,635.7 L510.9,645.9 L511.3,649.5 L511.7,638.1 L512.1,643.8 L512.5,636.0 L512.8,636.0 L513.2,635.5 L513.6,632.5 L514.0,643.3 L514.4,642.2 L514.8,635.5 L515.2,640.8 L515.5,634.0 L515.9,637.2 L516.3,623.7 L516.7,625.2 L517.1,625.1 L517.5,622.9 L517.9,632.9 L518.2,626.9 L518.6,624.5 L519.0,633.5 L519.4,629.0 L519.8,618.1 L520.2,627.1 L520.5,614.6 L520.9,621.2 L521.3,619.5 L521.7,625.1 L522.1,611.5 L522.5,618.3 L522.9,620.7 L523.2,621.0 L523.6,620.4 L524.0,608.9 L524.4,615.3 L524.8,610.7 L525.2,614.2 L525.6,603.4 L525.9,609.9 L526.3,609.9 L526.7,600.7 L527.1,602.1 L527.5,598.4 L527.9,601.2 L528.2,610.0 L528.6,605.1 L529.0,598.7 L529.4,607.7 L529.8,603.0 L530.2,607.8 L530.6,601.3 L530.9,598.2 L531.3,603.8 L531.7,595.4 L532.1,602.3 L532.5,595.2 L532.9,590.6 L533.3,588.9 L533.6,593.2 L534.0,596.8 L534.4,581.8 L534.8,588.5 L535.2,588.6 L535.6,595.6 L535.9,582.0 L536.3,580.7 L536.7,581.0 L537.1,584.7 L537.5,583.7 L537.9,576.5 L538.3,573.7 L538.6,578.9 L539.0,577.2 L539.4,572.9 L539.8,580.9 L540.2,583.0 L540.6,572.0 L541.0,573.5 L541.3,577.3 L541.7,567.4 L542.1,567.9 L542.5,579.6 L542.9,570.2 L543.3,565.5 L543.6,560.7 L544.0,562.7 L544.4,569.7 L544.8,569.8 L545.2,553.9 L545.6,554.4 L546.0,560.6 L546.3,559.4 L546.7,551.6 L547.1,552.2 L547.5,557.3 L547.9,551.7 L548.3,541.4 L548.7,549.1 L549.0,555.2 L549.4,552.1 L549.8,549.7 L550.2,539.1 L550.6,542.7 L551.0,536.1 L551.3,541.4 L551.7,531.2 L552.1,535.1 L552.5,526.2 L552.9,528.1 L553.3,532.1 L553.7,522.2 L554.0,532.7 L554.4,529.2 L554.8,530.4 L555.2,535.3 L555.6,529.5 L556.0,532.9 L556.4,531.3 L556.7,530.4 L557.1,525.1 L557.5,521.0 L557.9,520.1 L558.3,517.9 L558.7,525.0 L559.0,522.1 L559.4,523.9 L559.8,509.0 L560.2,521.2 L560.6,511.4 L561.0,512.5 L561.4,518.8 L561.7,503.9 L562.1,508.2 L562.5,505.9 L562.9,501.1 L563.3,507.5 L563.7,504.7 L564.1,507.8 L564.4,493.5 L564.8,501.1 L565.2,491.6 L565.6,490.3 L566.0,497.1 L566.4,492.4 L566.7,497.7 L567.1,492.1 L567.5,493.9 L567.9,481.8 L568.3,485.6 L568.7,480.7 L569.1,491.4 L569.4,491.3 L569.8,494.2 L570.2,482.7 L570.6,487.1 L571.0,486.6 L571.4,482.5 L571.8,479.3 L572.1,474.8 L572.5,471.2 L572.9,482.3 L573.3,475.7 L573.7,466.8 L574.1,476.6 L574.4,471.1 L574.8,471.9 L575.2,465.3 L575.6,464.3 L576.0,468.7 L576.4,469.5 L576.8,461.5 L577.1,454.5 L577.5,462.7 L577.9,459.5 L578.3,462.6 L578.7,449.4 L579.1,463.0 L579.5,455.6 L579.8,459.4 L580.2,451.6 L580.6,447.5 L581.0,455.1 L581.4,443.6 L581.8,449.5 L582.1,449.2 L582.5,445.6 L582.9,433.6 L583.3,433.3 L583.7,443.0 L584.1,446.9 L584.5,444.9 L584.8,437.3 L585.2,444.0 L585.6,430.9 L586.0,431.5 L586.4,434.1 L586.8,437.9 L587.2,422.4 L587.5,432.3 L587.9,433.8 L588.3,419.4 L588.7,422.8 L589.1,425.8 L589.5,428.4 L589.8,419.1 L590.2,420.1 L590.6,415.8 L591.0,413.0 L591.4,419.1 L591.8,413.5 L592.2,410.6 L592.5,422.6 L592.9,414.0 L593.3,409.1 L593.7,409.1 L594.1,409.1 L594.5,413.1 L594.9,404.5 L595.2,410.2 L595.6,412.5 L596.0,408.5 L596.4,400.4 L596.8,412.8 L597.2,412.9 L597.5,410.9 L597.9,408.4 L598.3,405.4 L598.7,405.9 L599.1,406.9 L599.5,401.2 L599.9,393.9 L600.2,390.1 L600.6,393.7 L601.0,384.0 L601.4,398.9 L601.8,382.3 L602.2,396.4 L602.6,385.2 L602.9,391.3 L603.3,380.9 L603.7,379.3 L604.1,377.0 L604.5,385.4 L604.9,386.8 L605.2,374.7 L605.6,375.3 L606.0,378.6 L606.4,378.1 L606.8,376.0 L607.2,366.7 L607.6,381.0 L607.9,371.4 L608.3,365.5 L608.7,378.3 L609.1,365.4 L609.5,362.9 L609.9,372.1 L610.3,369.1 L610.6,366.2 L611.0,354.5 L611.4,354.6 L611.8,353.0 L612.2,362.2 L612.6,351.4 L612.9,357.2 L613.3,353.8 L613.7,351.3 L614.1,348.6 L614.5,354.6 L614.9,352.6 L615.3,355.8 L615.6,340.7 L616.0,347.4 L616.4,337.2 L616.8,349.2 L617.2,341.6 L617.6,334.2 L618.0,339.2 L618.3,335.1 L618.7,334.0 L619.1,341.0 L619.5,347.0 L619.9,338.2 L620.3,337.3 L620.6,343.0 L621.0,345.1 L621.4,341.6 L621.8,332.9 L622.2,340.9 L622.6,331.5 L623.0,339.1 L623.3,330.2 L623.7,333.1 L624.1,326.1 L624.5,338.7 L624.9,327.9 L625.3,333.0 L625.7,336.7 L626.0,336.6 L626.4,334.4 L626.8,325.4 L627.2,321.4 L627.6,330.8 L628.0,329.4 L628.3,332.7 L628.7,324.5 L629.1,331.7 L629.5,327.5 L629.9,316.1 L630.3,322.9 L630.7,326.3 L631.0,317.9 L631.4,331.7 L631.8,317.6 L632.2,315.9 L632.6,321.5 L633.0,326.2 L633.4,325.6 L633.7,312.4 L634.1,315.1 L634.5,309.8 L634.9,323.8 L635.3,318.9 L635.7,311.5 L636.0,314.6 L636.4,315.9 L636.8,321.8 L637.2,306.0 L637.6,318.9 L638.0,308.8 L638.4,310.2 L638.7,305.9 L639.1,305.1 L639.5,310.2 L639.9,307.9 L640.3,315.7 L640.7,302.3 L641.1,310.1 L641.4,312.5 L641.8,313.2 L642.2,307.8 L642.6,310.1 L643.0,308.7 L643.4,303.5 L643.7,303.7 L644.1,304.2 L644.5,304.8 L644.9,295.7 L645.3,295.9 L645.7,297.6 L646.1,300.2 L646.4,288.2 L646.8,300.1 L647.2,293.6 L647.6,295.9 L648.0,285.1 L648.4,287.5 L648.8,279.4 L649.1,282.8 L649.5,282.0 L649.9,291.5 L650.3,291.6 L650.7,278.7 L651.1,275.0 L651.4,272.5 L651.8,269.2 L652.2,270.6 L652.6,276.0 L653.0,272.8 L653.4,278.4 L653.8,265.9 L654.1,265.3 L654.5,269.6 L654.9,278.0 L655.3,271.0 L655.7,268.1 L656.1,265.2 L656.5,267.8 L656.8,264.3 L657.2,264.2 L657.6,265.8 L658.0,275.2 L658.4,262.7 L658.8,267.1 L659.1,260.2 L659.5,272.5 L659.9,264.4 L660.3,266.8 L660.7,262.8 L661.1,252.5 L661.5,255.6 L661.8,252.6 L662.2,252.5 L662.6,266.3 L663.0,253.2 L663.4,252.0 L663.8,251.0 L664.2,259.9 L664.5,257.2 L664.9,251.7 L665.3,258.8 L665.7,254.3 L666.1,256.1 L666.5,262.3 L666.8,262.3 L667.2,259.8 L667.6,255.0 L668.0,246.2 L668.4,249.0 L668.8,257.6 L669.2,248.6 L669.5,248.2 L669.9,246.0 L670.3,250.3 L670.7,251.7 L671.1,250.6 L671.5,261.7 L671.9,251.6 L672.2,261.7 L672.6,249.9 L673.0,248.6 L673.4,253.3 L673.8,256.1 L674.2,248.8 L674.5,254.6 L674.9,249.3 L675.3,242.0 L675.7,253.7 L676.1,235.3 L676.5,235.2 L676.9,243.8 L677.2,233.9 L677.6,232.8 L678.0,233.6 L678.4,237.9 L678.8,237.6 L679.2,239.1 L679.6,226.3 L679.9,227.3 L680.3,220.2 L680.7,225.4 L681.1,235.6 L681.5,230.7 L681.9,232.2 L682.2,226.3 L682.6,219.6 L683.0,219.0 L683.4,216.8 L683.8,220.4 L684.2,208.8 L684.6,216.9 L684.9,219.6 L685.3,215.4 L685.7,214.8 L686.1,217.9 L686.5,209.6 L686.9,209.6 L687.3,218.4 L687.6,212.3 L688.0,215.2 L688.4,210.5 L688.8,213.2 L689.2,214.6 L689.6,208.4 L689.9,214.5 L690.3,213.9 L690.7,201.1 L691.1,210.5 L691.5,200.1 L691.9,206.7 L692.3,203.7 L692.6,198.5 L693.0,212.1 L693.4,213.5 L693.8,206.8 L694.2,195.2 L694.6,206.6 L695.0,205.7 L695.3,201.9 L695.7,213.3 L696.1,201.9 L696.5,200.6 L696.9,195.7 L697.3,200.4 L697.6,199.5 L698.0,210.0 L698.4,202.8 L698.8,206.7 L699.2,204.3 L699.6,208.2 L700.0,201.6 L700.3,205.6 L700.7,202.2 L701.1,207.0 L701.5,188.6 L701.9,198.8 L702.3,199.7 L702.7,192.0 L703.0,190.0 L703.4,190.6 L703.8,196.7 L704.2,191.6 L704.6,192.9 L705.0,186.0 L705.3,192.3 L705.7,181.4 L706.1,190.5 L706.5,193.3 L706.9,180.0 L707.3,194.4 L707.7,175.8 L708.0,175.2 L708.4,184.1 L708.8,186.6 L709.2,189.9 L709.6,182.9 L710.0,177.2 L710.4,186.8 L710.7,177.3 L711.1,184.1 L711.5,179.4 L711.9,174.0 L712.3,179.5 L712.7,175.9 L713.0,181.6 L713.4,176.9 L713.8,172.4 L714.2,171.2 L714.6,170.1 L715.0,183.1 L715.4,186.9 L715.7,188.4 L716.1,185.9 L716.5,175.2 L716.9,185.5 L717.3,174.3 L717.7,187.9 L718.1,173.7 L718.4,180.9 L718.8,185.6 L719.2,177.0 L719.6,173.9 L720.0,187.2 L720.4,180.0 L720.7,185.6 L721.1,168.5 L721.5,178.1 L721.9,176.5 L722.3,173.3 L722.7,168.1 L723.1,164.9 L723.4,174.3 L723.8,173.1 L724.2,164.1 L724.6,165.0 L725.0,165.1 L725.4,161.9 L725.8,158.7 L726.1,174.8 L726.5,164.1 L726.9,169.2 L727.3,155.6 L727.7,172.0 L728.1,164.0 L728.4,162.1 L728.8,169.0 L729.2,163.5 L729.6,161.8 L730.0,166.5 L730.4,153.0 L730.8,160.4 L731.1,157.7 L731.5,150.6 L731.9,148.0 L732.3,160.2 L732.7,150.2 L733.1,158.3 L733.5,144.9 L733.8,144.7 L734.2,152.3 L734.6,159.7 L735.0,144.5 L735.4,147.4 L735.8,144.9 L736.1,150.0 L736.5,141.0 L736.9,152.5 L737.3,144.5 L737.7,157.5 L738.1,141.7 L738.5,153.0 L738.8,156.9 L739.2,151.4 L739.6,157.1 L740.0,148.5 L740.4,147.5 L740.8,155.3 L741.2,158.4 L741.5,144.0 L741.9,147.2 L742.3,148.5 L742.7,142.2 L743.1,158.9 L743.5,151.2 L743.8,160.6 L744.2,145.0 L744.6,145.5 L745.0,153.9 L745.4,149.8 L745.8,146.6 L746.2,148.0 L746.5,146.6 L746.9,154.6 L747.3,145.3 L747.7,144.5 L748.1,149.0 L748.5,147.7 L748.9,150.0 L749.2,146.0 L749.6,140.1 L750.0,156.7 L750.4,142.3 L750.8,142.6 L751.2,147.7 L751.5,151.4 L751.9,142.8 L752.3,139.6 L752.7,151.1 L753.1,143.1 L753.5,139.6 L753.9,149.0 L754.2,138.6 L754.6,144.1 L755.0,153.3 L755.4,138.9 L755.8,154.6 L756.2,139.1 L756.6,144.3 L756.9,154.6 L757.3,151.7 L757.7,152.2 L758.1,141.9 L758.5,139.5 L758.9,147.3 L759.2,141.8 L759.6,143.5 L760.0,138.0 L760.4,150.0 L760.8,152.2 L761.2,146.4 L761.6,137.7 L761.9,148.3 L762.3,137.0 L762.7,150.8 L763.1,135.6 L763.5,143.5 L763.9,136.0 L764.3,143.0 L764.6,141.7 L765.0,138.3 L765.4,148.4 L765.8,151.0 L766.2,143.9 L766.6,148.9 L766.9,147.0 L767.3,148.1 L767.7,148.9 L768.1,134.6 L768.5,138.9 L768.9,144.3 L769.3,134.1 L769.6,151.4 L770.0,134.0 L770.4,136.3 L770.8,142.7 L771.2,133.6 L771.6,145.1 L772.0,149.0 L772.3,149.8 L772.7,137.4 L773.1,145.7 L773.5,146.2 L773.9,135.6 L774.3,134.1 L774.6,143.5 L775.0,144.2 L775.4,141.0 L775.8,143.1 L776.2,133.7 L776.6,140.4 L777.0,145.4 L777.3,150.2 L777.7,131.7 L778.1,143.1 L778.5,131.0 L778.9,131.6 L779.3,140.1 L779.7,143.5 L780.0,133.6 L780.4,145.5 L780.8,145.9 L781.2,146.4 L781.6,135.8 L782.0,131.5 L782.3,133.8 L782.7,128.1 L783.1,144.2 L783.5,131.1 L783.9,131.2 L784.3,130.3 L784.7,133.8 L785.0,140.9 L785.4,136.6 L785.8,138.6 L786.2,124.7 L786.6,128.3 L787.0,125.7 L787.4,132.3 L787.7,142.4 L788.1,129.0 L788.5,136.5 L788.9,130.6 L789.3,134.6 L789.7,131.9 L790.0,139.4 L790.4,124.9 L790.8,136.2 L791.2,125.6 L791.6,124.9 L792.0,131.8 L792.4,140.2 L792.7,135.9 L793.1,134.4 L793.5,138.9 L793.9,143.4 L794.3,126.6 L794.7,133.6 L795.1,135.6 L795.4,143.9 L795.8,136.0 L796.2,130.7 L796.6,143.4 L797.0,129.7 L797.4,144.1 L797.7,146.5 L798.1,134.9 L798.5,146.8 L798.9,133.9 L799.3,146.4 L799.7,150.2 L800.1,140.0 L800.4,151.8 L800.8,150.1 L801.2,141.0 L801.6,138.2 L802.0,143.2 L802.4,137.1 L802.8,150.2 L803.1,138.2 L803.5,145.2 L803.9,137.6 L804.3,151.8 L804.7,144.2 L805.1,152.9 L805.4,151.3 L805.8,147.7 L806.2,143.8 L806.6,143.8 L807.0,150.0 L807.4,149.0 L807.8,136.4 L808.1,154.6 L808.5,147.4 L808.9,138.8 L809.3,142.0 L809.7,143.9 L810.1,152.0 L810.5,150.2 L810.8,135.9 L811.2,144.1 L811.6,149.5 L812.0,137.0 L812.4,139.3 L812.8,140.7 L813.1,151.3 L813.5,148.4 L813.9,140.3 L814.3,151.3 L814.7,138.3 L815.1,149.1 L815.5,147.7 L815.8,143.2 L816.2,156.7 L816.6,147.2 L817.0,148.3 L817.4,157.5 L817.8,158.3 L818.2,161.8 L818.5,156.3 L818.9,152.1 L819.3,164.0 L819.7,156.5 L820.1,163.9 L820.5,152.1 L820.8,167.3 L821.2,169.3 L821.6,157.3 L822.0,164.2 L822.4,154.5 L822.8,165.6 L823.2,158.6 L823.5,165.3 L823.9,165.8 L824.3,168.4 L824.7,163.1 L825.1,176.3 L825.5,161.9 L825.9,165.3 L826.2,164.3 L826.6,176.7 L827.0,165.3 L827.4,169.7 L827.8,166.5 L828.2,170.8 L828.5,164.5 L828.9,166.7 L829.3,172.0 L829.7,164.6 L830.1,174.3 L830.5,178.4 L830.9,169.2 L831.2,182.9 L831.6,172.2 L832.0,177.1 L832.4,169.4 L832.8,188.3 L833.2,184.3 L833.6,173.0 L833.9,180.5 L834.3,188.6 L834.7,179.9 L835.1,184.7 L835.5,183.8 L835.9,192.1 L836.2,195.3 L836.6,178.9 L837.0,184.0 L837.4,178.6 L837.8,188.1 L838.2,192.6 L838.6,197.3 L838.9,188.1 L839.3,184.5 L839.7,182.4 L840.1,193.5 L840.5,196.0 L840.9,197.0 L841.3,183.9 L841.6,189.0 L842.0,191.8 L842.4,184.6 L842.8,188.2 L843.2,192.6 L843.6,188.4 L843.9,190.9 L844.3,189.8 L844.7,198.1 L845.1,191.5 L845.5,202.4 L845.9,205.2 L846.3,196.9 L846.6,192.3 L847.0,202.8 L847.4,190.3 L847.8,198.6 L848.2,195.3 L848.6,191.9 L849.0,194.0 L849.3,197.5 L849.7,205.5 L850.1,208.1 L850.5,201.1 L850.9,201.3 L851.3,201.8 L851.6,206.4 L852.0,211.0 L852.4,197.4 L852.8,202.7 L853.2,203.1 L853.6,216.6 L854.0,207.6 L854.3,208.1 L854.7,217.6 L855.1,215.7 L855.5,217.5 L855.9,209.2 L856.3,204.8 L856.7,210.0 L857.0,216.3 L857.4,207.0 L857.8,213.4 L858.2,209.1 L858.6,214.6 L859.0,223.4 L859.3,219.1 L859.7,223.2 L860.1,223.2 L860.5,229.0 L860.9,216.2 L861.3,220.9 L861.7,226.4 L862.0,220.0 L862.4,225.5 L862.8,234.0 L863.2,221.0 L863.6,222.0 L864.0,228.0 L864.4,227.4 L864.7,229.8 L865.1,235.9 L865.5,241.2 L865.9,230.8 L866.3,238.4 L866.7,230.3 L867.0,239.2 L867.4,238.3 L867.8,229.0 L868.2,244.6 L868.6,242.2 L869.0,234.6 L869.4,240.3 L869.7,232.4 L870.1,247.1 L870.5,249.5 L870.9,235.2 L871.3,248.0 L871.7,246.0 L872.1,248.1 L872.4,244.2 L872.8,235.8 L873.2,244.2 L873.6,240.1 L874.0,251.5 L874.4,245.0 L874.7,251.7 L875.1,252.5 L875.5,251.7 L875.9,251.0 L876.3,245.5 L876.7,257.8 L877.1,255.3 L877.4,242.6 L877.8,254.8 L878.2,262.0 L878.6,246.5 L879.0,263.3 L879.4,256.7 L879.8,250.8 L880.1,246.9 L880.5,248.4 L880.9,248.0 L881.3,254.9 L881.7,248.3 L882.1,262.7 L882.4,261.5 L882.8,255.6 L883.2,256.4 L883.6,253.1 L884.0,266.9 L884.4,262.7 L884.8,258.5 L885.1,269.2 L885.5,261.7 L885.9,255.1 L886.3,271.9 L886.7,257.3 L887.1,260.0 L887.5,266.2 L887.8,270.9 L888.2,260.8 L888.6,269.5 L889.0,265.0 L889.4,274.9 L889.8,263.3 L890.1,260.6 L890.5,261.0 L890.9,260.2 L891.3,277.7 L891.7,263.7 L892.1,274.6 L892.5,277.5 L892.8,265.0 L893.2,263.5 L893.6,279.4 L894.0,276.9 L894.4,271.9 L894.8,264.8 L895.2,272.7 L895.5,280.8 L895.9,268.1 L896.3,264.3 L896.7,279.5 L897.1,267.4 L897.5,265.3 L897.8,275.8 L898.2,268.5 L898.6,272.8 L899.0,267.0 L899.4,273.5 L899.8,281.4 L900.2,274.2 L900.5,281.8 L900.9,282.0 L901.3,289.3 L901.7,288.7 L902.1,287.6 L902.5,279.4 L902.9,283.2 L903.2,286.2 L903.6,283.1 L904.0,289.5 L904.4,290.2 L904.8,285.9 L905.2,284.4 L905.5,285.8 L905.9,290.6 L906.3,283.9 L906.7,284.9 L907.1,287.3 L907.5,300.3 L907.9,293.2 L908.2,306.4 L908.6,291.1 L909.0,300.3 L909.4,310.8 L909.8,311.0 L910.2,302.4 L910.6,302.9 L910.9,310.1 L911.3,309.9 L911.7,304.3 L912.1,306.1 L912.5,307.8 L912.9,316.1 L913.2,317.6 L913.6,312.6 L914.0,323.8 L914.4,313.7 L914.8,314.2 L915.2,313.5 L915.6,323.9 L915.9,322.7 L916.3,325.2 L916.7,322.0 L917.1,319.0 L917.5,323.0 L917.9,315.8 L918.3,321.9 L918.6,318.4 L919.0,315.8 L919.4,319.3 L919.8,330.7 L920.2,329.0 L920.6,335.0 L920.9,329.0 L921.3,328.9 L921.7,331.9 L922.1,331.5 L922.5,335.5 L922.9,324.9 L923.3,333.8 L923.6,341.6 L924.0,334.5 L924.4,336.9 L924.8,341.1 L925.2,332.3 L925.6,338.6 L926.0,332.7 L926.3,336.9 L926.7,331.4 L927.1,343.9 L927.5,350.3 L927.9,348.3 L928.3,338.5 L928.6,349.7 L929.0,343.4 L929.4,353.2 L929.8,340.4 L930.2,350.2 L930.6,352.8 L931.0,342.6 L931.3,347.0 L931.7,349.8 L932.1,345.2 L932.5,348.0 L932.9,363.7 L933.3,347.8 L933.7,361.9 L934.0,353.0 L934.4,361.9 L934.8,362.9 L935.2,361.6 L935.6,370.3 L936.0,355.9 L936.3,367.6 L936.7,361.7 L937.1,371.7 L937.5,373.4 L937.9,375.7 L938.3,368.1 L938.7,370.5 L939.0,365.9 L939.4,372.3 L939.8,372.0 L940.2,371.9 L940.6,380.8 L941.0,377.8 L941.4,370.4 L941.7,368.5 L942.1,378.9 L942.5,383.3 L942.9,374.5 L943.3,381.3 L943.7,391.7 L944.0,390.8 L944.4,383.3 L944.8,394.0 L945.2,387.9 L945.6,381.0 L946.0,390.2 L946.4,392.2 L946.7,386.7 L947.1,392.6 L947.5,387.7 L947.9,403.8 L948.3,389.5 L948.7,402.7 L949.1,402.7 L949.4,397.3 L949.8,396.1 L950.2,406.6 L950.6,396.0 L951.0,402.8 L951.4,398.8 L951.7,407.1 L952.1,408.0 L952.5,406.0 L952.9,404.8 L953.3,404.1 L953.7,413.5 L954.1,409.9 L954.4,418.3 L954.8,411.9 L955.2,419.2 L955.6,411.3 L956.0,416.6 L956.4,430.3 L956.8,421.9 L957.1,428.4 L957.5,431.3 L957.9,435.2 L958.3,427.9 L958.7,426.8 L959.1,435.9 L959.4,436.5 L959.8,441.1 L960.2,433.8 L960.6,432.0 L961.0,443.2 L961.4,444.4 L961.8,450.3 L962.1,449.6 L962.5,448.6 L962.9,449.1 L963.3,454.6 L963.7,451.9 L964.1,458.0 L964.5,454.7 L964.8,448.5 L965.2,444.5 L965.6,457.8 L966.0,449.9 L966.4,459.2 L966.8,447.0 L967.1,460.4 L967.5,464.6 L967.9,449.0 L968.3,460.7 L968.7,463.7 L969.1,459.8 L969.5,453.2 L969.8,461.8 L970.2,461.0 L970.6,458.0 L971.0,469.8 L971.4,454.3 L971.8,458.5 L972.2,461.2 L972.5,466.0 L972.9,455.5 L973.3,472.0 L973.7,473.6 L974.1,463.3 L974.5,462.1 L974.8,472.0 L975.2,459.9 L975.6,467.6 L976.0,470.0 L976.4,463.7 L976.8,470.0 L977.2,475.1 L977.5,471.0 L977.9,479.0 L978.3,474.9 L978.7,470.8 L979.1,480.7 L979.5,475.0 L979.9,475.1 L980.2,483.9 L980.6,481.3 L981.0,484.9 L981.4,477.0 L981.8,475.6 L982.2,487.8 L982.5,478.4 L982.9,473.8 L983.3,489.4 L983.7,480.1 L984.1,485.7 L984.5,489.5 L984.9,477.1 L985.2,487.8 L985.6,478.9 L986.0,478.7 L986.4,491.2 L986.8,480.7 L987.2,480.7 L987.6,497.7 L987.9,482.6 L988.3,487.9 L988.7,500.2 L989.1,491.7 L989.5,486.6 L989.9,487.5 L990.2,487.6 L990.6,495.0 L991.0,503.3 L991.4,499.9 L991.8,501.7 L992.2,496.7 L992.6,504.1 L992.9,499.8 L993.3,505.0 L993.7,502.9 L994.1,500.5 L994.5,498.3 L994.9,513.3 L995.3,506.9 L995.6,510.3 L996.0,506.0 L996.4,505.5 L996.8,506.8 L997.2,518.2 L997.6,519.8 L997.9,508.6 L998.3,520.0 L998.7,514.8 L999.1,528.7 L999.5,520.1 L999.9,528.5 L1000.3,522.7 L1000.6,535.0 L1001.0,522.9 L1001.4,528.6 L1001.8,531.9 L1002.2,536.6 L1002.6,532.9 L1003.0,541.2 L1003.3,539.5 L1003.7,545.7 L1004.1,554.3 L1004.5,548.0 L1004.9,543.3 L1005.3,547.4 L1005.6,558.6 L1006.0,560.7 L1006.4,559.5 L1006.8,552.6 L1007.2,559.4 L1007.6,561.5 L1008.0,551.5 L1008.3,567.8 L1008.7,554.4 L1009.1,563.8 L1009.5,556.6 L1009.9,566.7 L1010.3,563.7 L1010.7,571.3 L1011.0,569.8 L1011.4,564.0 L1011.8,564.3 L1012.2,574.2 L1012.6,566.9 L1013.0,561.9 L1013.3,569.5 L1013.7,576.2 L1014.1,570.3 L1014.5,573.2 L1014.9,573.1 L1015.3,571.2 L1015.7,570.8 L1016.0,585.8 L1016.4,585.4 L1016.8,588.6 L1017.2,574.8 L1017.6,576.4 L1018.0,581.8 L1018.4,585.5 L1018.7,595.1 L1019.1,594.1 L1019.5,598.6 L1019.9,596.0 L1020.3,601.9 L1020.7,604.5 L1021.0,605.1 L1021.4,599.5 L1021.8,605.4 L1022.2,608.3 L1022.6,597.2 L1023.0,598.1 L1023.4,595.9 L1023.7,599.3 L1024.1,597.7 L1024.5,603.9 L1024.9,606.8 L1025.3,609.6 L1025.7,611.7 L1026.1,617.8 L1026.4,606.2 L1026.8,613.5 L1027.2,606.7 L1027.6,603.6 L1028.0,606.9 L1028.4,612.6 L1028.7,612.5 L1029.1,607.6 L1029.5,619.7 L1029.9,614.4 L1030.3,615.0 L1030.7,615.5 L1031.1,621.8 L1031.4,619.7 L1031.8,619.7 L1032.2,615.5 L1032.6,613.3 L1033.0,630.1 L1033.4,618.0 L1033.8,624.4 L1034.1,622.6 L1034.5,625.4 L1034.9,621.8 L1035.3,629.6 L1035.7,630.6 L1036.1,628.5 L1036.4,621.7 L1036.8,631.8 L1037.2,632.3 L1037.6,631.3 L1038.0,623.3 L1038.4,638.4 L1038.8,631.1 L1039.1,631.3 L1039.5,626.7 L1039.9,636.6 L1040.3,632.4 L1040.7,639.0 L1041.1,637.1 L1041.5,642.9 L1041.8,639.7 L1042.2,638.1 L1042.6,640.2 L1043.0,638.7 L1043.4,641.3 L1043.8,642.6 L1044.1,641.8 L1044.5,636.7 L1044.9,638.1 L1045.3,632.6 L1045.7,648.0 L1046.1,637.0 L1046.5,650.6 L1046.8,648.8 L1047.2,653.2 L1047.6,645.5 L1048.0,654.5 L1048.4,654.4 L1048.8,645.1 L1049.2,645.9 L1049.5,656.3 L1049.9,647.9 L1050.3,651.8 L1050.7,644.8 L1051.1,650.5 L1051.5,651.9 L1051.8,644.3 L1052.2,657.3 L1052.6,654.8 L1053.0,649.7 L1053.4,651.1 L1053.8,663.3 L1054.2,664.1 L1054.5,659.9 L1054.9,648.5 L1055.3,664.6 L1055.7,665.9 L1056.1,650.8 L1056.5,664.7 L1056.9,661.9 L1057.2,652.8 L1057.6,661.2 L1058.0,667.7 L1058.4,661.7 L1058.8,656.7 L1059.2,667.1 L1059.5,665.9 L1059.9,665.3 L1060.3,671.4 L1060.7,660.5 L1061.1,671.5 L1061.5,670.2 L1061.9,667.1 L1062.2,662.5 L1062.6,675.0 L1063.0,660.6 L1063.4,669.4 L1063.8,676.1 L1064.2,676.8 L1064.6,671.6 L1064.9,680.3 L1065.3,680.1 L1065.7,667.6 L1066.1,670.0 L1066.5,675.7 L1066.9,674.5 L1067.2,686.5 L1067.6,684.7 L1068.0,690.1 L1068.4,681.4 L1068.8,692.3 L1069.2,691.5 L1069.6,677.2 L1069.9,693.7 L1070.3,679.4 L1070.7,688.2 L1071.1,690.2 L1071.5,697.6 L1071.9,694.4 L1072.3,696.5 L1072.6,691.9 L1073.0,688.1 L1073.4,700.5 L1073.8,706.8 L1074.2,691.7 L1074.6,701.1 L1074.9,703.6 L1075.3,698.8 L1075.7,702.1 L1076.1,705.0 L1076.5,713.0 L1076.9,702.8 L1077.3,713.3 L1077.6,708.1 L1078.0,716.2 L1078.4,716.2 L1078.8,710.3 L1079.2,708.9 L1079.6,705.6 L1080.0,711.0 L1080.3,712.2 L1080.7,713.5 L1081.1,719.4 L1081.5,709.3 L1081.9,715.7 L1082.3,725.2 L1082.6,718.5 L1083.0,721.2 L1083.4,724.8 L1083.8,716.1 L1084.2,714.6 L1084.6,713.5 L1085.0,714.5 L1085.3,713.1 L1085.7,727.1 L1086.1,721.2 L1086.5,724.5 L1086.9,719.7 L1087.3,720.8 L1087.7,732.0 L1088.0,729.2 L1088.4,730.9 L1088.8,734.0 L1089.2,731.2 L1089.6,728.2 L1090.0,731.6 L1090.3,734.9 L1090.7,724.5 L1091.1,737.7 L1091.5,735.3 L1091.9,728.5 L1092.3,733.8 L1092.7,730.4 L1093.0,740.7 L1093.4,726.8 L1093.8,736.7 L1094.2,729.9 L1094.6,737.5 L1095.0,731.2 L1095.4,745.4 L1095.7,741.8 L1096.1,730.2 L1096.5,746.3 L1096.9,733.6 L1097.3,742.3 L1097.7,741.2 L1098.0,745.2 L1098.4,744.7 L1098.8,734.5 L1099.2,743.8 L1099.6,749.9 L1100.0,740.0 L1100.4,749.9 L1100.7,745.0 L1101.1,741.3 L1101.5,747.6 L1101.9,754.4 L1102.3,744.2 L1102.7,741.6 L1103.1,746.4 L1103.4,742.8 L1103.8,751.3 L1104.2,756.5 L1104.6,754.9 L1105.0,747.6 L1105.4,745.9 L1105.7,757.7 L1106.1,748.9 L1106.5,750.4 L1106.9,759.9 L1107.3,750.1 L1107.7,757.3 L1108.1,762.3 L1108.4,755.6 L1108.8,761.2 L1109.2,756.7 L1109.6,750.1 L1110.0,763.3 L1110.4,757.7 L1110.8,758.7 L1111.1,765.0 L1111.5,758.0 L1111.9,764.6 L1112.3,754.0 L1112.7,755.4 L1113.1,761.4 L1113.4,766.7 L1113.8,768.9 L1114.2,768.0 L1114.6,763.5 L1115.0,763.2 L1115.4,771.3 L1115.8,761.4 L1116.1,766.4 L1116.5,758.4 L1116.9,768.6 L1117.3,767.7 L1117.7,762.5 L1118.1,769.2 L1118.5,763.2 L1118.8,767.4 L1119.2,774.6 L1119.6,761.4 L1120.0,761.6 L1120.4,774.7 L1120.8,771.3 L1121.1,767.4 L1121.5,775.3 L1121.9,770.3 L1122.3,776.2 L1122.7,768.5 L1123.1,769.5 L1123.5,762.3 L1123.8,764.6 L1124.2,774.0 L1124.6,767.6 L1125.0,763.3 L1125.4,777.6 L1125.8,771.1 L1126.2,777.9 L1126.5,776.5 L1126.9,772.9 L1127.3,781.5 L1127.7,774.0 L1128.1,777.5 L1128.5,781.9 L1128.8,774.4 L1129.2,780.5 L1129.6,781.1 L1130.0,769.1 L1130.4,777.9 L1130.8,776.5 L1131.2,784.5 L1131.5,770.8 L1131.9,777.4 L1132.3,782.8 L1132.7,777.2 L1133.1,778.1 L1133.5,781.6 L1133.9,783.3 L1134.2,789.5 L1134.6,779.1 L1135.0,792.0 L1135.4,792.4 L1135.8,783.9 L1136.2,780.7 L1136.5,781.1 L1136.9,793.3 L1137.3,784.1 L1137.7,795.4 L1138.1,796.1 L1138.5,792.4 L1138.9,791.2 L1139.2,792.7 L1139.6,786.9 L1140.0,794.6 L1140.4,797.5 L1140.8,796.4 L1141.2,801.6 L1141.6,793.1 L1141.9,802.8 L1142.3,798.2 L1142.7,805.3 L1143.1,795.3 L1143.5,801.8 L1143.9,795.1 L1144.2,805.9 L1144.6,801.0 L1145.0,795.1 L1145.4,798.1 L1145.8,807.4 L1146.2,809.8 L1146.6,801.9 L1146.9,795.9 L1147.3,806.1 L1147.7,801.6 L1148.1,802.4 L1148.5,798.0 L1148.9,808.1 L1149.3,813.9 L1149.6,814.2 L1150.0,801.0 L1150.4,813.0 L1150.8,807.1 L1151.2,806.5 L1151.6,802.5 L1151.9,810.8 L1152.3,814.0 L1152.7,803.3 L1153.1,808.6 L1153.5,802.6 L1153.9,806.6 L1154.3,809.0 L1154.6,812.7 L1155.0,821.0 L1155.4,807.8 L1155.8,816.1 L1156.2,821.7 L1156.6,810.9 L1157.0,807.4 L1157.3,812.2 L1157.7,822.3 L1158.1,820.1 L1158.5,820.9 L1158.9,822.4 L1159.3,816.8 L1159.6,816.9 L1160.0,825.1 L1160.4,824.0 L1160.8,825.7 L1161.2,827.4 L1161.6,821.2 L1162.0,819.2 L1162.3,821.1 L1162.7,817.5 L1163.1,818.1 L1163.5,818.0 L1163.9,821.2 L1164.3,828.2 L1164.7,822.1 L1165.0,818.6 L1165.4,830.2 L1165.8,829.0 L1166.2,834.6 L1166.6,820.0 L1167.0,821.9 L1167.3,833.3 L1167.7,828.1 L1168.1,830.8 L1168.5,830.1 L1168.9,829.0 L1169.3,821.0 L1169.7,831.7 L1170.0,827.5 L1170.4,825.1 L1170.8,826.2 L1171.2,837.9 L1171.6,833.4 L1172.0,826.1 L1172.4,837.7 L1172.7,833.7 L1173.1,828.8 L1173.5,839.2 L1173.9,835.1 L1174.3,828.0 L1174.7,842.8 L1175.0,840.2 L1175.4,845.2 L1175.8,845.3 L1176.2,833.4 L1176.6,838.5 L1177.0,837.8 L1177.4,844.4 L1177.7,837.8 L1178.1,847.6 L1178.5,847.3 L1178.9,850.1 L1179.3,835.9 L1179.7,846.4 L1180.1,847.5 L1180.4,845.9 L1180.8,849.5 L1181.2,838.8 L1181.6,849.9 L1182.0,854.4 L1182.4,841.8 L1182.7,844.3 L1183.1,853.7 L1183.5,851.0 L1183.9,855.0 L1184.3,843.1 L1184.7,843.3 L1185.1,857.9 L1185.4,855.6 L1185.8,852.8 L1186.2,849.8 L1186.6,846.8 L1187.0,846.2 L1187.4,846.2 L1187.8,852.5 L1188.1,850.1 L1188.5,848.0 L1188.9,850.9 L1189.3,855.7 L1189.7,850.0 L1190.1,853.5 L1190.4,859.5 L1190.8,864.1 L1191.2,852.2 L1191.6,864.7 L1192.0,852.3 L1192.4,852.7 L1192.8,862.6 L1193.1,851.8 L1193.5,856.9 L1193.9,850.5 L1194.3,851.1 L1194.7,866.3 L1195.1,862.9 L1195.5,853.5 L1195.8,858.4 L1196.2,864.8 L1196.6,859.0 L1197.0,861.9 L1197.4,861.5 L1197.8,866.3 L1198.1,858.3 L1198.5,854.9 L1198.9,862.5 L1199.3,864.0 L1199.7,854.6 L1200.1,859.4 L1200.5,854.0 L1200.8,856.3 L1201.2,867.0 L1201.6,859.1 L1202.0,868.1 L1202.4,868.1 L1202.8,860.4 L1203.2,870.7 L1203.5,867.6 L1203.9,855.6 L1204.3,866.9 L1204.7,860.1 L1205.1,860.4 L1205.5,863.3 L1205.8,858.6 L1206.2,869.3 L1206.6,870.7 L1207.0,860.2 L1207.4,867.8 L1207.8,870.4 L1208.2,865.6 L1208.5,863.3 L1208.9,866.4 L1209.3,862.2 L1209.7,870.3 L1210.1,863.3 L1210.5,861.7 L1210.9,867.7 L1211.2,866.6 L1211.6,868.6 L1212.0,873.5 L1212.4,874.7 L1212.8,867.3 L1213.2,877.0 L1213.5,873.0 L1213.9,873.8 L1214.3,865.4 L1214.7,871.4 L1215.1,876.1 L1215.5,873.5 L1215.9,879.8 L1216.2,876.3 L1216.6,869.8 L1217.0,877.1 L1217.4,876.3 L1217.8,866.4 L1218.2,877.2 L1218.6,872.4 L1218.9,865.8 L1219.3,880.8 L1219.7,875.7 L1220.1,869.6 L1220.5,870.5 L1220.9,873.3 L1221.2,872.3 L1221.6,882.1 L1222.0,883.8 L1222.4,883.2 L1222.8,870.8 L1223.2,882.9 L1223.6,874.9 L1223.9,885.4 L1224.3,872.4 L1224.7,874.8 L1225.1,874.0 L1225.5,872.2 L1225.9,878.0 L1226.3,874.5 L1226.6,873.0 L1227.0,888.1 L1227.4,889.2 L1227.8,877.9 L1228.2,880.6 L1228.6,886.2 L1228.9,879.1 L1229.3,879.4 L1229.7,884.7 L1230.1,889.6 L1230.5,874.4 L1230.9,882.0 L1231.3,889.5 L1231.6,878.2 L1232.0,877.1 L1232.4,885.5 L1232.8,878.6 L1233.2,890.5 L1233.6,880.2 L1234.0,875.7 L1234.3,879.7 L1234.7,887.7 L1235.1,885.8 L1235.5,881.5 L1235.9,885.6 L1236.3,876.8 L1236.6,880.5 L1237.0,886.5 L1237.4,882.2 L1237.8,892.7 L1238.2,888.4 L1238.6,893.2 L1239.0,888.3 L1239.3,891.0 L1239.7,885.8 L1240.1,888.3 L1240.5,892.9 L1240.9,891.4 L1241.3,887.4 L1241.7,884.3 L1242.0,889.9 L1242.4,887.8 L1242.8,878.9 L1243.2,887.8 L1243.6,886.7 L1244.0,886.6 L1244.3,879.6 L1244.7,892.2 L1245.1,887.4 L1245.5,882.0 L1245.9,886.8 L1246.3,890.3 L1246.7,889.9 L1247.0,893.0 L1247.4,885.5 L1247.8,883.0 L1248.2,885.1 L1248.6,896.4 L1249.0,884.5 L1249.4,885.3 L1249.7,891.5 L1250.1,893.1 L1250.5,882.1 L1250.9,895.5 L1251.3,884.9 L1251.7,893.4 L1252.0,889.0 L1252.4,886.4 L1252.8,883.0 L1253.2,885.3 L1253.6,896.7 L1254.0,883.8 L1254.4,882.1 L1254.7,897.5 L1255.1,893.3 L1255.5,883.6 L1255.9,889.3 L1256.3,897.8 L1256.7,885.4 L1257.1,881.7 L1257.4,895.5 L1257.8,883.8 L1258.2,888.0 L1258.6,888.3 L1259.0,897.8 L1259.4,882.8 L1259.7,882.6 L1260.1,896.9 L1260.5,885.9 L1260.9,893.7 L1261.3,899.1 L1261.7,891.2 L1262.1,886.2 L1262.4,890.7 L1262.8,899.5 L1263.2,886.7 L1263.6,894.1 L1264.0,892.3 L1264.4,895.1 L1264.8,886.4 L1265.1,893.6 L1265.5,889.3 L1265.9,887.4 L1266.3,893.5 L1266.7,889.5 L1267.1,900.3 L1267.4,900.8 L1267.8,892.0 L1268.2,893.3 L1268.6,888.9 L1269.0,898.8 L1269.4,901.8 L1269.8,897.9 L1270.1,890.3 L1270.5,896.0 L1270.9,899.8 L1271.3,896.8 L1271.7,893.2 L1272.1,903.5 L1272.5,894.0 L1272.8,898.5 L1273.2,891.6 L1273.6,893.0 L1274.0,893.8 L1274.4,905.7 L1274.8,898.0 L1275.1,906.1 L1275.5,901.4 L1275.9,904.6 L1276.3,899.8 L1276.7,904.6 L1277.1,903.3 L1277.5,896.5 L1277.8,896.4 L1278.2,897.0 L1278.6,897.8 L1279.0,904.2 L1279.4,909.6 L1279.8,909.4 L1280.2,901.0 L1280.5,894.8 L1280.9,902.1 L1281.3,902.9 L1281.7,896.5 L1282.1,904.4 L1282.5,906.8 L1282.8,894.9 L1283.2,910.3 L1283.6,901.6 L1284.0,907.2 L1284.4,906.0 L1284.8,894.6 L1285.2,898.8 L1285.5,900.7 L1285.9,907.8 L1286.3,894.3 L1286.7,902.1 L1287.1,907.5 L1287.5,900.0 L1287.9,907.5 L1288.2,894.9 L1288.6,902.1 L1289.0,904.0 L1289.4,904.6 L1289.8,905.3 L1290.2,905.5 L1290.5,898.8 L1290.9,905.9 L1291.3,899.7 L1291.7,894.4 L1292.1,896.6 L1292.5,899.8 L1292.9,901.6 L1293.2,903.0 L1293.6,904.5 L1294.0,901.8 L1294.4,892.5 L1294.8,899.6 L1295.2,903.8 L1295.6,904.1 L1295.9,901.3 L1296.3,901.1 L1296.7,902.8 L1297.1,899.5 L1297.5,896.3 L1297.9,897.0 L1298.2,896.7 L1298.6,900.0 L1299.0,895.1 L1299.4,907.5 L1299.8,899.5 L1300.2,895.6 L1300.6,897.4 L1300.9,894.0 L1301.3,907.5 L1301.7,899.4 L1302.1,897.6 L1302.5,904.2 L1302.9,906.9 L1303.3,904.2 L1303.6,898.3 L1304.0,908.4 L1304.4,899.6 L1304.8,900.5 L1305.2,904.1 L1305.6,904.9 L1305.9,898.2 L1306.3,911.8 L1306.7,913.1 L1307.1,905.8 L1307.5,913.1 L1307.9,910.5 L1308.3,912.6 L1308.6,899.4 L1309.0,906.6 L1309.4,910.6 L1309.8,909.6 L1310.2,912.0 L1310.6,909.1 L1311.0,912.2 L1311.3,901.6 L1311.7,906.3 L1312.1,913.8 L1312.5,901.9 L1312.9,908.5 L1313.3,915.5 L1313.6,903.7 L1314.0,905.4 L1314.4,908.2 L1314.8,909.9 L1315.2,905.0 L1315.6,901.2 L1316.0,909.2 L1316.3,903.1 L1316.7,909.1 L1317.1,914.5 L1317.5,907.0 L1317.9,906.1 L1318.3,917.1 L1318.7,915.9 L1319.0,917.6 L1319.4,919.1 L1319.8,914.3 L1320.2,911.8 L1320.6,910.5 L1321.0,912.0 L1321.3,906.7 L1321.7,917.5 L1322.1,904.8 L1322.5,908.0 L1322.9,919.5 L1323.3,919.3 L1323.7,918.3 L1324.0,910.0 L1324.4,910.7 L1324.8,915.6 L1325.2,908.6 L1325.6,913.9 L1326.0,906.4 L1326.4,907.0 L1326.7,914.9 L1327.1,917.3 L1327.5,908.3 L1327.9,916.8 L1328.3,908.7 L1328.7,907.0 L1329.0,915.2 L1329.4,905.0 L1329.8,910.8 L1330.2,907.1 L1330.6,908.9 L1331.0,905.7 L1331.4,909.3 L1331.7,908.8 L1332.1,909.7 L1332.5,914.7 L1332.9,907.1 L1333.3,917.2 L1333.7,911.0 L1334.1,905.5 L1334.4,904.5 L1334.8,904.9 L1335.2,906.8 L1335.6,903.2 L1336.0,903.0 L1336.4,912.7 L1336.7,908.4 L1337.1,917.0 L1337.5,909.4 L1337.9,914.4 L1338.3,905.8 L1338.7,918.1 L1339.1,917.8 L1339.4,910.2 L1339.8,911.8 L1340.2,911.1 L1340.6,911.7 L1341.0,920.7 L1341.4,911.6 L1341.8,914.3 L1342.1,918.3 L1342.5,908.1 L1342.9,909.7 L1343.3,911.1 L1343.7,915.2 L1344.1,919.5 L1344.4,922.3 L1344.8,908.3 L1345.2,915.0 L1345.6,914.7 L1346.0,917.7 L1346.4,915.5 L1346.8,912.0 L1347.1,914.8 L1347.5,908.5 L1347.9,918.6 L1348.3,919.7 L1348.7,907.9 L1349.1,918.7 L1349.5,917.0 L1349.8,910.1 L1350.2,921.8 L1350.6,914.0 L1351.0,917.3 L1351.4,907.5 L1351.8,914.3 L1352.1,914.6 L1352.5,912.7 L1352.9,910.3 L1353.3,918.9 L1353.7,923.7 L1354.1,914.9 L1354.5,917.7 L1354.8,921.9 L1355.2,914.0 L1355.6,914.0 L1356.0,910.3 L1356.4,911.0 L1356.8,922.7 L1357.2,920.4 L1357.5,914.6 L1357.9,926.6 L1358.3,913.6 L1358.7,916.4 L1359.1,922.2 L1359.5,912.9 L1359.8,919.6 L1360.2,923.4 L1360.6,914.1 L1361.0,912.4 L1361.4,925.0 L1361.8,912.0 L1362.2,924.6 L1362.5,916.2 L1362.9,919.5 L1363.3,913.3 L1363.7,911.4 L1364.1,925.9 L1364.5,920.3 L1364.9,913.7 L1365.2,921.3 L1365.6,925.2 L1366.0,920.2 L1366.4,927.4 L1366.8,925.4 L1367.2,914.6 L1367.5,915.0 L1367.9,915.6 L1368.3,927.8 L1368.7,918.2 L1369.1,921.4 L1369.5,917.9 L1369.9,923.2 L1370.2,924.0 L1370.6,913.8 L1371.0,917.7 L1371.4,918.8 L1371.8,920.9 L1372.2,924.4 L1372.6,922.2 L1372.9,914.9 L1373.3,915.5 L1373.7,927.8 L1374.1,916.5 L1374.5,918.3 L1374.9,918.4 L1375.2,923.7 L1375.6,913.5 L1376.0,919.6 L1376.4,915.0 L1376.8,927.4 L1377.2,920.5 L1377.6,924.6 L1377.9,921.7 L1378.3,922.8 L1378.7,918.9 L1379.1,925.5 L1379.5,920.1 L1379.9,921.8 L1380.3,915.6 L1380.6,922.5 L1381.0,920.6 L1381.4,921.8 L1381.8,910.5 L1382.2,924.1 L1382.6,922.5 L1382.9,911.1 L1383.3,919.2 L1383.7,912.9 L1384.1,923.7 L1384.5,922.6 L1384.9,915.1 L1385.3,922.2 L1385.6,921.0 L1386.0,919.1 L1386.4,915.0 L1386.8,922.6 L1387.2,924.4 L1387.6,919.3 L1388.0,914.8 L1388.3,912.9 L1388.7,917.0 L1389.1,921.3 L1389.5,911.7 L1389.9,922.0 L1390.3,914.9 L1390.6,915.3 L1391.0,917.3 L1391.4,919.7 L1391.8,925.2 L1392.2,919.6 L1392.6,929.0 L1393.0,913.9 L1393.3,921.0 L1393.7,922.0 L1394.1,914.4 L1394.5,916.0" fill="none" stroke="#1A6FDF" stroke-width="9" stroke-linejoin="round" stroke-linecap="round"/><path d="M162.5,920.6 L162.9,917.5 L163.3,920.0 L163.7,912.2 L164.0,915.4 L164.4,912.4 L164.8,920.2 L165.2,909.0 L165.6,915.9 L166.0,913.4 L166.3,911.2 L166.7,912.3 L167.1,909.2 L167.5,919.1 L167.9,911.3 L168.3,908.6 L168.7,910.7 L169.0,910.3 L169.4,919.0 L169.8,917.4 L170.2,908.0 L170.6,916.2 L171.0,912.2 L171.4,912.9 L171.7,907.6 L172.1,915.8 L172.5,916.8 L172.9,913.7 L173.3,909.7 L173.7,916.7 L174.0,918.7 L174.4,917.1 L174.8,910.6 L175.2,918.4 L175.6,912.2 L176.0,907.5 L176.4,908.7 L176.7,916.7 L177.1,919.9 L177.5,919.8 L177.9,910.2 L178.3,910.1 L178.7,918.9 L179.1,912.5 L179.4,918.2 L179.8,916.9 L180.2,914.1 L180.6,908.8 L181.0,920.3 L181.4,912.0 L181.7,909.9 L182.1,915.2 L182.5,909.6 L182.9,916.3 L183.3,920.7 L183.7,915.8 L184.1,914.7 L184.4,913.2 L184.8,920.2 L185.2,920.2 L185.6,918.9 L186.0,918.6 L186.4,917.7 L186.8,912.3 L187.1,915.6 L187.5,908.9 L187.9,908.8 L188.3,908.6 L188.7,909.1 L189.1,907.2 L189.4,912.9 L189.8,914.7 L190.2,914.3 L190.6,918.4 L191.0,917.8 L191.4,907.6 L191.8,910.9 L192.1,908.7 L192.5,908.7 L192.9,909.3 L193.3,915.3 L193.7,919.5 L194.1,914.6 L194.5,907.7 L194.8,918.7 L195.2,913.4 L195.6,918.2 L196.0,909.9 L196.4,909.6 L196.8,918.9 L197.1,912.4 L197.5,907.9 L197.9,916.5 L198.3,914.2 L198.7,914.9 L199.1,915.5 L199.5,914.0 L199.8,917.7 L200.2,913.8 L200.6,914.5 L201.0,908.0 L201.4,914.9 L201.8,908.1 L202.2,910.5 L202.5,907.7 L202.9,907.1 L203.3,907.9 L203.7,912.8 L204.1,909.9 L204.5,916.1 L204.8,905.9 L205.2,906.9 L205.6,911.4 L206.0,907.0 L206.4,909.0 L206.8,916.2 L207.2,913.0 L207.5,916.0 L207.9,908.5 L208.3,905.7 L208.7,914.5 L209.1,914.9 L209.5,915.4 L209.9,909.7 L210.2,903.8 L210.6,904.1 L211.0,907.8 L211.4,912.0 L211.8,905.1 L212.2,916.1 L212.5,910.2 L212.9,909.1 L213.3,904.0 L213.7,912.3 L214.1,904.2 L214.5,911.7 L214.9,904.5 L215.2,909.1 L215.6,912.5 L216.0,909.7 L216.4,908.9 L216.8,911.7 L217.2,915.2 L217.6,916.7 L217.9,910.3 L218.3,905.0 L218.7,915.6 L219.1,913.6 L219.5,910.1 L219.9,914.6 L220.2,911.5 L220.6,906.1 L221.0,911.6 L221.4,906.7 L221.8,905.3 L222.2,905.8 L222.6,912.5 L222.9,908.1 L223.3,912.6 L223.7,907.3 L224.1,908.8 L224.5,908.3 L224.9,913.4 L225.3,912.5 L225.6,904.8 L226.0,906.1 L226.4,911.9 L226.8,907.0 L227.2,914.9 L227.6,911.9 L227.9,910.4 L228.3,908.3 L228.7,906.6 L229.1,914.1 L229.5,909.3 L229.9,911.9 L230.3,901.8 L230.6,913.4 L231.0,909.7 L231.4,910.3 L231.8,911.8 L232.2,909.9 L232.6,910.7 L233.0,905.4 L233.3,905.8 L233.7,904.2 L234.1,899.9 L234.5,907.6 L234.9,901.5 L235.3,903.4 L235.6,902.1 L236.0,903.3 L236.4,911.4 L236.8,900.1 L237.2,904.2 L237.6,899.6 L238.0,900.2 L238.3,911.5 L238.7,908.7 L239.1,906.1 L239.5,901.3 L239.9,910.1 L240.3,904.4 L240.7,909.3 L241.0,907.0 L241.4,908.1 L241.8,910.5 L242.2,900.9 L242.6,903.7 L243.0,900.4 L243.3,909.9 L243.7,903.9 L244.1,905.0 L244.5,900.8 L244.9,909.8 L245.3,909.3 L245.7,907.1 L246.0,899.7 L246.4,909.7 L246.8,906.0 L247.2,909.0 L247.6,912.1 L248.0,902.0 L248.4,907.1 L248.7,908.0 L249.1,901.3 L249.5,904.4 L249.9,900.5 L250.3,910.5 L250.7,902.9 L251.0,911.1 L251.4,903.2 L251.8,907.4 L252.2,901.8 L252.6,908.7 L253.0,903.0 L253.4,908.9 L253.7,912.4 L254.1,905.7 L254.5,910.5 L254.9,903.7 L255.3,903.5 L255.7,908.8 L256.1,911.4 L256.4,903.5 L256.8,902.2 L257.2,902.0 L257.6,904.2 L258.0,911.5 L258.4,903.0 L258.7,908.8 L259.1,907.4 L259.5,910.4 L259.9,903.8 L260.3,900.9 L260.7,908.5 L261.1,910.5 L261.4,906.6 L261.8,910.0 L262.2,910.4 L262.6,906.0 L263.0,906.0 L263.4,911.3 L263.8,899.0 L264.1,898.3 L264.5,900.2 L264.9,906.5 L265.3,901.9 L265.7,898.0 L266.1,899.3 L266.4,896.9 L266.8,899.7 L267.2,904.8 L267.6,905.2 L268.0,905.5 L268.4,895.8 L268.8,903.1 L269.1,900.5 L269.5,898.3 L269.9,907.3 L270.3,904.2 L270.7,896.1 L271.1,901.8 L271.5,903.5 L271.8,898.9 L272.2,904.3 L272.6,897.2 L273.0,898.4 L273.4,895.3 L273.8,904.1 L274.1,904.7 L274.5,897.5 L274.9,899.1 L275.3,894.4 L275.7,894.1 L276.1,894.3 L276.5,905.4 L276.8,896.3 L277.2,895.4 L277.6,896.9 L278.0,902.3 L278.4,900.1 L278.8,899.4 L279.2,903.5 L279.5,897.2 L279.9,902.5 L280.3,902.3 L280.7,896.9 L281.1,900.7 L281.5,894.7 L281.8,905.1 L282.2,893.0 L282.6,896.2 L283.0,901.0 L283.4,899.6 L283.8,893.4 L284.2,892.4 L284.5,900.7 L284.9,895.9 L285.3,898.1 L285.7,894.7 L286.1,893.9 L286.5,897.8 L286.9,901.0 L287.2,900.9 L287.6,891.6 L288.0,895.9 L288.4,890.6 L288.8,890.1 L289.2,891.0 L289.5,897.7 L289.9,886.9 L290.3,893.9 L290.7,886.6 L291.1,898.6 L291.5,888.8 L291.9,887.1 L292.2,887.3 L292.6,889.5 L293.0,885.0 L293.4,894.6 L293.8,892.1 L294.2,895.0 L294.6,887.8 L294.9,891.1 L295.3,888.4 L295.7,897.7 L296.1,898.3 L296.5,898.1 L296.9,888.4 L297.2,892.8 L297.6,899.0 L298.0,899.4 L298.4,890.9 L298.8,898.2 L299.2,892.1 L299.6,898.4 L299.9,889.7 L300.3,897.1 L300.7,891.8 L301.1,897.7 L301.5,901.5 L301.9,899.5 L302.3,891.3 L302.6,897.0 L303.0,892.4 L303.4,898.9 L303.8,895.5 L304.2,893.9 L304.6,891.0 L304.9,888.6 L305.3,895.7 L305.7,896.5 L306.1,897.3 L306.5,891.0 L306.9,891.2 L307.3,896.1 L307.6,896.8 L308.0,897.8 L308.4,897.4 L308.8,888.9 L309.2,888.3 L309.6,892.2 L310.0,888.1 L310.3,891.0 L310.7,890.0 L311.1,886.4 L311.5,891.6 L311.9,890.8 L312.3,884.8 L312.6,884.8 L313.0,889.4 L313.4,890.8 L313.8,896.8 L314.2,891.1 L314.6,893.1 L315.0,891.0 L315.3,893.5 L315.7,883.8 L316.1,893.3 L316.5,887.7 L316.9,895.8 L317.3,890.9 L317.7,883.3 L318.0,891.0 L318.4,894.4 L318.8,886.5 L319.2,883.8 L319.6,893.9 L320.0,886.1 L320.3,892.7 L320.7,883.3 L321.1,885.5 L321.5,882.4 L321.9,880.4 L322.3,882.6 L322.7,881.7 L323.0,886.1 L323.4,887.4 L323.8,879.2 L324.2,887.0 L324.6,879.5 L325.0,884.6 L325.4,890.1 L325.7,882.7 L326.1,880.8 L326.5,890.3 L326.9,878.1 L327.3,886.6 L327.7,885.1 L328.0,881.4 L328.4,883.5 L328.8,884.8 L329.2,878.6 L329.6,889.4 L330.0,881.9 L330.4,890.9 L330.7,881.2 L331.1,881.8 L331.5,885.7 L331.9,885.5 L332.3,883.3 L332.7,878.8 L333.1,888.0 L333.4,884.8 L333.8,883.5 L334.2,884.3 L334.6,885.3 L335.0,881.7 L335.4,883.1 L335.7,879.3 L336.1,880.9 L336.5,875.3 L336.9,874.7 L337.3,877.9 L337.7,873.0 L338.1,877.2 L338.4,878.6 L338.8,875.1 L339.2,871.0 L339.6,874.4 L340.0,870.7 L340.4,876.1 L340.8,871.7 L341.1,872.5 L341.5,870.9 L341.9,873.2 L342.3,876.9 L342.7,878.1 L343.1,877.0 L343.4,876.9 L343.8,872.1 L344.2,872.5 L344.6,869.1 L345.0,864.9 L345.4,871.7 L345.8,872.7 L346.1,868.7 L346.5,869.8 L346.9,875.7 L347.3,865.9 L347.7,871.3 L348.1,868.6 L348.5,867.0 L348.8,863.3 L349.2,871.2 L349.6,869.2 L350.0,864.0 L350.4,863.0 L350.8,865.7 L351.1,864.4 L351.5,874.5 L351.9,867.4 L352.3,870.8 L352.7,866.9 L353.1,866.4 L353.5,869.3 L353.8,863.5 L354.2,864.1 L354.6,873.9 L355.0,863.3 L355.4,865.2 L355.8,863.8 L356.2,870.7 L356.5,869.3 L356.9,864.6 L357.3,862.8 L357.7,869.9 L358.1,864.6 L358.5,868.1 L358.8,866.7 L359.2,866.2 L359.6,867.2 L360.0,860.3 L360.4,860.7 L360.8,870.6 L361.2,870.1 L361.5,869.5 L361.9,868.3 L362.3,867.0 L362.7,866.9 L363.1,865.5 L363.5,863.9 L363.9,859.4 L364.2,860.8 L364.6,866.7 L365.0,859.4 L365.4,860.3 L365.8,867.5 L366.2,856.1 L366.5,864.4 L366.9,860.4 L367.3,859.9 L367.7,865.6 L368.1,864.2 L368.5,863.5 L368.9,853.4 L369.2,853.4 L369.6,853.3 L370.0,861.3 L370.4,858.7 L370.8,856.6 L371.2,862.6 L371.6,861.1 L371.9,856.3 L372.3,860.7 L372.7,855.8 L373.1,854.7 L373.5,860.8 L373.9,850.8 L374.2,855.5 L374.6,854.1 L375.0,851.4 L375.4,848.4 L375.8,857.4 L376.2,856.9 L376.6,850.7 L376.9,847.0 L377.3,855.3 L377.7,851.5 L378.1,856.7 L378.5,856.7 L378.9,844.3 L379.3,846.1 L379.6,846.7 L380.0,854.6 L380.4,845.8 L380.8,845.2 L381.2,849.7 L381.6,843.3 L381.9,840.4 L382.3,849.7 L382.7,852.1 L383.1,848.4 L383.5,843.0 L383.9,839.7 L384.3,838.8 L384.6,840.3 L385.0,842.7 L385.4,847.7 L385.8,846.0 L386.2,847.2 L386.6,842.2 L387.0,848.1 L387.3,838.6 L387.7,840.2 L388.1,837.8 L388.5,838.5 L388.9,838.5 L389.3,842.5 L389.6,834.3 L390.0,835.5 L390.4,843.3 L390.8,841.2 L391.2,842.3 L391.6,834.2 L392.0,836.5 L392.3,838.8 L392.7,832.0 L393.1,839.2 L393.5,827.2 L393.9,827.0 L394.3,837.6 L394.7,829.5 L395.0,829.9 L395.4,833.4 L395.8,832.5 L396.2,824.1 L396.6,835.2 L397.0,824.2 L397.3,829.3 L397.7,828.3 L398.1,828.6 L398.5,824.8 L398.9,832.3 L399.3,831.5 L399.7,832.7 L400.0,827.9 L400.4,832.9 L400.8,820.4 L401.2,827.0 L401.6,827.8 L402.0,819.8 L402.4,820.4 L402.7,828.4 L403.1,830.0 L403.5,821.2 L403.9,825.5 L404.3,819.0 L404.7,824.4 L405.0,825.0 L405.4,822.5 L405.8,827.5 L406.2,825.3 L406.6,825.2 L407.0,817.5 L407.4,822.4 L407.7,815.3 L408.1,813.2 L408.5,818.7 L408.9,822.3 L409.3,824.1 L409.7,811.2 L410.1,821.7 L410.4,812.9 L410.8,821.8 L411.2,809.4 L411.6,813.6 L412.0,811.8 L412.4,811.8 L412.7,816.2 L413.1,817.2 L413.5,807.2 L413.9,810.3 L414.3,809.5 L414.7,814.9 L415.1,803.4 L415.4,806.2 L415.8,809.3 L416.2,813.8 L416.6,807.8 L417.0,800.8 L417.4,803.3 L417.8,812.6 L418.1,802.7 L418.5,800.7 L418.9,808.4 L419.3,800.2 L419.7,798.0 L420.1,804.9 L420.4,808.6 L420.8,804.6 L421.2,797.3 L421.6,802.7 L422.0,804.5 L422.4,802.2 L422.8,796.5 L423.1,798.9 L423.5,804.8 L423.9,801.5 L424.3,801.3 L424.7,794.3 L425.1,796.9 L425.5,802.1 L425.8,802.2 L426.2,797.0 L426.6,793.8 L427.0,793.3 L427.4,795.4 L427.8,794.5 L428.1,795.4 L428.5,796.9 L428.9,794.1 L429.3,789.2 L429.7,793.4 L430.1,784.7 L430.5,788.8 L430.8,793.6 L431.2,789.1 L431.6,792.4 L432.0,792.5 L432.4,792.3 L432.8,791.0 L433.2,790.3 L433.5,779.5 L433.9,791.2 L434.3,785.2 L434.7,781.9 L435.1,788.8 L435.5,784.6 L435.8,782.9 L436.2,781.2 L436.6,777.8 L437.0,779.2 L437.4,778.4 L437.8,780.9 L438.2,783.1 L438.5,774.3 L438.9,775.3 L439.3,774.7 L439.7,773.2 L440.1,767.8 L440.5,769.5 L440.9,772.4 L441.2,775.6 L441.6,775.5 L442.0,769.3 L442.4,766.0 L442.8,766.9 L443.2,765.1 L443.5,773.6 L443.9,772.9 L444.3,765.9 L444.7,762.5 L445.1,769.5 L445.5,758.4 L445.9,764.7 L446.2,769.7 L446.6,762.1 L447.0,756.3 L447.4,755.9 L447.8,755.5 L448.2,761.9 L448.6,755.3 L448.9,761.8 L449.3,753.9 L449.7,758.0 L450.1,759.1 L450.5,762.9 L450.9,757.6 L451.2,753.1 L451.6,758.8 L452.0,754.6 L452.4,756.7 L452.8,757.1 L453.2,754.1 L453.6,755.8 L453.9,749.3 L454.3,747.6 L454.7,751.2 L455.1,753.7 L455.5,750.0 L455.9,751.7 L456.3,744.4 L456.6,740.5 L457.0,750.8 L457.4,745.1 L457.8,743.9 L458.2,749.5 L458.6,736.4 L458.9,747.6 L459.3,747.2 L459.7,747.3 L460.1,742.6 L460.5,738.2 L460.9,739.5 L461.3,740.4 L461.6,742.3 L462.0,733.9 L462.4,741.3 L462.8,738.2 L463.2,734.7 L463.6,743.0 L464.0,740.8 L464.3,736.2 L464.7,738.2 L465.1,738.7 L465.5,727.6 L465.9,739.7 L466.3,735.0 L466.6,736.3 L467.0,735.0 L467.4,724.7 L467.8,731.9 L468.2,728.1 L468.6,726.9 L469.0,722.2 L469.3,721.1 L469.7,727.9 L470.1,722.7 L470.5,729.2 L470.9,720.7 L471.3,725.3 L471.7,727.4 L472.0,716.3 L472.4,712.4 L472.8,715.6 L473.2,713.6 L473.6,710.8 L474.0,718.0 L474.3,710.0 L474.7,714.5 L475.1,713.3 L475.5,718.5 L475.9,715.0 L476.3,712.8 L476.7,710.2 L477.0,714.1 L477.4,703.7 L477.8,704.7 L478.2,714.2 L478.6,714.3 L479.0,714.6 L479.4,712.3 L479.7,704.0 L480.1,710.7 L480.5,705.3 L480.9,705.2 L481.3,699.2 L481.7,705.7 L482.0,708.2 L482.4,703.5 L482.8,704.9 L483.2,707.8 L483.6,696.8 L484.0,703.3 L484.4,707.2 L484.7,695.0 L485.1,694.4 L485.5,699.8 L485.9,693.7 L486.3,697.0 L486.7,694.9 L487.1,696.2 L487.4,700.2 L487.8,688.4 L488.2,700.5 L488.6,699.7 L489.0,693.5 L489.4,696.3 L489.7,687.0 L490.1,685.8 L490.5,692.7 L490.9,694.9 L491.3,687.9 L491.7,689.6 L492.1,680.6 L492.4,688.3 L492.8,684.3 L493.2,679.0 L493.6,679.0 L494.0,688.7 L494.4,683.9 L494.8,681.8 L495.1,677.9 L495.5,675.8 L495.9,674.6 L496.3,678.2 L496.7,674.6 L497.1,673.2 L497.4,683.2 L497.8,670.9 L498.2,679.4 L498.6,683.4 L499.0,679.6 L499.4,674.1 L499.8,677.4 L500.1,674.1 L500.5,671.1 L500.9,677.2 L501.3,678.3 L501.7,670.6 L502.1,679.4 L502.5,667.6 L502.8,668.5 L503.2,674.8 L503.6,672.2 L504.0,668.5 L504.4,665.7 L504.8,664.0 L505.1,670.0 L505.5,670.6 L505.9,674.7 L506.3,661.2 L506.7,670.5 L507.1,670.5 L507.5,660.7 L507.8,661.9 L508.2,664.8 L508.6,662.1 L509.0,657.5 L509.4,663.2 L509.8,668.3 L510.2,654.9 L510.5,654.8 L510.9,655.2 L511.3,664.4 L511.7,662.4 L512.1,665.3 L512.5,657.6 L512.8,652.1 L513.2,657.0 L513.6,662.6 L514.0,662.0 L514.4,652.9 L514.8,659.8 L515.2,652.1 L515.5,654.1 L515.9,656.5 L516.3,655.2 L516.7,649.5 L517.1,647.0 L517.5,657.4 L517.9,648.1 L518.2,649.5 L518.6,654.1 L519.0,653.8 L519.4,653.0 L519.8,642.1 L520.2,644.4 L520.5,653.6 L520.9,647.0 L521.3,641.5 L521.7,647.8 L522.1,643.5 L522.5,644.0 L522.9,640.4 L523.2,644.9 L523.6,636.1 L524.0,642.7 L524.4,636.1 L524.8,639.9 L525.2,633.0 L525.6,639.6 L525.9,636.4 L526.3,628.3 L526.7,636.8 L527.1,634.5 L527.5,628.2 L527.9,628.0 L528.2,634.8 L528.6,627.7 L529.0,622.0 L529.4,632.9 L529.8,629.0 L530.2,633.5 L530.6,624.6 L530.9,632.2 L531.3,627.7 L531.7,630.2 L532.1,622.1 L532.5,629.7 L532.9,627.8 L533.3,622.0 L533.6,629.6 L534.0,622.5 L534.4,627.2 L534.8,626.4 L535.2,614.4 L535.6,626.3 L535.9,623.0 L536.3,620.9 L536.7,614.9 L537.1,621.2 L537.5,621.1 L537.9,618.1 L538.3,612.4 L538.6,606.3 L539.0,610.7 L539.4,617.4 L539.8,611.2 L540.2,607.7 L540.6,603.0 L541.0,599.4 L541.3,610.3 L541.7,599.8 L542.1,600.2 L542.5,599.9 L542.9,600.2 L543.3,597.9 L543.6,601.5 L544.0,604.1 L544.4,600.4 L544.8,602.6 L545.2,591.1 L545.6,597.4 L546.0,587.4 L546.3,591.3 L546.7,588.7 L547.1,590.4 L547.5,584.6 L547.9,585.3 L548.3,593.4 L548.7,584.8 L549.0,582.0 L549.4,583.0 L549.8,580.3 L550.2,581.7 L550.6,584.1 L551.0,588.7 L551.3,585.5 L551.7,577.9 L552.1,583.0 L552.5,575.5 L552.9,573.8 L553.3,570.2 L553.7,570.5 L554.0,568.3 L554.4,577.5 L554.8,578.4 L555.2,566.8 L555.6,572.8 L556.0,563.6 L556.4,564.8 L556.7,559.8 L557.1,569.8 L557.5,567.6 L557.9,560.7 L558.3,568.9 L558.7,558.1 L559.0,558.7 L559.4,558.3 L559.8,562.9 L560.2,552.3 L560.6,561.0 L561.0,550.9 L561.4,548.4 L561.7,555.3 L562.1,545.7 L562.5,553.9 L562.9,551.0 L563.3,543.9 L563.7,541.9 L564.1,540.3 L564.4,541.2 L564.8,550.5 L565.2,537.5 L565.6,536.0 L566.0,534.2 L566.4,541.3 L566.7,543.0 L567.1,532.2 L567.5,538.6 L567.9,535.3 L568.3,527.0 L568.7,535.7 L569.1,532.8 L569.4,530.5 L569.8,522.0 L570.2,518.4 L570.6,528.0 L571.0,524.9 L571.4,516.5 L571.8,523.1 L572.1,516.4 L572.5,517.2 L572.9,510.5 L573.3,517.5 L573.7,512.5 L574.1,510.3 L574.4,516.8 L574.8,515.2 L575.2,512.0 L575.6,513.1 L576.0,506.9 L576.4,503.1 L576.8,503.1 L577.1,499.7 L577.5,499.4 L577.9,496.3 L578.3,493.1 L578.7,503.7 L579.1,501.8 L579.5,501.0 L579.8,492.1 L580.2,496.6 L580.6,490.5 L581.0,492.3 L581.4,488.9 L581.8,487.4 L582.1,484.0 L582.5,491.1 L582.9,483.1 L583.3,485.0 L583.7,480.3 L584.1,481.5 L584.5,486.0 L584.8,478.8 L585.2,476.3 L585.6,470.6 L586.0,475.2 L586.4,476.9 L586.8,479.5 L587.2,476.6 L587.5,464.2 L587.9,469.0 L588.3,462.6 L588.7,473.2 L589.1,471.4 L589.5,459.7 L589.8,470.5 L590.2,463.0 L590.6,459.1 L591.0,459.6 L591.4,456.5 L591.8,464.3 L592.2,455.8 L592.5,454.8 L592.9,450.1 L593.3,453.3 L593.7,454.4 L594.1,451.4 L594.5,454.5 L594.9,444.5 L595.2,446.7 L595.6,449.4 L596.0,442.0 L596.4,446.5 L596.8,442.8 L597.2,434.9 L597.5,434.9 L597.9,441.2 L598.3,443.0 L598.7,435.1 L599.1,430.9 L599.5,431.5 L599.9,434.5 L600.2,431.1 L600.6,426.5 L601.0,435.7 L601.4,437.7 L601.8,427.1 L602.2,423.7 L602.6,427.7 L602.9,430.9 L603.3,428.9 L603.7,433.7 L604.1,421.8 L604.5,417.3 L604.9,428.3 L605.2,420.7 L605.6,421.6 L606.0,417.4 L606.4,411.2 L606.8,412.0 L607.2,413.5 L607.6,420.8 L607.9,415.1 L608.3,413.9 L608.7,406.9 L609.1,414.3 L609.5,411.6 L609.9,412.2 L610.3,402.5 L610.6,411.3 L611.0,404.5 L611.4,403.4 L611.8,394.0 L612.2,405.2 L612.6,394.1 L612.9,397.3 L613.3,398.3 L613.7,401.7 L614.1,395.5 L614.5,386.2 L614.9,388.7 L615.3,396.7 L615.6,396.3 L616.0,389.3 L616.4,386.9 L616.8,381.7 L617.2,380.6 L617.6,381.0 L618.0,391.1 L618.3,385.5 L618.7,387.9 L619.1,381.3 L619.5,386.0 L619.9,382.3 L620.3,374.4 L620.6,382.6 L621.0,372.1 L621.4,374.6 L621.8,378.4 L622.2,370.8 L622.6,369.9 L623.0,372.5 L623.3,364.6 L623.7,364.6 L624.1,365.9 L624.5,363.5 L624.9,360.0 L625.3,362.4 L625.7,358.8 L626.0,361.3 L626.4,360.8 L626.8,360.7 L627.2,359.2 L627.6,351.3 L628.0,357.1 L628.3,353.0 L628.7,355.0 L629.1,351.1 L629.5,357.4 L629.9,358.1 L630.3,352.4 L630.7,353.1 L631.0,343.3 L631.4,343.7 L631.8,341.7 L632.2,346.5 L632.6,343.4 L633.0,341.1 L633.4,347.1 L633.7,349.5 L634.1,335.8 L634.5,335.7 L634.9,348.1 L635.3,345.9 L635.7,335.3 L636.0,337.3 L636.4,334.6 L636.8,338.6 L637.2,341.8 L637.6,341.8 L638.0,330.2 L638.4,335.0 L638.7,334.7 L639.1,332.8 L639.5,330.9 L639.9,336.3 L640.3,338.4 L640.7,325.0 L641.1,335.4 L641.4,326.1 L641.8,329.7 L642.2,330.6 L642.6,320.8 L643.0,322.9 L643.4,321.3 L643.7,327.7 L644.1,320.2 L644.5,324.5 L644.9,317.5 L645.3,314.6 L645.7,325.3 L646.1,313.3 L646.4,319.1 L646.8,322.7 L647.2,311.7 L647.6,309.0 L648.0,316.7 L648.4,309.0 L648.8,308.5 L649.1,308.9 L649.5,303.0 L649.9,304.5 L650.3,306.5 L650.7,299.1 L651.1,312.6 L651.4,302.4 L651.8,301.2 L652.2,300.3 L652.6,298.0 L653.0,301.7 L653.4,306.4 L653.8,298.0 L654.1,305.6 L654.5,293.1 L654.9,294.3 L655.3,302.5 L655.7,292.5 L656.1,299.0 L656.5,289.3 L656.8,299.7 L657.2,298.9 L657.6,292.5 L658.0,290.7 L658.4,290.0 L658.8,294.9 L659.1,294.0 L659.5,285.9 L659.9,281.5 L660.3,276.2 L660.7,277.7 L661.1,283.7 L661.5,280.5 L661.8,275.5 L662.2,280.7 L662.6,275.7 L663.0,278.0 L663.4,272.1 L663.8,276.9 L664.2,280.0 L664.5,273.9 L664.9,273.2 L665.3,270.4 L665.7,273.6 L666.1,272.1 L666.5,264.0 L666.8,263.3 L667.2,273.4 L667.6,265.4 L668.0,260.3 L668.4,270.1 L668.8,263.0 L669.2,266.2 L669.5,259.9 L669.9,261.0 L670.3,256.5 L670.7,255.4 L671.1,263.0 L671.5,257.1 L671.9,260.7 L672.2,245.9 L672.6,258.9 L673.0,255.9 L673.4,256.2 L673.8,255.5 L674.2,248.4 L674.5,252.4 L674.9,244.6 L675.3,240.2 L675.7,241.9 L676.1,249.5 L676.5,249.8 L676.9,250.6 L677.2,241.2 L677.6,250.0 L678.0,235.7 L678.4,237.9 L678.8,238.8 L679.2,234.8 L679.6,248.8 L679.9,246.1 L680.3,239.8 L680.7,236.4 L681.1,244.0 L681.5,236.4 L681.9,242.7 L682.2,236.7 L682.6,239.1 L683.0,227.8 L683.4,226.9 L683.8,224.7 L684.2,230.0 L684.6,232.7 L684.9,222.4 L685.3,226.5 L685.7,230.0 L686.1,230.5 L686.5,225.2 L686.9,219.2 L687.3,220.3 L687.6,220.9 L688.0,226.1 L688.4,217.3 L688.8,209.5 L689.2,221.4 L689.6,211.5 L689.9,221.8 L690.3,211.1 L690.7,216.0 L691.1,211.0 L691.5,212.0 L691.9,216.3 L692.3,208.2 L692.6,213.8 L693.0,205.1 L693.4,208.1 L693.8,219.5 L694.2,207.6 L694.6,209.9 L695.0,204.2 L695.3,208.3 L695.7,207.3 L696.1,206.8 L696.5,212.3 L696.9,207.7 L697.3,201.1 L697.6,211.7 L698.0,207.4 L698.4,200.6 L698.8,198.4 L699.2,208.6 L699.6,206.3 L700.0,198.0 L700.3,197.0 L700.7,203.8 L701.1,205.3 L701.5,205.2 L701.9,191.3 L702.3,189.8 L702.7,203.9 L703.0,197.5 L703.4,198.6 L703.8,195.7 L704.2,193.4 L704.6,193.7 L705.0,191.7 L705.3,191.7 L705.7,191.1 L706.1,184.9 L706.5,194.2 L706.9,195.4 L707.3,185.0 L707.7,190.6 L708.0,196.8 L708.4,186.7 L708.8,189.2 L709.2,186.7 L709.6,193.8 L710.0,184.2 L710.4,195.3 L710.7,185.4 L711.1,193.3 L711.5,184.7 L711.9,185.3 L712.3,185.8 L712.7,187.1 L713.0,185.7 L713.4,185.2 L713.8,186.1 L714.2,195.8 L714.6,191.0 L715.0,182.7 L715.4,195.6 L715.7,192.6 L716.1,181.7 L716.5,180.3 L716.9,181.2 L717.3,182.1 L717.7,183.1 L718.1,186.9 L718.4,184.4 L718.8,185.2 L719.2,181.4 L719.6,177.9 L720.0,178.7 L720.4,169.8 L720.7,171.4 L721.1,174.8 L721.5,180.7 L721.9,177.7 L722.3,179.0 L722.7,176.7 L723.1,173.0 L723.4,175.6 L723.8,174.1 L724.2,160.8 L724.6,168.1 L725.0,172.7 L725.4,160.5 L725.8,166.0 L726.1,158.0 L726.5,161.9 L726.9,161.3 L727.3,158.3 L727.7,169.4 L728.1,161.8 L728.4,156.9 L728.8,169.0 L729.2,158.3 L729.6,160.6 L730.0,165.2 L730.4,165.3 L730.8,152.9 L731.1,154.0 L731.5,153.8 L731.9,166.7 L732.3,157.0 L732.7,159.5 L733.1,166.5 L733.5,155.1 L733.8,165.6 L734.2,154.7 L734.6,164.5 L735.0,152.1 L735.4,155.4 L735.8,158.8 L736.1,159.7 L736.5,156.8 L736.9,164.4 L737.3,151.3 L737.7,152.5 L738.1,151.3 L738.5,149.9 L738.8,153.9 L739.2,154.5 L739.6,151.7 L740.0,157.6 L740.4,149.1 L740.8,158.9 L741.2,152.5 L741.5,153.3 L741.9,148.6 L742.3,146.8 L742.7,155.4 L743.1,152.2 L743.5,153.6 L743.8,154.0 L744.2,144.0 L744.6,148.2 L745.0,146.0 L745.4,154.9 L745.8,143.8 L746.2,144.1 L746.5,152.5 L746.9,151.8 L747.3,146.4 L747.7,145.1 L748.1,149.3 L748.5,140.2 L748.9,141.4 L749.2,147.6 L749.6,152.9 L750.0,150.4 L750.4,150.0 L750.8,144.2 L751.2,144.9 L751.5,138.5 L751.9,145.0 L752.3,147.4 L752.7,145.4 L753.1,141.1 L753.5,141.9 L753.9,139.6 L754.2,146.9 L754.6,143.8 L755.0,140.6 L755.4,151.3 L755.8,144.9 L756.2,141.4 L756.6,138.6 L756.9,135.8 L757.3,149.3 L757.7,135.1 L758.1,149.3 L758.5,137.7 L758.9,148.5 L759.2,147.8 L759.6,143.4 L760.0,136.0 L760.4,143.9 L760.8,148.6 L761.2,140.6 L761.6,142.3 L761.9,146.5 L762.3,148.1 L762.7,136.4 L763.1,142.9 L763.5,143.3 L763.9,141.1 L764.3,146.6 L764.6,136.9 L765.0,139.1 L765.4,144.9 L765.8,138.4 L766.2,141.4 L766.6,142.0 L766.9,140.1 L767.3,134.0 L767.7,146.7 L768.1,146.3 L768.5,141.1 L768.9,141.8 L769.3,138.1 L769.6,133.2 L770.0,136.5 L770.4,137.9 L770.8,132.8 L771.2,130.7 L771.6,126.5 L772.0,130.4 L772.3,125.5 L772.7,138.8 L773.1,126.5 L773.5,136.1 L773.9,133.8 L774.3,121.7 L774.6,121.7 L775.0,130.8 L775.4,123.2 L775.8,128.6 L776.2,133.3 L776.6,134.5 L777.0,130.0 L777.3,131.2 L777.7,127.0 L778.1,126.1 L778.5,120.7 L778.9,129.2 L779.3,124.5 L779.7,124.7 L780.0,131.1 L780.4,135.8 L780.8,127.2 L781.2,123.5 L781.6,130.9 L782.0,134.8 L782.3,135.8 L782.7,133.5 L783.1,122.4 L783.5,124.5 L783.9,123.6 L784.3,135.1 L784.7,132.9 L785.0,128.2 L785.4,136.3 L785.8,137.8 L786.2,138.2 L786.6,132.7 L787.0,131.4 L787.4,136.6 L787.7,129.7 L788.1,134.1 L788.5,137.4 L788.9,140.4 L789.3,133.2 L789.7,139.0 L790.0,132.1 L790.4,131.0 L790.8,136.3 L791.2,135.3 L791.6,141.0 L792.0,135.7 L792.4,144.2 L792.7,147.1 L793.1,139.4 L793.5,139.7 L793.9,145.5 L794.3,140.3 L794.7,136.8 L795.1,146.8 L795.4,140.0 L795.8,144.0 L796.2,145.9 L796.6,136.0 L797.0,140.8 L797.4,150.7 L797.7,139.6 L798.1,138.4 L798.5,143.8 L798.9,150.2 L799.3,139.4 L799.7,145.2 L800.1,139.1 L800.4,145.8 L800.8,145.4 L801.2,141.2 L801.6,148.8 L802.0,139.4 L802.4,149.6 L802.8,140.5 L803.1,142.4 L803.5,150.6 L803.9,144.4 L804.3,147.3 L804.7,151.8 L805.1,149.7 L805.4,156.5 L805.8,159.6 L806.2,145.3 L806.6,150.4 L807.0,150.1 L807.4,157.5 L807.8,163.4 L808.1,163.6 L808.5,159.7 L808.9,161.1 L809.3,157.7 L809.7,161.7 L810.1,152.0 L810.5,160.7 L810.8,161.8 L811.2,161.9 L811.6,164.1 L812.0,166.2 L812.4,157.9 L812.8,162.8 L813.1,161.7 L813.5,153.9 L813.9,156.3 L814.3,153.8 L814.7,158.3 L815.1,156.3 L815.5,156.9 L815.8,162.0 L816.2,155.8 L816.6,164.6 L817.0,165.8 L817.4,162.4 L817.8,162.4 L818.2,162.5 L818.5,163.5 L818.9,172.3 L819.3,160.9 L819.7,162.4 L820.1,160.4 L820.5,171.5 L820.8,172.9 L821.2,165.6 L821.6,176.4 L822.0,173.4 L822.4,164.7 L822.8,175.2 L823.2,173.6 L823.5,175.6 L823.9,171.2 L824.3,172.9 L824.7,178.5 L825.1,173.6 L825.5,176.9 L825.9,180.4 L826.2,181.1 L826.6,180.3 L827.0,181.1 L827.4,188.7 L827.8,189.1 L828.2,186.8 L828.5,179.5 L828.9,175.4 L829.3,191.1 L829.7,191.7 L830.1,183.9 L830.5,179.6 L830.9,179.5 L831.2,191.3 L831.6,189.0 L832.0,184.0 L832.4,181.5 L832.8,181.4 L833.2,189.8 L833.6,184.9 L833.9,186.5 L834.3,193.0 L834.7,185.2 L835.1,195.2 L835.5,187.2 L835.9,192.5 L836.2,187.4 L836.6,187.9 L837.0,198.6 L837.4,193.0 L837.8,188.4 L838.2,192.8 L838.6,196.9 L838.9,201.5 L839.3,202.6 L839.7,197.5 L840.1,194.5 L840.5,195.0 L840.9,195.7 L841.3,199.7 L841.6,195.5 L842.0,202.5 L842.4,203.6 L842.8,198.1 L843.2,201.1 L843.6,201.5 L843.9,209.0 L844.3,206.9 L844.7,214.5 L845.1,204.0 L845.5,213.0 L845.9,207.8 L846.3,218.1 L846.6,213.9 L847.0,217.9 L847.4,214.8 L847.8,211.8 L848.2,214.1 L848.6,222.2 L849.0,215.7 L849.3,224.0 L849.7,218.4 L850.1,213.8 L850.5,218.0 L850.9,222.0 L851.3,218.8 L851.6,220.9 L852.0,224.8 L852.4,225.9 L852.8,222.6 L853.2,224.1 L853.6,224.9 L854.0,233.8 L854.3,222.4 L854.7,224.6 L855.1,236.6 L855.5,228.3 L855.9,235.6 L856.3,229.6 L856.7,235.4 L857.0,234.4 L857.4,235.7 L857.8,236.2 L858.2,237.3 L858.6,237.7 L859.0,241.1 L859.3,241.3 L859.7,247.8 L860.1,241.0 L860.5,245.6 L860.9,251.5 L861.3,241.1 L861.7,243.5 L862.0,248.6 L862.4,244.4 L862.8,239.7 L863.2,253.3 L863.6,244.5 L864.0,241.0 L864.4,255.0 L864.7,253.5 L865.1,252.2 L865.5,242.7 L865.9,257.7 L866.3,249.8 L866.7,254.5 L867.0,256.3 L867.4,258.7 L867.8,252.9 L868.2,254.5 L868.6,253.9 L869.0,247.6 L869.4,253.8 L869.7,255.1 L870.1,253.3 L870.5,254.6 L870.9,251.7 L871.3,253.9 L871.7,257.4 L872.1,249.4 L872.4,250.7 L872.8,256.3 L873.2,254.7 L873.6,265.5 L874.0,254.7 L874.4,256.6 L874.7,262.9 L875.1,268.2 L875.5,264.4 L875.9,262.3 L876.3,266.5 L876.7,266.7 L877.1,270.0 L877.4,267.1 L877.8,265.3 L878.2,265.6 L878.6,275.7 L879.0,266.7 L879.4,270.4 L879.8,275.8 L880.1,268.4 L880.5,278.9 L880.9,280.6 L881.3,271.7 L881.7,268.7 L882.1,279.4 L882.4,277.0 L882.8,280.0 L883.2,276.4 L883.6,273.3 L884.0,273.7 L884.4,277.4 L884.8,277.6 L885.1,283.7 L885.5,283.0 L885.9,289.4 L886.3,288.3 L886.7,288.4 L887.1,282.8 L887.5,283.6 L887.8,293.5 L888.2,290.8 L888.6,284.8 L889.0,283.5 L889.4,286.9 L889.8,290.0 L890.1,298.5 L890.5,292.5 L890.9,285.5 L891.3,299.0 L891.7,298.8 L892.1,290.8 L892.5,291.9 L892.8,292.4 L893.2,299.0 L893.6,306.1 L894.0,295.3 L894.4,294.0 L894.8,300.4 L895.2,303.5 L895.5,307.9 L895.9,306.5 L896.3,303.4 L896.7,300.1 L897.1,310.9 L897.5,305.9 L897.8,313.5 L898.2,306.2 L898.6,307.5 L899.0,308.5 L899.4,312.7 L899.8,315.1 L900.2,304.6 L900.5,304.5 L900.9,311.0 L901.3,305.5 L901.7,314.5 L902.1,315.3 L902.5,316.0 L902.9,320.8 L903.2,317.5 L903.6,316.8 L904.0,313.2 L904.4,320.0 L904.8,319.4 L905.2,314.5 L905.5,319.0 L905.9,317.7 L906.3,321.2 L906.7,325.2 L907.1,322.4 L907.5,320.7 L907.9,316.5 L908.2,324.4 L908.6,328.6 L909.0,330.6 L909.4,316.7 L909.8,322.7 L910.2,320.2 L910.6,321.0 L910.9,325.5 L911.3,331.4 L911.7,327.7 L912.1,333.9 L912.5,327.2 L912.9,321.9 L913.2,329.9 L913.6,329.4 L914.0,333.1 L914.4,325.0 L914.8,324.5 L915.2,329.8 L915.6,332.3 L915.9,337.1 L916.3,330.6 L916.7,337.7 L917.1,336.8 L917.5,336.5 L917.9,338.3 L918.3,332.4 L918.6,334.2 L919.0,331.2 L919.4,333.6 L919.8,334.1 L920.2,343.8 L920.6,340.0 L920.9,337.3 L921.3,342.6 L921.7,349.1 L922.1,343.7 L922.5,350.6 L922.9,348.0 L923.3,346.3 L923.6,352.2 L924.0,354.6 L924.4,355.8 L924.8,354.5 L925.2,351.9 L925.6,359.7 L926.0,359.1 L926.3,360.0 L926.7,360.0 L927.1,371.6 L927.5,366.2 L927.9,374.2 L928.3,376.8 L928.6,376.1 L929.0,364.8 L929.4,371.7 L929.8,370.0 L930.2,374.0 L930.6,374.3 L931.0,379.8 L931.3,376.3 L931.7,383.2 L932.1,380.3 L932.5,381.8 L932.9,382.6 L933.3,389.5 L933.7,384.5 L934.0,388.7 L934.4,393.1 L934.8,382.9 L935.2,392.9 L935.6,381.2 L936.0,388.2 L936.3,390.7 L936.7,396.2 L937.1,396.9 L937.5,387.5 L937.9,388.0 L938.3,393.6 L938.7,386.7 L939.0,395.6 L939.4,392.9 L939.8,399.3 L940.2,396.9 L940.6,392.3 L941.0,397.5 L941.4,401.0 L941.7,398.7 L942.1,394.8 L942.5,399.7 L942.9,405.6 L943.3,397.4 L943.7,410.2 L944.0,402.1 L944.4,408.0 L944.8,408.2 L945.2,413.6 L945.6,415.0 L946.0,418.1 L946.4,413.9 L946.7,412.7 L947.1,424.5 L947.5,422.0 L947.9,420.5 L948.3,414.9 L948.7,423.2 L949.1,423.9 L949.4,425.5 L949.8,432.4 L950.2,428.5 L950.6,435.3 L951.0,427.4 L951.4,429.0 L951.7,430.5 L952.1,439.7 L952.5,437.8 L952.9,443.9 L953.3,437.7 L953.7,444.2 L954.1,436.1 L954.4,441.2 L954.8,446.8 L955.2,442.4 L955.6,445.7 L956.0,442.6 L956.4,439.9 L956.8,453.2 L957.1,450.2 L957.5,442.0 L957.9,453.4 L958.3,447.5 L958.7,442.5 L959.1,453.9 L959.4,444.5 L959.8,454.3 L960.2,450.6 L960.6,450.0 L961.0,459.4 L961.4,449.0 L961.8,450.3 L962.1,462.9 L962.5,457.1 L962.9,451.7 L963.3,460.9 L963.7,460.6 L964.1,463.5 L964.5,468.2 L964.8,469.0 L965.2,461.8 L965.6,468.8 L966.0,460.1 L966.4,462.0 L966.8,465.6 L967.1,470.1 L967.5,467.6 L967.9,479.6 L968.3,467.2 L968.7,467.9 L969.1,474.5 L969.5,476.0 L969.8,474.5 L970.2,486.5 L970.6,477.6 L971.0,483.4 L971.4,490.0 L971.8,484.9 L972.2,479.0 L972.5,484.9 L972.9,490.7 L973.3,488.3 L973.7,484.5 L974.1,495.3 L974.5,484.5 L974.8,497.1 L975.2,498.3 L975.6,500.5 L976.0,489.0 L976.4,493.6 L976.8,494.0 L977.2,498.3 L977.5,503.3 L977.9,500.1 L978.3,503.7 L978.7,498.4 L979.1,497.7 L979.5,500.1 L979.9,502.9 L980.2,505.1 L980.6,499.7 L981.0,507.5 L981.4,497.5 L981.8,504.5 L982.2,504.8 L982.5,501.0 L982.9,512.3 L983.3,501.7 L983.7,502.9 L984.1,511.2 L984.5,515.0 L984.9,507.0 L985.2,518.9 L985.6,509.9 L986.0,511.3 L986.4,521.0 L986.8,524.0 L987.2,523.5 L987.6,516.1 L987.9,521.3 L988.3,515.0 L988.7,528.3 L989.1,517.6 L989.5,518.8 L989.9,529.4 L990.2,534.3 L990.6,524.7 L991.0,528.8 L991.4,529.3 L991.8,538.3 L992.2,541.6 L992.6,539.8 L992.9,532.6 L993.3,546.1 L993.7,536.0 L994.1,546.0 L994.5,545.7 L994.9,543.2 L995.3,539.9 L995.6,545.8 L996.0,546.8 L996.4,545.0 L996.8,547.1 L997.2,546.3 L997.6,555.1 L997.9,547.1 L998.3,548.0 L998.7,552.6 L999.1,563.1 L999.5,559.5 L999.9,554.6 L1000.3,563.8 L1000.6,561.0 L1001.0,564.1 L1001.4,567.3 L1001.8,562.4 L1002.2,566.1 L1002.6,560.5 L1003.0,571.6 L1003.3,561.1 L1003.7,569.2 L1004.1,565.0 L1004.5,572.9 L1004.9,575.4 L1005.3,576.6 L1005.6,574.2 L1006.0,575.4 L1006.4,570.1 L1006.8,570.9 L1007.2,567.6 L1007.6,572.2 L1008.0,573.7 L1008.3,578.5 L1008.7,582.6 L1009.1,575.1 L1009.5,582.2 L1009.9,571.4 L1010.3,576.6 L1010.7,586.4 L1011.0,581.5 L1011.4,587.1 L1011.8,589.2 L1012.2,584.5 L1012.6,578.0 L1013.0,590.1 L1013.3,579.0 L1013.7,587.6 L1014.1,590.6 L1014.5,582.6 L1014.9,592.3 L1015.3,595.6 L1015.7,585.9 L1016.0,586.8 L1016.4,589.7 L1016.8,590.8 L1017.2,596.0 L1017.6,591.5 L1018.0,598.5 L1018.4,598.3 L1018.7,603.6 L1019.1,599.1 L1019.5,597.1 L1019.9,604.1 L1020.3,606.4 L1020.7,607.8 L1021.0,602.9 L1021.4,608.7 L1021.8,605.0 L1022.2,603.2 L1022.6,611.5 L1023.0,602.0 L1023.4,612.4 L1023.7,612.7 L1024.1,606.0 L1024.5,602.8 L1024.9,615.1 L1025.3,607.8 L1025.7,611.9 L1026.1,616.4 L1026.4,612.4 L1026.8,615.3 L1027.2,617.0 L1027.6,611.2 L1028.0,616.4 L1028.4,613.8 L1028.7,625.2 L1029.1,613.4 L1029.5,624.1 L1029.9,620.7 L1030.3,627.6 L1030.7,626.3 L1031.1,623.3 L1031.4,620.3 L1031.8,620.7 L1032.2,625.5 L1032.6,629.4 L1033.0,625.2 L1033.4,629.1 L1033.8,632.8 L1034.1,625.2 L1034.5,625.6 L1034.9,635.0 L1035.3,637.7 L1035.7,628.9 L1036.1,629.0 L1036.4,640.2 L1036.8,636.9 L1037.2,633.9 L1037.6,640.2 L1038.0,635.1 L1038.4,646.5 L1038.8,640.3 L1039.1,646.0 L1039.5,640.1 L1039.9,650.6 L1040.3,642.0 L1040.7,646.4 L1041.1,643.9 L1041.5,652.8 L1041.8,643.8 L1042.2,647.1 L1042.6,656.5 L1043.0,645.9 L1043.4,656.4 L1043.8,654.2 L1044.1,655.4 L1044.5,650.4 L1044.9,651.5 L1045.3,661.5 L1045.7,651.7 L1046.1,662.0 L1046.5,655.1 L1046.8,664.2 L1047.2,661.2 L1047.6,666.3 L1048.0,659.5 L1048.4,664.1 L1048.8,662.8 L1049.2,657.6 L1049.5,660.8 L1049.9,670.2 L1050.3,667.7 L1050.7,666.6 L1051.1,670.5 L1051.5,674.9 L1051.8,671.7 L1052.2,673.2 L1052.6,674.7 L1053.0,675.8 L1053.4,677.2 L1053.8,667.8 L1054.2,673.8 L1054.5,670.6 L1054.9,670.6 L1055.3,670.2 L1055.7,674.4 L1056.1,671.4 L1056.5,681.7 L1056.9,681.7 L1057.2,676.1 L1057.6,680.5 L1058.0,683.7 L1058.4,681.9 L1058.8,682.4 L1059.2,676.3 L1059.5,683.3 L1059.9,677.8 L1060.3,688.1 L1060.7,679.8 L1061.1,681.0 L1061.5,690.4 L1061.9,683.1 L1062.2,683.5 L1062.6,684.2 L1063.0,683.4 L1063.4,690.2 L1063.8,690.4 L1064.2,694.4 L1064.6,691.6 L1064.9,686.5 L1065.3,691.1 L1065.7,689.4 L1066.1,689.1 L1066.5,693.1 L1066.9,694.5 L1067.2,699.6 L1067.6,695.1 L1068.0,695.1 L1068.4,703.5 L1068.8,704.7 L1069.2,692.3 L1069.6,705.5 L1069.9,695.7 L1070.3,698.8 L1070.7,696.5 L1071.1,701.0 L1071.5,701.5 L1071.9,706.7 L1072.3,702.3 L1072.6,698.9 L1073.0,708.5 L1073.4,699.8 L1073.8,709.7 L1074.2,705.2 L1074.6,702.2 L1074.9,704.5 L1075.3,712.3 L1075.7,709.7 L1076.1,707.3 L1076.5,705.5 L1076.9,709.5 L1077.3,707.6 L1077.6,713.9 L1078.0,713.2 L1078.4,718.9 L1078.8,717.7 L1079.2,718.9 L1079.6,711.2 L1080.0,711.9 L1080.3,712.9 L1080.7,720.8 L1081.1,714.1 L1081.5,719.1 L1081.9,725.7 L1082.3,722.6 L1082.6,728.1 L1083.0,723.0 L1083.4,717.8 L1083.8,725.6 L1084.2,726.7 L1084.6,731.5 L1085.0,726.7 L1085.3,724.8 L1085.7,722.2 L1086.1,730.7 L1086.5,732.7 L1086.9,724.2 L1087.3,736.2 L1087.7,733.4 L1088.0,732.3 L1088.4,726.7 L1088.8,731.9 L1089.2,728.8 L1089.6,729.0 L1090.0,731.6 L1090.3,731.7 L1090.7,740.3 L1091.1,732.8 L1091.5,733.5 L1091.9,740.6 L1092.3,742.7 L1092.7,742.5 L1093.0,735.2 L1093.4,737.8 L1093.8,741.4 L1094.2,747.2 L1094.6,737.0 L1095.0,749.5 L1095.4,747.5 L1095.7,738.8 L1096.1,744.6 L1096.5,747.6 L1096.9,745.9 L1097.3,744.8 L1097.7,744.7 L1098.0,747.1 L1098.4,754.3 L1098.8,753.3 L1099.2,752.6 L1099.6,750.4 L1100.0,749.5 L1100.4,747.1 L1100.7,755.5 L1101.1,757.3 L1101.5,748.2 L1101.9,751.9 L1102.3,755.2 L1102.7,759.6 L1103.1,758.5 L1103.4,750.9 L1103.8,755.1 L1104.2,762.3 L1104.6,756.5 L1105.0,757.8 L1105.4,754.0 L1105.7,763.4 L1106.1,760.0 L1106.5,753.7 L1106.9,756.8 L1107.3,758.3 L1107.7,762.2 L1108.1,764.9 L1108.4,767.6 L1108.8,765.3 L1109.2,765.2 L1109.6,764.9 L1110.0,760.3 L1110.4,766.5 L1110.8,764.4 L1111.1,771.5 L1111.5,769.5 L1111.9,762.8 L1112.3,773.8 L1112.7,775.5 L1113.1,776.8 L1113.4,778.5 L1113.8,777.4 L1114.2,778.9 L1114.6,778.5 L1115.0,776.0 L1115.4,772.8 L1115.8,771.9 L1116.1,775.7 L1116.5,782.6 L1116.9,773.5 L1117.3,776.1 L1117.7,774.3 L1118.1,775.7 L1118.5,783.4 L1118.8,773.6 L1119.2,776.3 L1119.6,782.6 L1120.0,776.9 L1120.4,781.7 L1120.8,786.2 L1121.1,779.5 L1121.5,774.9 L1121.9,779.5 L1122.3,776.4 L1122.7,786.1 L1123.1,782.3 L1123.5,785.3 L1123.8,777.1 L1124.2,787.8 L1124.6,789.7 L1125.0,783.3 L1125.4,785.2 L1125.8,788.3 L1126.2,779.2 L1126.5,788.0 L1126.9,789.1 L1127.3,783.7 L1127.7,780.3 L1128.1,788.0 L1128.5,783.8 L1128.8,793.5 L1129.2,783.5 L1129.6,788.0 L1130.0,787.0 L1130.4,789.9 L1130.8,796.3 L1131.2,791.9 L1131.5,795.3 L1131.9,795.6 L1132.3,787.6 L1132.7,794.5 L1133.1,788.8 L1133.5,790.1 L1133.9,791.6 L1134.2,795.0 L1134.6,800.9 L1135.0,791.4 L1135.4,802.2 L1135.8,797.9 L1136.2,791.8 L1136.5,793.9 L1136.9,796.7 L1137.3,796.5 L1137.7,792.9 L1138.1,795.4 L1138.5,798.8 L1138.9,801.4 L1139.2,805.3 L1139.6,796.2 L1140.0,797.0 L1140.4,799.3 L1140.8,796.3 L1141.2,808.0 L1141.6,807.3 L1141.9,801.1 L1142.3,796.3 L1142.7,797.6 L1143.1,801.9 L1143.5,809.4 L1143.9,804.1 L1144.2,803.7 L1144.6,802.0 L1145.0,799.9 L1145.4,803.1 L1145.8,807.0 L1146.2,804.5 L1146.6,810.3 L1146.9,809.3 L1147.3,809.0 L1147.7,811.7 L1148.1,804.2 L1148.5,813.9 L1148.9,809.7 L1149.3,815.7 L1149.6,806.2 L1150.0,815.2 L1150.4,812.4 L1150.8,808.7 L1151.2,812.5 L1151.6,814.3 L1151.9,821.4 L1152.3,817.4 L1152.7,817.6 L1153.1,814.9 L1153.5,818.3 L1153.9,821.6 L1154.3,818.7 L1154.6,821.3 L1155.0,816.2 L1155.4,821.5 L1155.8,822.3 L1156.2,819.6 L1156.6,822.7 L1157.0,824.7 L1157.3,830.0 L1157.7,825.7 L1158.1,821.1 L1158.5,820.2 L1158.9,822.3 L1159.3,832.7 L1159.6,823.1 L1160.0,828.7 L1160.4,826.7 L1160.8,828.1 L1161.2,830.3 L1161.6,834.5 L1162.0,833.0 L1162.3,833.6 L1162.7,828.5 L1163.1,836.8 L1163.5,838.1 L1163.9,828.2 L1164.3,830.8 L1164.7,832.3 L1165.0,837.9 L1165.4,838.4 L1165.8,831.7 L1166.2,838.7 L1166.6,829.9 L1167.0,839.1 L1167.3,833.5 L1167.7,838.8 L1168.1,838.1 L1168.5,838.1 L1168.9,842.3 L1169.3,837.4 L1169.7,831.7 L1170.0,836.6 L1170.4,840.9 L1170.8,836.9 L1171.2,831.7 L1171.6,838.1 L1172.0,838.2 L1172.4,834.7 L1172.7,844.1 L1173.1,841.3 L1173.5,840.5 L1173.9,841.9 L1174.3,839.0 L1174.7,836.2 L1175.0,841.2 L1175.4,836.5 L1175.8,841.2 L1176.2,835.5 L1176.6,843.1 L1177.0,841.8 L1177.4,839.0 L1177.7,848.1 L1178.1,836.9 L1178.5,842.9 L1178.9,844.1 L1179.3,847.6 L1179.7,848.1 L1180.1,843.4 L1180.4,839.1 L1180.8,842.0 L1181.2,838.2 L1181.6,837.5 L1182.0,843.9 L1182.4,848.5 L1182.7,839.2 L1183.1,849.0 L1183.5,845.1 L1183.9,850.3 L1184.3,842.0 L1184.7,844.1 L1185.1,847.8 L1185.4,843.8 L1185.8,846.8 L1186.2,848.0 L1186.6,847.9 L1187.0,845.6 L1187.4,852.6 L1187.8,849.3 L1188.1,854.3 L1188.5,850.8 L1188.9,853.1 L1189.3,850.7 L1189.7,853.7 L1190.1,854.8 L1190.4,860.4 L1190.8,861.2 L1191.2,851.0 L1191.6,856.4 L1192.0,849.7 L1192.4,856.6 L1192.8,861.3 L1193.1,853.0 L1193.5,858.6 L1193.9,854.9 L1194.3,862.6 L1194.7,851.7 L1195.1,861.0 L1195.5,858.8 L1195.8,858.4 L1196.2,857.2 L1196.6,852.2 L1197.0,853.3 L1197.4,859.9 L1197.8,860.0 L1198.1,855.4 L1198.5,860.7 L1198.9,862.1 L1199.3,853.2 L1199.7,856.0 L1200.1,860.7 L1200.5,863.7 L1200.8,860.2 L1201.2,861.6 L1201.6,863.5 L1202.0,860.3 L1202.4,865.9 L1202.8,865.0 L1203.2,861.5 L1203.5,863.7 L1203.9,863.8 L1204.3,860.8 L1204.7,868.7 L1205.1,860.2 L1205.5,858.0 L1205.8,859.1 L1206.2,860.0 L1206.6,871.3 L1207.0,868.3 L1207.4,871.4 L1207.8,871.6 L1208.2,871.0 L1208.5,872.7 L1208.9,861.7 L1209.3,866.3 L1209.7,870.1 L1210.1,871.2 L1210.5,874.5 L1210.9,874.4 L1211.2,866.7 L1211.6,869.2 L1212.0,871.6 L1212.4,869.9 L1212.8,871.3 L1213.2,867.2 L1213.5,869.3 L1213.9,871.1 L1214.3,876.6 L1214.7,869.8 L1215.1,865.8 L1215.5,873.9 L1215.9,873.0 L1216.2,867.9 L1216.6,875.7 L1217.0,870.4 L1217.4,870.2 L1217.8,868.3 L1218.2,867.3 L1218.6,868.2 L1218.9,876.9 L1219.3,869.4 L1219.7,872.0 L1220.1,874.7 L1220.5,879.6 L1220.9,872.9 L1221.2,875.3 L1221.6,872.1 L1222.0,873.7 L1222.4,879.7 L1222.8,872.7 L1223.2,880.2 L1223.6,880.5 L1223.9,873.7 L1224.3,870.8 L1224.7,873.4 L1225.1,870.6 L1225.5,880.9 L1225.9,881.6 L1226.3,876.8 L1226.6,879.7 L1227.0,879.6 L1227.4,880.9 L1227.8,879.6 L1228.2,874.0 L1228.6,878.4 L1228.9,877.3 L1229.3,881.8 L1229.7,875.7 L1230.1,875.1 L1230.5,879.7 L1230.9,877.2 L1231.3,881.2 L1231.6,883.5 L1232.0,882.7 L1232.4,885.0 L1232.8,873.8 L1233.2,873.4 L1233.6,884.0 L1234.0,875.7 L1234.3,879.1 L1234.7,876.9 L1235.1,879.2 L1235.5,880.6 L1235.9,882.6 L1236.3,882.7 L1236.6,876.6 L1237.0,884.6 L1237.4,886.7 L1237.8,876.2 L1238.2,885.7 L1238.6,888.4 L1239.0,886.5 L1239.3,879.9 L1239.7,880.5 L1240.1,879.4 L1240.5,879.5 L1240.9,878.4 L1241.3,887.2 L1241.7,888.8 L1242.0,879.7 L1242.4,880.4 L1242.8,885.8 L1243.2,888.7 L1243.6,890.4 L1244.0,880.6 L1244.3,885.1 L1244.7,885.5 L1245.1,890.9 L1245.5,890.8 L1245.9,887.7 L1246.3,881.5 L1246.7,882.4 L1247.0,889.4 L1247.4,891.9 L1247.8,884.8 L1248.2,883.1 L1248.6,880.6 L1249.0,884.2 L1249.4,889.1 L1249.7,885.4 L1250.1,883.1 L1250.5,889.6 L1250.9,880.4 L1251.3,890.1 L1251.7,891.8 L1252.0,888.2 L1252.4,882.2 L1252.8,885.0 L1253.2,888.9 L1253.6,888.4 L1254.0,886.4 L1254.4,882.7 L1254.7,880.8 L1255.1,884.6 L1255.5,891.9 L1255.9,882.7 L1256.3,883.6 L1256.7,885.2 L1257.1,883.9 L1257.4,894.3 L1257.8,885.9 L1258.2,888.4 L1258.6,882.1 L1259.0,882.8 L1259.4,889.2 L1259.7,884.7 L1260.1,886.2 L1260.5,886.2 L1260.9,891.4 L1261.3,886.8 L1261.7,896.0 L1262.1,896.3 L1262.4,894.1 L1262.8,894.4 L1263.2,897.5 L1263.6,886.7 L1264.0,888.2 L1264.4,888.7 L1264.8,888.6 L1265.1,887.5 L1265.5,897.8 L1265.9,893.8 L1266.3,895.6 L1266.7,895.8 L1267.1,892.4 L1267.4,896.5 L1267.8,889.4 L1268.2,899.8 L1268.6,899.4 L1269.0,890.3 L1269.4,898.4 L1269.8,897.1 L1270.1,895.9 L1270.5,892.4 L1270.9,890.1 L1271.3,893.2 L1271.7,898.8 L1272.1,890.9 L1272.5,897.8 L1272.8,900.9 L1273.2,901.6 L1273.6,891.5 L1274.0,895.6 L1274.4,899.3 L1274.8,901.7 L1275.1,890.2 L1275.5,892.6 L1275.9,893.3 L1276.3,897.9 L1276.7,900.7 L1277.1,898.9 L1277.5,895.4 L1277.8,896.0 L1278.2,902.8 L1278.6,893.5 L1279.0,897.2 L1279.4,897.7 L1279.8,896.9 L1280.2,898.2 L1280.5,893.1 L1280.9,902.7 L1281.3,896.8 L1281.7,897.9 L1282.1,893.4 L1282.5,897.4 L1282.8,903.4 L1283.2,901.7 L1283.6,895.1 L1284.0,905.6 L1284.4,897.0 L1284.8,900.4 L1285.2,906.5 L1285.5,896.5 L1285.9,904.7 L1286.3,903.0 L1286.7,900.6 L1287.1,903.2 L1287.5,896.6 L1287.9,895.2 L1288.2,895.9 L1288.6,901.6 L1289.0,898.0 L1289.4,904.1 L1289.8,902.3 L1290.2,901.9 L1290.5,903.0 L1290.9,906.0 L1291.3,897.0 L1291.7,900.2 L1292.1,904.2 L1292.5,904.9 L1292.9,907.5 L1293.2,903.0 L1293.6,904.9 L1294.0,897.7 L1294.4,907.8 L1294.8,906.6 L1295.2,900.9 L1295.6,905.7 L1295.9,904.9 L1296.3,897.2 L1296.7,906.3 L1297.1,907.3 L1297.5,905.1 L1297.9,904.4 L1298.2,903.1 L1298.6,900.5 L1299.0,908.0 L1299.4,907.5 L1299.8,898.4 L1300.2,901.5 L1300.6,909.1 L1300.9,903.1 L1301.3,900.1 L1301.7,908.0 L1302.1,905.0 L1302.5,901.4 L1302.9,908.1 L1303.3,902.6 L1303.6,906.5 L1304.0,904.4 L1304.4,904.0 L1304.8,911.1 L1305.2,903.7 L1305.6,902.1 L1305.9,909.8 L1306.3,911.2 L1306.7,905.5 L1307.1,905.7 L1307.5,906.4 L1307.9,900.8 L1308.3,911.1 L1308.6,903.7 L1309.0,900.8 L1309.4,901.2 L1309.8,902.2 L1310.2,908.7 L1310.6,908.6 L1311.0,906.0 L1311.3,901.6 L1311.7,910.6 L1312.1,911.0 L1312.5,900.4 L1312.9,907.2 L1313.3,904.3 L1313.6,900.3 L1314.0,911.1 L1314.4,907.3 L1314.8,901.9 L1315.2,910.4 L1315.6,901.5 L1316.0,904.0 L1316.3,908.3 L1316.7,903.1 L1317.1,908.1 L1317.5,902.7 L1317.9,901.1 L1318.3,906.4 L1318.7,905.4 L1319.0,911.4 L1319.4,912.0 L1319.8,909.1 L1320.2,910.6 L1320.6,908.3 L1321.0,912.0 L1321.3,905.7 L1321.7,907.4 L1322.1,912.0 L1322.5,913.2 L1322.9,906.8 L1323.3,901.7 L1323.7,902.0 L1324.0,901.5 L1324.4,908.9 L1324.8,902.8 L1325.2,913.1 L1325.6,914.5 L1326.0,913.0 L1326.4,914.2 L1326.7,912.8 L1327.1,908.0 L1327.5,903.4 L1327.9,904.6 L1328.3,907.2 L1328.7,913.1 L1329.0,905.6 L1329.4,905.7 L1329.8,903.4 L1330.2,906.7 L1330.6,909.3 L1331.0,910.0 L1331.4,907.4 L1331.7,910.2 L1332.1,901.3 L1332.5,912.4 L1332.9,905.1 L1333.3,908.5 L1333.7,908.3 L1334.1,906.8 L1334.4,909.6 L1334.8,904.5 L1335.2,906.1 L1335.6,907.8 L1336.0,908.5 L1336.4,907.0 L1336.7,905.0 L1337.1,912.3 L1337.5,912.8 L1337.9,912.7 L1338.3,909.8 L1338.7,908.3 L1339.1,909.5 L1339.4,905.3 L1339.8,906.8 L1340.2,906.9 L1340.6,908.7 L1341.0,903.2 L1341.4,915.3 L1341.8,909.7 L1342.1,911.1 L1342.5,903.2 L1342.9,911.9 L1343.3,910.6 L1343.7,906.4 L1344.1,910.7 L1344.4,914.3 L1344.8,913.5 L1345.2,909.9 L1345.6,911.7 L1346.0,909.2 L1346.4,913.5 L1346.8,904.1 L1347.1,912.2 L1347.5,911.6 L1347.9,908.6 L1348.3,905.7 L1348.7,905.4 L1349.1,909.5 L1349.5,905.6 L1349.8,908.2 L1350.2,912.3 L1350.6,910.5 L1351.0,912.6 L1351.4,906.7 L1351.8,909.3 L1352.1,910.0 L1352.5,912.3 L1352.9,907.2 L1353.3,913.3 L1353.7,912.7 L1354.1,916.7 L1354.5,915.5 L1354.8,912.9 L1355.2,913.1 L1355.6,911.9 L1356.0,909.1 L1356.4,914.1 L1356.8,915.3 L1357.2,909.5 L1357.5,908.4 L1357.9,905.9 L1358.3,911.1 L1358.7,916.7 L1359.1,913.1 L1359.5,908.7 L1359.8,912.3 L1360.2,915.6 L1360.6,905.1 L1361.0,906.4 L1361.4,913.8 L1361.8,915.4 L1362.2,910.7 L1362.5,913.5 L1362.9,910.0 L1363.3,907.0 L1363.7,912.7 L1364.1,911.6 L1364.5,908.6 L1364.9,909.7 L1365.2,916.3 L1365.6,912.2 L1366.0,914.7 L1366.4,905.5 L1366.8,910.6 L1367.2,906.4 L1367.5,913.1 L1367.9,915.8 L1368.3,905.3 L1368.7,905.4 L1369.1,909.4 L1369.5,915.1 L1369.9,916.1 L1370.2,908.6 L1370.6,910.4 L1371.0,912.9 L1371.4,910.0 L1371.8,916.7 L1372.2,914.7 L1372.6,904.9 L1372.9,911.8 L1373.3,912.0 L1373.7,905.1 L1374.1,911.9 L1374.5,917.0 L1374.9,909.1 L1375.2,911.2 L1375.6,914.4 L1376.0,911.1 L1376.4,914.1 L1376.8,908.8 L1377.2,905.4 L1377.6,916.9 L1377.9,908.2 L1378.3,906.6 L1378.7,908.5 L1379.1,910.2 L1379.5,913.6 L1379.9,912.2 L1380.3,915.2 L1380.6,916.1 L1381.0,907.9 L1381.4,915.3 L1381.8,916.1 L1382.2,913.7 L1382.6,916.7 L1382.9,909.2 L1383.3,910.0 L1383.7,911.0 L1384.1,915.6 L1384.5,910.0 L1384.9,907.7 L1385.3,912.2 L1385.6,913.1 L1386.0,911.3 L1386.4,913.2 L1386.8,911.9 L1387.2,909.6 L1387.6,916.5 L1388.0,913.4 L1388.3,915.7 L1388.7,914.4 L1389.1,907.1 L1389.5,912.5 L1389.9,911.7 L1390.3,913.7 L1390.6,905.6 L1391.0,906.9 L1391.4,917.4 L1391.8,915.1 L1392.2,913.0 L1392.6,908.9 L1393.0,914.6 L1393.3,916.4 L1393.7,916.9 L1394.1,908.0 L1394.5,913.8" fill="none" stroke="#37AD6B" stroke-width="9" stroke-linejoin="round" stroke-linecap="round"/></g>
<text class="tk" transform="translate(162.0,987.6) scale(1.045,1)" text-anchor="middle">-40</text>
<text class="tk" transform="translate(316.0,987.6) scale(1.045,1)" text-anchor="middle">-30</text>
<text class="tk" transform="translate(470.0,987.6) scale(1.045,1)" text-anchor="middle">-20</text>
<text class="tk" transform="translate(624.0,987.6) scale(1.045,1)" text-anchor="middle">-10</text>
<text class="tk" transform="translate(778.0,987.6) scale(1.045,1)" text-anchor="middle">0</text>
<text class="tk" transform="translate(931.0,987.6) scale(1.045,1)" text-anchor="middle">10</text>
<text class="tk" transform="translate(1085.0,987.6) scale(1.045,1)" text-anchor="middle">20</text>
<text class="tk" transform="translate(1239.0,987.6) scale(1.045,1)" text-anchor="middle">30</text>
<text class="tk" transform="translate(1394.0,987.6) scale(1.045,1)" text-anchor="middle">40</text>
<text class="tk" transform="translate(145.2,950.5) scale(1.045,1)" text-anchor="end">0.0</text>
<text class="tk" transform="translate(145.2,788.5) scale(1.045,1)" text-anchor="end">0.2</text>
<text class="tk" transform="translate(145.2,626.5) scale(1.045,1)" text-anchor="end">0.4</text>
<text class="tk" transform="translate(145.2,464.5) scale(1.045,1)" text-anchor="end">0.6</text>
<text class="tk" transform="translate(145.2,302.5) scale(1.045,1)" text-anchor="end">0.8</text>
<text class="tk" transform="translate(145.2,140.5) scale(1.045,1)" text-anchor="end">1.0</text>
<text class="tt" x="777.5" y="1042" text-anchor="middle">Angle (deg)</text>
<text class="tt" transform="translate(77,487) rotate(-90)" text-anchor="middle" style="letter-spacing:0.55px">Normalized intesity (a.u.)</text>
<line x1="214.5" y1="112.4" x2="338.5" y2="112.4" stroke="#515151" stroke-width="9" stroke-linecap="round"/>
<text class="tt" x="353" y="130.9" style="letter-spacing:0.6px">0.7 A</text>
<line x1="214.5" y1="182.5" x2="338.5" y2="182.5" stroke="#F14040" stroke-width="9" stroke-linecap="round"/>
<text class="tt" x="353" y="201.0" style="letter-spacing:0.6px">0.9 A</text>
<line x1="214.5" y1="252.6" x2="338.5" y2="252.6" stroke="#1A6FDF" stroke-width="9" stroke-linecap="round"/>
<text class="tt" x="353" y="271.1" style="letter-spacing:0.6px">1.1 A</text>
<line x1="214.5" y1="322.7" x2="338.5" y2="322.7" stroke="#37AD6B" stroke-width="9" stroke-linecap="round"/>
<text class="tt" x="353" y="341.2" style="letter-spacing:0.6px">1.3 A</text>
</svg></body></html>
